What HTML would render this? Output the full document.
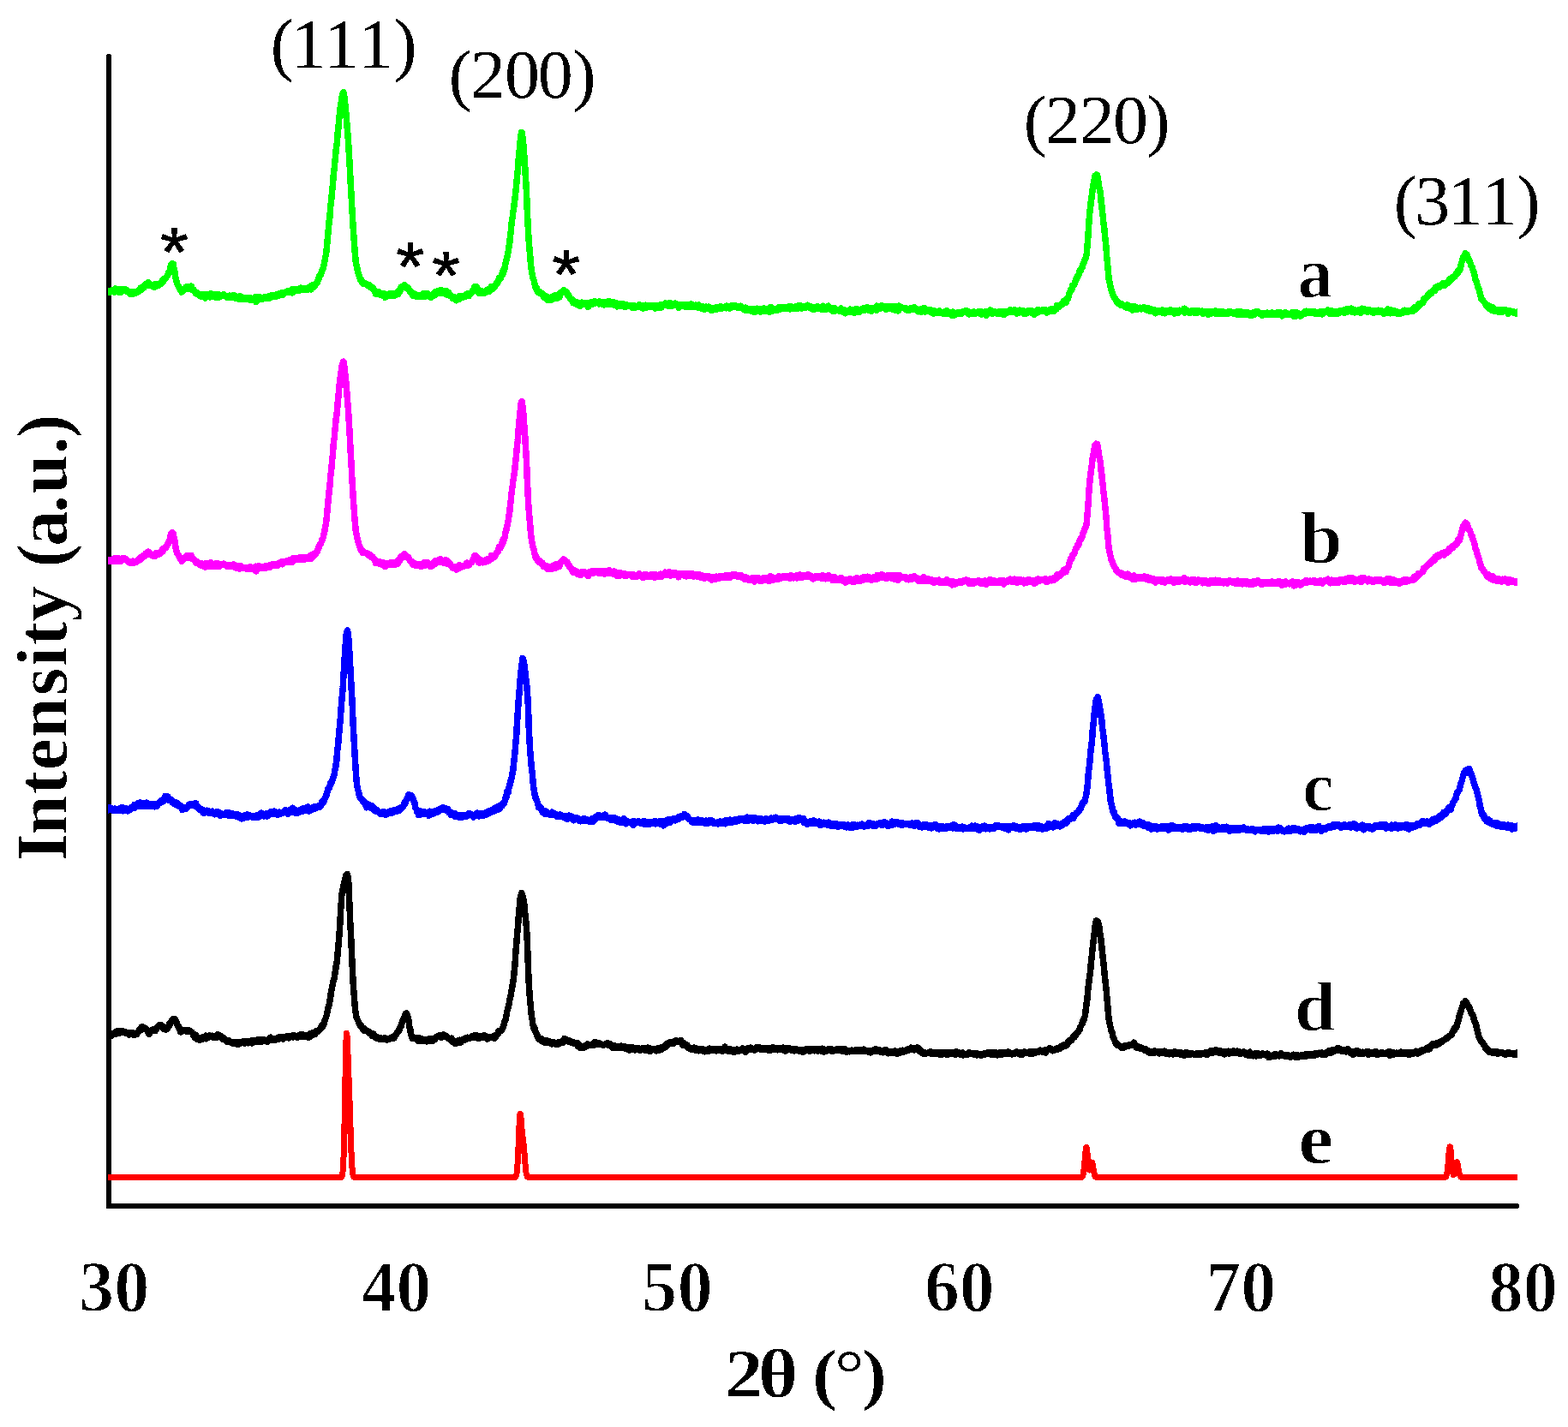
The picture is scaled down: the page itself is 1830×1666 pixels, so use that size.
<!DOCTYPE html>
<html lang="en">
<head>
<meta charset="utf-8">
<title>XRD patterns</title>
<style>
html,body{margin:0;padding:0;background:#fff;}
body{width:1830px;height:1666px;overflow:hidden;}
svg{display:block;}
.curve{fill:none;stroke-linejoin:round;stroke-linecap:butt;}
.axis{fill:none;stroke:#000;stroke-width:6;stroke-linecap:round;stroke-linejoin:miter;shape-rendering:crispEdges;}
text{font-size:100px;fill:#000;}
</style>
</head>
<body>
<svg width="1830" height="1666" viewBox="0 0 1830 1666" role="img" aria-label="XRD patterns">
<defs>
<filter id="hard" filterUnits="userSpaceOnUse" x="0" y="0" width="1830" height="1666" color-interpolation-filters="sRGB">
<feComponentTransfer><feFuncR type="discrete" tableValues="0 1"/><feFuncG type="discrete" tableValues="0 1"/><feFuncB type="discrete" tableValues="0 1"/><feFuncA type="discrete" tableValues="0 1"/></feComponentTransfer>
</filter>
</defs>
<clipPath id="plot"><rect x="126" y="0" width="1645" height="1666"/></clipPath>
<rect width="1830" height="1666" fill="#fff"/>
<path class="axis" d="M127,66 L127,1408 L1770,1408"/>
<g clip-path="url(#plot)"><g class="curve" stroke-width="7.5" filter="url(#hard)">
<path stroke="#f00" stroke-width="7" stroke-linejoin="round" d="M119.0,1374.6 L397.0,1374.6 L397.5,1374.5 L398.0,1374.4 L398.5,1374.1 L399.0,1373.4 L399.5,1371.7 L400.0,1368.3 L400.5,1361.9 L401.0,1351.0 L401.5,1334.6 L402.0,1312.3 L402.5,1285.4 L403.0,1257.1 L403.5,1231.9 L404.0,1214.1 L404.5,1206.3 L405.0,1208.5 L405.5,1218.0 L406.0,1231.1 L406.5,1244.9 L407.0,1258.1 L407.5,1271.1 L408.0,1284.9 L408.5,1300.1 L409.0,1316.1 L409.5,1331.7 L410.0,1345.5 L410.5,1356.3 L411.0,1364.1 L411.5,1369.0 L412.0,1371.9 L412.5,1373.4 L413.0,1374.1 L413.5,1374.4 L414.0,1374.5 L414.5,1374.6 L415.0,1374.6 L600.0,1374.6 L600.5,1374.6 L601.0,1374.5 L601.5,1374.2 L602.0,1373.7 L602.5,1372.5 L603.0,1370.1 L603.5,1366.0 L604.0,1359.5 L604.5,1350.4 L605.0,1338.8 L605.5,1326.0 L606.0,1313.9 L606.5,1304.8 L607.0,1300.3 L607.5,1300.8 L608.0,1305.4 L608.5,1312.0 L609.0,1318.5 L609.5,1323.8 L610.0,1327.6 L610.5,1330.9 L611.0,1334.7 L611.5,1339.7 L612.0,1345.8 L612.5,1352.6 L613.0,1359.0 L613.5,1364.4 L614.0,1368.5 L614.5,1371.3 L615.0,1372.9 L615.5,1373.8 L616.0,1374.3 L616.5,1374.5 L617.0,1374.6 L617.5,1374.6 L1261.0,1374.6 L1261.5,1374.6 L1262.0,1374.5 L1262.5,1374.4 L1263.0,1374.0 L1263.5,1373.4 L1264.0,1372.0 L1264.5,1369.8 L1265.0,1366.3 L1265.5,1361.5 L1266.0,1355.6 L1266.5,1349.3 L1267.0,1343.7 L1267.5,1340.0 L1268.0,1339.1 L1268.5,1341.1 L1269.0,1345.6 L1269.5,1351.4 L1270.0,1357.2 L1270.5,1361.9 L1271.0,1364.8 L1271.5,1365.8 L1272.0,1365.0 L1272.5,1362.9 L1273.0,1360.4 L1273.5,1358.1 L1274.0,1356.9 L1274.5,1357.1 L1275.0,1358.7 L1275.5,1361.3 L1276.0,1364.5 L1276.5,1367.5 L1277.0,1370.0 L1277.5,1371.9 L1278.0,1373.1 L1278.5,1373.9 L1279.0,1374.3 L1279.5,1374.5 L1280.0,1374.5 L1280.5,1374.6 L1685.5,1374.6 L1686.0,1374.6 L1686.5,1374.5 L1687.0,1374.3 L1687.5,1373.8 L1688.0,1372.9 L1688.5,1371.2 L1689.0,1368.5 L1689.5,1364.4 L1690.0,1359.0 L1690.5,1352.7 L1691.0,1346.5 L1691.5,1341.5 L1692.0,1338.8 L1692.5,1339.1 L1693.0,1342.3 L1693.5,1347.7 L1694.0,1354.0 L1694.5,1360.1 L1695.0,1365.2 L1695.5,1368.8 L1696.0,1370.9 L1696.5,1371.6 L1697.0,1371.2 L1697.5,1369.7 L1698.0,1367.3 L1698.5,1364.3 L1699.0,1361.1 L1699.5,1358.5 L1700.0,1356.9 L1700.5,1356.7 L1701.0,1358.0 L1701.5,1360.6 L1702.0,1363.7 L1702.5,1366.8 L1703.0,1369.5 L1703.5,1371.5 L1704.0,1372.9 L1704.5,1373.7 L1705.0,1374.2 L1705.5,1374.4 L1706.0,1374.5 L1706.5,1374.6 L1707.0,1374.6 L1777.5,1374.6"/>
<path stroke="#000" d="M119.0,1207.5 L119.7,1208.1 L120.3,1209.9 L121.0,1209.3 L121.6,1207.5 L122.3,1209.0 L123.0,1208.5 L123.6,1209.1 L124.3,1207.5 L124.9,1209.1 L125.6,1209.0 L126.3,1210.2 L126.9,1209.1 L127.6,1209.1 L128.2,1207.2 L128.9,1210.2 L129.6,1206.6 L130.2,1209.1 L130.9,1207.8 L131.5,1207.1 L132.2,1206.9 L132.9,1206.6 L133.5,1207.2 L134.2,1206.4 L134.8,1207.5 L135.5,1204.4 L136.2,1205.6 L136.8,1204.7 L137.5,1206.1 L138.1,1203.6 L138.8,1205.1 L139.5,1205.5 L140.1,1203.9 L140.8,1205.8 L141.4,1205.0 L142.1,1205.5 L142.8,1205.4 L143.4,1203.8 L144.1,1204.1 L144.7,1204.8 L145.4,1205.8 L146.1,1206.1 L146.7,1204.9 L147.4,1205.2 L148.0,1205.3 L148.7,1205.6 L149.4,1206.0 L150.0,1206.1 L150.7,1207.9 L151.3,1205.8 L152.0,1206.1 L152.7,1206.9 L153.3,1205.9 L154.0,1206.6 L154.6,1207.0 L155.3,1207.8 L156.0,1206.1 L156.6,1208.3 L157.3,1206.7 L157.9,1207.1 L158.6,1207.7 L159.3,1207.3 L159.9,1207.2 L160.6,1205.8 L161.2,1204.9 L161.9,1204.3 L162.6,1202.3 L163.2,1203.3 L163.9,1200.8 L164.5,1199.7 L165.2,1202.1 L165.9,1199.9 L166.5,1198.8 L167.2,1201.4 L167.8,1199.7 L168.5,1201.3 L169.2,1200.2 L169.8,1201.4 L170.5,1200.9 L171.1,1201.6 L171.8,1203.1 L172.5,1204.5 L173.1,1205.7 L173.8,1207.3 L174.4,1204.4 L175.1,1205.8 L175.8,1204.0 L176.4,1203.9 L177.1,1202.3 L177.7,1202.0 L178.4,1202.4 L179.1,1202.1 L179.7,1203.1 L180.4,1202.4 L181.0,1203.7 L181.7,1202.1 L182.4,1201.2 L183.0,1201.0 L183.7,1199.5 L184.3,1198.1 L185.0,1197.4 L185.7,1196.8 L186.3,1197.5 L187.0,1197.2 L187.6,1197.0 L188.3,1197.8 L189.0,1197.4 L189.6,1199.1 L190.3,1198.2 L190.9,1201.3 L191.6,1200.8 L192.3,1201.2 L192.9,1201.8 L193.6,1201.4 L194.2,1201.0 L194.9,1201.8 L195.6,1200.2 L196.2,1198.4 L196.9,1198.4 L197.5,1195.3 L198.2,1196.8 L198.9,1193.8 L199.5,1192.7 L200.2,1193.4 L200.8,1192.4 L201.5,1189.9 L202.2,1189.8 L202.8,1189.9 L203.5,1190.5 L204.1,1189.5 L204.8,1190.6 L205.5,1192.8 L206.1,1193.6 L206.8,1195.8 L207.4,1197.6 L208.1,1198.0 L208.8,1200.1 L209.4,1200.0 L210.1,1203.1 L210.7,1205.0 L211.4,1203.0 L212.1,1204.6 L212.7,1204.1 L213.4,1203.0 L214.0,1203.0 L214.7,1203.2 L215.4,1202.6 L216.0,1203.3 L216.7,1203.6 L217.3,1204.1 L218.0,1204.2 L218.7,1202.8 L219.3,1204.0 L220.0,1202.6 L220.6,1203.1 L221.3,1203.7 L222.0,1203.7 L222.6,1204.1 L223.3,1205.1 L223.9,1205.2 L224.6,1205.9 L225.3,1207.2 L225.9,1209.1 L226.6,1208.9 L227.2,1211.3 L227.9,1210.5 L228.6,1208.4 L229.2,1211.0 L229.9,1213.2 L230.5,1212.1 L231.2,1212.0 L231.9,1211.8 L232.5,1213.8 L233.2,1213.6 L233.8,1213.2 L234.5,1212.8 L235.2,1213.5 L235.8,1212.7 L236.5,1210.8 L237.1,1212.3 L237.8,1211.7 L238.5,1211.5 L239.1,1212.3 L239.8,1211.7 L240.4,1209.1 L241.1,1212.7 L241.8,1212.0 L242.4,1210.6 L243.1,1210.1 L243.7,1210.3 L244.4,1208.9 L245.1,1210.2 L245.7,1209.8 L246.4,1209.7 L247.0,1209.2 L247.7,1209.4 L248.4,1210.9 L249.0,1211.1 L249.7,1210.5 L250.3,1210.0 L251.0,1209.4 L251.7,1210.7 L252.3,1211.5 L253.0,1208.6 L253.6,1210.8 L254.3,1207.9 L255.0,1209.3 L255.6,1210.0 L256.3,1208.7 L256.9,1209.0 L257.6,1210.8 L258.3,1211.8 L258.9,1210.9 L259.6,1212.7 L260.2,1211.1 L260.9,1213.5 L261.6,1212.3 L262.2,1212.8 L262.9,1213.5 L263.5,1213.7 L264.2,1215.4 L264.9,1216.2 L265.5,1215.3 L266.2,1215.1 L266.8,1214.7 L267.5,1215.5 L268.2,1216.5 L268.8,1216.6 L269.5,1216.8 L270.1,1217.1 L270.8,1217.7 L271.5,1216.3 L272.1,1216.7 L272.8,1218.6 L273.4,1218.3 L274.1,1217.1 L274.8,1218.7 L275.4,1217.1 L276.1,1217.6 L276.7,1216.4 L277.4,1218.9 L278.1,1218.3 L278.7,1219.1 L279.4,1218.6 L280.0,1217.7 L280.7,1217.3 L281.4,1217.8 L282.0,1216.3 L282.7,1216.2 L283.3,1216.3 L284.0,1217.0 L284.7,1217.1 L285.3,1217.9 L286.0,1216.2 L286.6,1217.3 L287.3,1215.6 L288.0,1216.7 L288.6,1216.3 L289.3,1217.6 L289.9,1216.6 L290.6,1215.5 L291.3,1216.2 L291.9,1215.9 L292.6,1215.3 L293.2,1215.3 L293.9,1214.8 L294.6,1217.9 L295.2,1215.6 L295.9,1216.3 L296.5,1214.4 L297.2,1214.4 L297.9,1215.2 L298.5,1215.1 L299.2,1215.7 L299.8,1214.0 L300.5,1215.1 L301.2,1215.8 L301.8,1213.8 L302.5,1215.4 L303.1,1214.0 L303.8,1215.2 L304.5,1215.3 L305.1,1216.4 L305.8,1214.2 L306.4,1214.9 L307.1,1215.6 L307.8,1213.7 L308.4,1214.8 L309.1,1214.1 L309.7,1214.2 L310.4,1215.2 L311.1,1215.0 L311.7,1216.3 L312.4,1215.0 L313.0,1214.7 L313.7,1213.3 L314.4,1213.0 L315.0,1213.3 L315.7,1211.1 L316.3,1214.5 L317.0,1212.5 L317.7,1212.3 L318.3,1212.9 L319.0,1214.2 L319.6,1214.6 L320.3,1213.3 L321.0,1214.0 L321.6,1213.4 L322.3,1212.4 L322.9,1213.2 L323.6,1212.9 L324.3,1211.4 L324.9,1213.6 L325.6,1211.2 L326.2,1212.6 L326.9,1211.4 L327.6,1211.4 L328.2,1211.3 L328.9,1212.4 L329.5,1210.6 L330.2,1211.6 L330.9,1213.0 L331.5,1211.0 L332.2,1211.4 L332.8,1211.7 L333.5,1210.4 L334.2,1211.0 L334.8,1209.8 L335.5,1210.9 L336.1,1210.4 L336.8,1209.6 L337.5,1211.8 L338.1,1210.6 L338.8,1210.6 L339.4,1210.0 L340.1,1210.2 L340.8,1210.3 L341.4,1210.3 L342.1,1210.8 L342.7,1208.4 L343.4,1209.1 L344.1,1210.3 L344.7,1209.4 L345.4,1209.7 L346.0,1210.7 L346.7,1209.7 L347.4,1209.8 L348.0,1209.3 L348.7,1210.7 L349.3,1210.0 L350.0,1208.3 L350.7,1209.3 L351.3,1207.9 L352.0,1210.0 L352.6,1209.8 L353.3,1209.3 L354.0,1209.3 L354.6,1208.2 L355.3,1210.4 L355.9,1209.7 L356.6,1209.4 L357.3,1210.3 L357.9,1209.1 L358.6,1209.1 L359.2,1208.9 L359.9,1208.3 L360.6,1211.4 L361.2,1209.1 L361.9,1208.8 L362.5,1209.8 L363.2,1206.2 L363.9,1208.7 L364.5,1208.5 L365.2,1207.3 L365.8,1208.1 L366.5,1205.6 L367.2,1206.9 L367.8,1207.2 L368.5,1204.0 L369.1,1204.2 L369.8,1204.9 L370.5,1204.5 L371.1,1203.5 L371.8,1203.9 L372.4,1203.3 L373.1,1201.4 L373.8,1201.9 L374.4,1200.1 L375.1,1198.5 L375.7,1197.2 L376.4,1198.9 L377.1,1196.5 L377.7,1196.7 L378.4,1192.2 L379.0,1191.4 L379.7,1190.1 L380.4,1187.6 L381.0,1186.0 L381.7,1183.4 L382.3,1180.3 L383.0,1176.0 L383.7,1173.9 L384.3,1172.7 L385.0,1168.0 L385.6,1164.6 L386.3,1159.0 L387.0,1155.6 L387.6,1151.5 L388.3,1149.4 L388.9,1146.2 L389.6,1143.6 L390.3,1141.6 L390.9,1136.1 L391.6,1133.7 L392.2,1127.8 L392.9,1125.2 L393.6,1118.5 L394.2,1112.2 L394.9,1104.7 L395.5,1097.7 L396.2,1087.8 L396.9,1077.5 L397.5,1065.0 L398.2,1054.7 L398.8,1045.5 L399.5,1041.4 L400.2,1037.9 L400.8,1034.9 L401.5,1030.5 L402.1,1028.9 L402.8,1027.4 L403.5,1022.6 L404.1,1023.5 L404.8,1023.1 L405.4,1020.3 L406.1,1023.5 L406.8,1030.4 L407.4,1045.0 L408.1,1059.9 L408.7,1076.1 L409.4,1088.9 L410.1,1102.8 L410.7,1117.8 L411.4,1131.9 L412.0,1144.8 L412.7,1155.3 L413.4,1163.4 L414.0,1172.3 L414.7,1179.8 L415.3,1182.6 L416.0,1187.8 L416.7,1189.2 L417.3,1190.7 L418.0,1192.0 L418.6,1193.7 L419.3,1194.8 L420.0,1196.7 L420.6,1196.2 L421.3,1198.9 L421.9,1198.2 L422.6,1200.3 L423.3,1201.3 L423.9,1199.9 L424.6,1202.2 L425.2,1203.5 L425.9,1201.6 L426.6,1202.9 L427.2,1202.6 L427.9,1203.2 L428.5,1203.4 L429.2,1203.5 L429.9,1204.9 L430.5,1205.4 L431.2,1205.1 L431.8,1206.9 L432.5,1207.2 L433.2,1207.4 L433.8,1206.7 L434.5,1209.4 L435.1,1209.3 L435.8,1206.8 L436.5,1208.2 L437.1,1209.1 L437.8,1210.7 L438.4,1211.4 L439.1,1210.6 L439.8,1211.5 L440.4,1212.3 L441.1,1211.1 L441.7,1213.0 L442.4,1212.6 L443.1,1213.1 L443.7,1212.9 L444.4,1211.9 L445.0,1212.0 L445.7,1212.8 L446.4,1212.8 L447.0,1212.5 L447.7,1213.6 L448.3,1212.4 L449.0,1211.7 L449.7,1212.6 L450.3,1212.8 L451.0,1212.8 L451.6,1213.9 L452.3,1213.2 L453.0,1213.6 L453.6,1213.1 L454.3,1212.3 L454.9,1213.2 L455.6,1212.0 L456.3,1212.4 L456.9,1211.1 L457.6,1211.8 L458.2,1211.1 L458.9,1211.2 L459.6,1211.9 L460.2,1211.7 L460.9,1209.8 L461.5,1208.1 L462.2,1208.1 L462.9,1206.9 L463.5,1205.3 L464.2,1204.9 L464.8,1203.7 L465.5,1202.3 L466.2,1202.8 L466.8,1199.9 L467.5,1198.7 L468.1,1198.3 L468.8,1195.3 L469.5,1193.0 L470.1,1191.2 L470.8,1190.3 L471.4,1188.3 L472.1,1186.6 L472.8,1184.7 L473.4,1183.5 L474.1,1184.7 L474.7,1183.1 L475.4,1185.6 L476.1,1187.1 L476.7,1191.0 L477.4,1194.9 L478.0,1199.9 L478.7,1200.2 L479.4,1207.3 L480.0,1208.1 L480.7,1211.0 L481.3,1212.1 L482.0,1210.7 L482.7,1211.3 L483.3,1212.0 L484.0,1211.7 L484.6,1211.6 L485.3,1212.9 L486.0,1213.3 L486.6,1212.3 L487.3,1214.9 L487.9,1213.9 L488.6,1211.6 L489.3,1212.9 L489.9,1215.0 L490.6,1214.9 L491.2,1214.0 L491.9,1212.5 L492.6,1214.0 L493.2,1215.4 L493.9,1214.9 L494.5,1214.2 L495.2,1213.7 L495.9,1214.9 L496.5,1214.0 L497.2,1214.4 L497.8,1214.6 L498.5,1215.8 L499.2,1214.7 L499.8,1214.8 L500.5,1213.1 L501.1,1215.4 L501.8,1215.1 L502.5,1214.3 L503.1,1212.3 L503.8,1213.7 L504.4,1214.1 L505.1,1215.6 L505.8,1214.0 L506.4,1213.8 L507.1,1213.5 L507.7,1213.5 L508.4,1211.0 L509.1,1210.9 L509.7,1210.3 L510.4,1210.7 L511.0,1210.4 L511.7,1210.5 L512.4,1209.2 L513.0,1209.8 L513.7,1208.6 L514.3,1210.9 L515.0,1208.5 L515.7,1211.0 L516.3,1210.3 L517.0,1208.0 L517.6,1210.0 L518.3,1210.0 L519.0,1208.4 L519.6,1210.5 L520.3,1210.2 L520.9,1210.9 L521.6,1210.2 L522.3,1211.3 L522.9,1212.2 L523.6,1212.2 L524.2,1212.3 L524.9,1213.2 L525.6,1212.9 L526.2,1214.3 L526.9,1212.0 L527.5,1215.8 L528.2,1214.9 L528.9,1215.7 L529.5,1216.4 L530.2,1215.0 L530.8,1218.2 L531.5,1215.5 L532.2,1217.0 L532.8,1216.9 L533.5,1217.7 L534.1,1216.5 L534.8,1215.2 L535.5,1216.6 L536.1,1214.2 L536.8,1216.0 L537.4,1215.6 L538.1,1217.0 L538.8,1215.0 L539.4,1214.4 L540.1,1213.6 L540.7,1213.2 L541.4,1213.1 L542.1,1214.0 L542.7,1212.3 L543.4,1213.3 L544.0,1212.1 L544.7,1212.9 L545.4,1212.8 L546.0,1211.2 L546.7,1211.5 L547.3,1211.8 L548.0,1212.2 L548.7,1212.3 L549.3,1211.3 L550.0,1210.5 L550.6,1209.7 L551.3,1211.4 L552.0,1211.5 L552.6,1210.2 L553.3,1210.8 L553.9,1208.8 L554.6,1208.8 L555.3,1210.6 L555.9,1208.7 L556.6,1210.5 L557.2,1210.8 L557.9,1210.9 L558.6,1212.4 L559.2,1210.3 L559.9,1210.7 L560.5,1209.3 L561.2,1210.2 L561.9,1210.7 L562.5,1210.7 L563.2,1210.7 L563.8,1210.9 L564.5,1209.8 L565.2,1208.5 L565.8,1210.3 L566.5,1210.7 L567.1,1209.7 L567.8,1210.4 L568.5,1213.0 L569.1,1212.6 L569.8,1212.7 L570.4,1212.1 L571.1,1211.4 L571.8,1210.6 L572.4,1211.2 L573.1,1210.5 L573.7,1210.2 L574.4,1210.7 L575.1,1210.6 L575.7,1211.5 L576.4,1209.7 L577.0,1212.4 L577.7,1209.0 L578.4,1209.2 L579.0,1209.9 L579.7,1207.9 L580.3,1207.7 L581.0,1207.4 L581.7,1204.0 L582.3,1205.3 L583.0,1204.0 L583.6,1203.8 L584.3,1203.6 L585.0,1202.8 L585.6,1202.5 L586.3,1201.5 L586.9,1199.9 L587.6,1197.4 L588.3,1196.5 L588.9,1192.7 L589.6,1191.1 L590.2,1189.7 L590.9,1186.3 L591.6,1181.5 L592.2,1179.2 L592.9,1177.5 L593.5,1174.4 L594.2,1171.9 L594.9,1166.6 L595.5,1164.0 L596.2,1161.6 L596.8,1157.5 L597.5,1154.6 L598.2,1150.5 L598.8,1146.4 L599.5,1141.1 L600.1,1135.3 L600.8,1127.8 L601.5,1118.7 L602.1,1108.5 L602.8,1101.8 L603.4,1092.7 L604.1,1085.6 L604.8,1077.5 L605.4,1067.7 L606.1,1061.6 L606.7,1053.4 L607.4,1047.1 L608.1,1045.3 L608.7,1042.5 L609.4,1043.7 L610.0,1046.2 L610.7,1050.1 L611.4,1051.6 L612.0,1058.0 L612.7,1065.5 L613.3,1071.4 L614.0,1076.8 L614.7,1087.6 L615.3,1099.1 L616.0,1116.5 L616.6,1134.1 L617.3,1148.9 L618.0,1159.2 L618.6,1167.3 L619.3,1174.3 L619.9,1181.6 L620.6,1187.4 L621.3,1191.0 L621.9,1196.5 L622.6,1199.1 L623.2,1201.1 L623.9,1200.0 L624.6,1204.2 L625.2,1205.5 L625.9,1206.1 L626.5,1208.8 L627.2,1208.3 L627.9,1211.7 L628.5,1211.9 L629.2,1211.8 L629.8,1213.9 L630.5,1213.3 L631.2,1213.6 L631.8,1212.7 L632.5,1214.8 L633.1,1216.1 L633.8,1216.3 L634.5,1214.7 L635.1,1217.2 L635.8,1217.4 L636.4,1216.8 L637.1,1215.7 L637.8,1214.8 L638.4,1215.5 L639.1,1216.0 L639.7,1217.0 L640.4,1217.5 L641.1,1216.7 L641.7,1216.1 L642.4,1217.3 L643.0,1216.5 L643.7,1218.8 L644.4,1216.6 L645.0,1218.0 L645.7,1218.3 L646.3,1216.9 L647.0,1218.7 L647.7,1218.0 L648.3,1217.6 L649.0,1217.6 L649.6,1218.6 L650.3,1219.5 L651.0,1217.0 L651.6,1219.1 L652.3,1218.3 L652.9,1217.5 L653.6,1217.8 L654.3,1217.4 L654.9,1216.9 L655.6,1217.1 L656.2,1215.1 L656.9,1217.1 L657.6,1215.7 L658.2,1214.0 L658.9,1212.4 L659.5,1213.7 L660.2,1213.1 L660.9,1214.1 L661.5,1214.3 L662.2,1215.6 L662.8,1214.2 L663.5,1215.3 L664.2,1214.5 L664.8,1214.8 L665.5,1216.6 L666.1,1215.5 L666.8,1216.0 L667.5,1216.3 L668.1,1217.4 L668.8,1218.0 L669.4,1217.6 L670.1,1217.0 L670.8,1218.4 L671.4,1217.7 L672.1,1218.3 L672.7,1219.2 L673.4,1219.6 L674.1,1217.8 L674.7,1221.7 L675.4,1221.3 L676.0,1222.5 L676.7,1223.3 L677.4,1220.6 L678.0,1221.1 L678.7,1222.0 L679.3,1222.8 L680.0,1221.7 L680.7,1221.9 L681.3,1223.0 L682.0,1221.2 L682.6,1221.9 L683.3,1222.3 L684.0,1220.9 L684.6,1221.5 L685.3,1220.5 L685.9,1219.0 L686.6,1219.8 L687.3,1220.0 L687.9,1219.9 L688.6,1220.0 L689.2,1220.2 L689.9,1220.0 L690.6,1219.7 L691.2,1219.1 L691.9,1219.1 L692.5,1218.8 L693.2,1218.4 L693.9,1219.9 L694.5,1216.9 L695.2,1218.5 L695.8,1216.7 L696.5,1217.5 L697.2,1218.7 L697.8,1217.9 L698.5,1219.6 L699.1,1217.9 L699.8,1218.7 L700.5,1218.6 L701.1,1219.2 L701.8,1219.0 L702.4,1219.1 L703.1,1219.6 L703.8,1220.5 L704.4,1219.8 L705.1,1219.8 L705.7,1219.5 L706.4,1219.1 L707.1,1218.4 L707.7,1218.7 L708.4,1219.5 L709.0,1217.7 L709.7,1219.8 L710.4,1218.8 L711.0,1218.3 L711.7,1218.8 L712.3,1220.0 L713.0,1220.1 L713.7,1220.4 L714.3,1222.3 L715.0,1223.3 L715.6,1220.7 L716.3,1222.9 L717.0,1221.7 L717.6,1221.1 L718.3,1221.7 L718.9,1222.8 L719.6,1221.5 L720.3,1221.3 L720.9,1223.0 L721.6,1222.3 L722.2,1222.0 L722.9,1223.7 L723.6,1222.6 L724.2,1221.6 L724.9,1221.2 L725.5,1221.8 L726.2,1222.3 L726.9,1223.0 L727.5,1223.0 L728.2,1222.6 L728.8,1221.7 L729.5,1223.8 L730.2,1223.4 L730.8,1222.8 L731.5,1223.1 L732.1,1224.6 L732.8,1224.9 L733.5,1225.4 L734.1,1223.6 L734.8,1226.1 L735.4,1222.6 L736.1,1223.9 L736.8,1225.0 L737.4,1224.7 L738.1,1223.0 L738.7,1224.5 L739.4,1225.1 L740.1,1224.9 L740.7,1223.6 L741.4,1226.0 L742.0,1223.3 L742.7,1224.9 L743.4,1224.0 L744.0,1224.6 L744.7,1224.8 L745.3,1225.6 L746.0,1224.1 L746.7,1225.3 L747.3,1226.1 L748.0,1224.9 L748.6,1225.1 L749.3,1224.8 L750.0,1223.7 L750.6,1224.0 L751.3,1224.3 L751.9,1224.6 L752.6,1225.9 L753.3,1225.6 L753.9,1223.9 L754.6,1224.2 L755.2,1224.0 L755.9,1223.2 L756.6,1226.6 L757.2,1226.0 L757.9,1223.9 L758.5,1225.6 L759.2,1227.6 L759.9,1225.9 L760.5,1225.9 L761.2,1225.6 L761.8,1224.7 L762.5,1224.2 L763.2,1224.5 L763.8,1225.3 L764.5,1225.0 L765.1,1225.8 L765.8,1226.8 L766.5,1225.7 L767.1,1225.8 L767.8,1224.7 L768.4,1223.8 L769.1,1226.6 L769.8,1225.2 L770.4,1225.6 L771.1,1224.2 L771.7,1223.0 L772.4,1225.4 L773.1,1222.2 L773.7,1223.6 L774.4,1222.9 L775.0,1223.2 L775.7,1223.2 L776.4,1222.7 L777.0,1219.6 L777.7,1221.6 L778.3,1218.5 L779.0,1220.1 L779.7,1218.6 L780.3,1217.6 L781.0,1217.8 L781.6,1216.8 L782.3,1217.7 L783.0,1218.3 L783.6,1218.0 L784.3,1217.1 L784.9,1217.7 L785.6,1216.9 L786.3,1218.1 L786.9,1216.3 L787.6,1215.1 L788.2,1215.2 L788.9,1214.7 L789.6,1215.1 L790.2,1215.3 L790.9,1216.1 L791.5,1216.3 L792.2,1215.8 L792.9,1216.3 L793.5,1215.5 L794.2,1216.0 L794.8,1214.6 L795.5,1216.5 L796.2,1217.2 L796.8,1220.3 L797.5,1217.4 L798.1,1219.1 L798.8,1219.2 L799.5,1218.6 L800.1,1220.7 L800.8,1221.0 L801.4,1220.3 L802.1,1220.2 L802.8,1222.8 L803.4,1222.0 L804.1,1224.2 L804.7,1223.5 L805.4,1224.3 L806.1,1223.5 L806.7,1225.1 L807.4,1224.4 L808.0,1225.2 L808.7,1224.1 L809.4,1223.3 L810.0,1223.0 L810.7,1223.9 L811.3,1224.6 L812.0,1223.9 L812.7,1226.7 L813.3,1224.7 L814.0,1225.4 L814.6,1225.4 L815.3,1224.6 L816.0,1226.8 L816.6,1226.4 L817.3,1226.5 L817.9,1224.8 L818.6,1225.6 L819.3,1225.7 L819.9,1226.9 L820.6,1224.8 L821.2,1226.8 L821.9,1227.5 L822.6,1226.1 L823.2,1225.7 L823.9,1227.5 L824.5,1226.6 L825.2,1227.4 L825.9,1227.1 L826.5,1227.3 L827.2,1226.1 L827.8,1224.2 L828.5,1226.4 L829.2,1225.0 L829.8,1226.0 L830.5,1224.8 L831.1,1226.6 L831.8,1224.9 L832.5,1225.9 L833.1,1226.1 L833.8,1225.1 L834.4,1225.5 L835.1,1225.3 L835.8,1224.6 L836.4,1226.9 L837.1,1225.0 L837.7,1224.5 L838.4,1225.5 L839.1,1226.2 L839.7,1226.3 L840.4,1225.9 L841.0,1225.9 L841.7,1224.4 L842.4,1226.7 L843.0,1227.5 L843.7,1225.2 L844.3,1224.1 L845.0,1226.2 L845.7,1225.4 L846.3,1222.1 L847.0,1224.9 L847.6,1224.3 L848.3,1224.4 L849.0,1227.0 L849.6,1225.9 L850.3,1224.9 L850.9,1225.1 L851.6,1226.7 L852.3,1224.8 L852.9,1226.9 L853.6,1226.1 L854.2,1227.7 L854.9,1227.2 L855.6,1226.3 L856.2,1227.7 L856.9,1227.1 L857.5,1228.1 L858.2,1226.0 L858.9,1226.3 L859.5,1225.4 L860.2,1227.0 L860.8,1225.2 L861.5,1225.9 L862.2,1227.2 L862.8,1226.7 L863.5,1226.5 L864.1,1226.5 L864.8,1226.5 L865.5,1226.6 L866.1,1225.6 L866.8,1224.0 L867.4,1226.8 L868.1,1224.7 L868.8,1227.3 L869.4,1225.9 L870.1,1228.3 L870.7,1226.4 L871.4,1225.7 L872.1,1226.0 L872.7,1223.9 L873.4,1225.2 L874.0,1224.7 L874.7,1225.0 L875.4,1223.1 L876.0,1223.0 L876.7,1225.6 L877.3,1225.1 L878.0,1224.8 L878.7,1225.3 L879.3,1224.8 L880.0,1224.9 L880.6,1225.9 L881.3,1225.0 L882.0,1225.6 L882.6,1224.0 L883.3,1222.5 L883.9,1223.1 L884.6,1223.3 L885.3,1222.4 L885.9,1223.2 L886.6,1223.4 L887.2,1225.0 L887.9,1225.2 L888.6,1225.4 L889.2,1223.7 L889.9,1224.5 L890.5,1225.3 L891.2,1224.5 L891.9,1224.4 L892.5,1223.9 L893.2,1225.4 L893.8,1224.7 L894.5,1225.2 L895.2,1224.0 L895.8,1225.9 L896.5,1224.2 L897.1,1223.4 L897.8,1225.0 L898.5,1225.5 L899.1,1226.4 L899.8,1224.9 L900.4,1224.6 L901.1,1224.6 L901.8,1224.3 L902.4,1222.6 L903.1,1225.0 L903.7,1225.5 L904.4,1223.7 L905.1,1223.7 L905.7,1224.6 L906.4,1224.1 L907.0,1225.7 L907.7,1224.5 L908.4,1225.6 L909.0,1224.0 L909.7,1223.9 L910.3,1223.7 L911.0,1223.8 L911.7,1225.3 L912.3,1225.6 L913.0,1225.0 L913.6,1225.0 L914.3,1223.0 L915.0,1225.9 L915.6,1223.9 L916.3,1226.1 L916.9,1227.0 L917.6,1224.9 L918.3,1225.2 L918.9,1225.1 L919.6,1223.3 L920.2,1223.4 L920.9,1223.7 L921.6,1224.4 L922.2,1225.1 L922.9,1224.8 L923.5,1226.0 L924.2,1224.9 L924.9,1224.4 L925.5,1225.9 L926.2,1225.9 L926.8,1224.7 L927.5,1226.8 L928.2,1225.0 L928.8,1225.3 L929.5,1226.3 L930.1,1225.3 L930.8,1226.8 L931.5,1226.7 L932.1,1226.8 L932.8,1226.4 L933.4,1225.9 L934.1,1225.6 L934.8,1226.6 L935.4,1227.7 L936.1,1227.4 L936.7,1227.2 L937.4,1227.7 L938.1,1227.9 L938.7,1225.3 L939.4,1226.1 L940.0,1226.9 L940.7,1225.0 L941.4,1225.0 L942.0,1225.9 L942.7,1225.2 L943.3,1226.3 L944.0,1224.9 L944.7,1225.7 L945.3,1227.4 L946.0,1226.4 L946.6,1224.5 L947.3,1224.9 L948.0,1225.0 L948.6,1225.8 L949.3,1224.5 L949.9,1226.0 L950.6,1226.9 L951.3,1226.8 L951.9,1224.8 L952.6,1225.3 L953.2,1225.3 L953.9,1224.8 L954.6,1227.0 L955.2,1224.8 L955.9,1224.4 L956.5,1225.7 L957.2,1225.7 L957.9,1226.9 L958.5,1227.1 L959.2,1225.8 L959.8,1224.2 L960.5,1226.8 L961.2,1227.0 L961.8,1228.0 L962.5,1225.1 L963.1,1225.3 L963.8,1227.4 L964.5,1227.1 L965.1,1226.6 L965.8,1225.3 L966.4,1226.4 L967.1,1224.8 L967.8,1224.4 L968.4,1225.7 L969.1,1226.0 L969.7,1226.8 L970.4,1227.2 L971.1,1225.0 L971.7,1226.9 L972.4,1227.2 L973.0,1225.7 L973.7,1226.5 L974.4,1226.5 L975.0,1226.6 L975.7,1225.3 L976.3,1225.3 L977.0,1224.7 L977.7,1225.8 L978.3,1225.1 L979.0,1224.8 L979.6,1225.9 L980.3,1225.3 L981.0,1224.6 L981.6,1226.8 L982.3,1226.9 L982.9,1226.5 L983.6,1225.2 L984.3,1227.1 L984.9,1225.6 L985.6,1224.5 L986.2,1226.1 L986.9,1227.8 L987.6,1225.9 L988.2,1226.9 L988.9,1227.8 L989.5,1227.0 L990.2,1226.8 L990.9,1227.2 L991.5,1227.7 L992.2,1226.6 L992.8,1227.0 L993.5,1227.0 L994.2,1226.1 L994.8,1227.1 L995.5,1227.1 L996.1,1226.6 L996.8,1227.0 L997.5,1227.3 L998.1,1226.9 L998.8,1226.7 L999.4,1225.8 L1000.1,1226.6 L1000.8,1227.1 L1001.4,1227.0 L1002.1,1225.8 L1002.7,1227.2 L1003.4,1227.4 L1004.1,1226.2 L1004.7,1227.6 L1005.4,1227.1 L1006.0,1227.0 L1006.7,1227.5 L1007.4,1227.0 L1008.0,1225.1 L1008.7,1227.0 L1009.3,1225.7 L1010.0,1226.5 L1010.7,1227.3 L1011.3,1226.8 L1012.0,1226.9 L1012.6,1227.8 L1013.3,1228.3 L1014.0,1227.2 L1014.6,1227.2 L1015.3,1228.0 L1015.9,1228.8 L1016.6,1227.2 L1017.3,1227.9 L1017.9,1226.5 L1018.6,1227.1 L1019.2,1227.1 L1019.9,1225.8 L1020.6,1226.9 L1021.2,1226.7 L1021.9,1224.6 L1022.5,1226.7 L1023.2,1226.9 L1023.9,1226.7 L1024.5,1226.8 L1025.2,1225.6 L1025.8,1226.0 L1026.5,1226.7 L1027.2,1226.3 L1027.8,1226.9 L1028.5,1228.4 L1029.1,1226.7 L1029.8,1227.0 L1030.5,1228.7 L1031.1,1226.9 L1031.8,1226.1 L1032.4,1227.1 L1033.1,1227.2 L1033.8,1227.3 L1034.4,1225.9 L1035.1,1227.8 L1035.7,1228.1 L1036.4,1229.7 L1037.1,1228.7 L1037.7,1227.9 L1038.4,1228.6 L1039.0,1229.0 L1039.7,1228.2 L1040.4,1228.2 L1041.0,1229.2 L1041.7,1228.4 L1042.3,1228.5 L1043.0,1227.4 L1043.7,1228.7 L1044.3,1226.9 L1045.0,1229.7 L1045.6,1228.4 L1046.3,1229.4 L1047.0,1230.0 L1047.6,1227.9 L1048.3,1229.7 L1048.9,1228.7 L1049.6,1229.2 L1050.3,1227.7 L1050.9,1227.1 L1051.6,1228.6 L1052.2,1227.7 L1052.9,1227.3 L1053.6,1226.3 L1054.2,1228.3 L1054.9,1226.9 L1055.5,1227.0 L1056.2,1226.5 L1056.9,1226.9 L1057.5,1227.1 L1058.2,1226.2 L1058.8,1225.7 L1059.5,1224.9 L1060.2,1226.2 L1060.8,1226.1 L1061.5,1224.4 L1062.1,1223.9 L1062.8,1224.8 L1063.5,1223.2 L1064.1,1224.7 L1064.8,1224.6 L1065.4,1224.4 L1066.1,1225.6 L1066.8,1225.9 L1067.4,1224.7 L1068.1,1224.0 L1068.7,1225.0 L1069.4,1225.0 L1070.1,1223.0 L1070.7,1223.5 L1071.4,1224.2 L1072.0,1223.5 L1072.7,1224.5 L1073.4,1227.5 L1074.0,1225.7 L1074.7,1228.0 L1075.3,1227.2 L1076.0,1229.3 L1076.7,1229.2 L1077.3,1230.0 L1078.0,1228.3 L1078.6,1229.7 L1079.3,1229.0 L1080.0,1230.0 L1080.6,1230.0 L1081.3,1229.5 L1081.9,1229.2 L1082.6,1229.2 L1083.3,1229.2 L1083.9,1228.4 L1084.6,1228.4 L1085.2,1228.2 L1085.9,1227.9 L1086.6,1229.8 L1087.2,1228.1 L1087.9,1230.7 L1088.5,1230.5 L1089.2,1228.7 L1089.9,1228.7 L1090.5,1230.1 L1091.2,1228.9 L1091.8,1229.6 L1092.5,1230.0 L1093.2,1229.2 L1093.8,1228.7 L1094.5,1228.8 L1095.1,1230.4 L1095.8,1229.0 L1096.5,1230.9 L1097.1,1231.2 L1097.8,1229.2 L1098.4,1229.8 L1099.1,1231.0 L1099.8,1229.0 L1100.4,1230.0 L1101.1,1230.5 L1101.7,1228.7 L1102.4,1229.9 L1103.1,1229.6 L1103.7,1229.0 L1104.4,1230.8 L1105.0,1229.5 L1105.7,1231.6 L1106.4,1230.4 L1107.0,1229.1 L1107.7,1229.9 L1108.3,1229.0 L1109.0,1230.3 L1109.7,1230.2 L1110.3,1228.6 L1111.0,1229.4 L1111.6,1230.2 L1112.3,1229.9 L1113.0,1229.0 L1113.6,1230.7 L1114.3,1230.9 L1114.9,1228.4 L1115.6,1230.8 L1116.3,1227.8 L1116.9,1229.5 L1117.6,1229.2 L1118.2,1229.4 L1118.9,1230.0 L1119.6,1229.0 L1120.2,1229.8 L1120.9,1231.3 L1121.5,1230.2 L1122.2,1231.1 L1122.9,1230.6 L1123.5,1228.8 L1124.2,1231.8 L1124.8,1231.3 L1125.5,1231.4 L1126.2,1230.9 L1126.8,1231.0 L1127.5,1230.7 L1128.1,1231.5 L1128.8,1231.5 L1129.5,1231.0 L1130.1,1230.7 L1130.8,1228.9 L1131.4,1229.5 L1132.1,1229.3 L1132.8,1230.1 L1133.4,1229.4 L1134.1,1229.4 L1134.7,1229.9 L1135.4,1229.5 L1136.1,1229.8 L1136.7,1231.1 L1137.4,1230.4 L1138.0,1230.0 L1138.7,1231.4 L1139.4,1231.7 L1140.0,1231.5 L1140.7,1229.9 L1141.3,1231.6 L1142.0,1230.8 L1142.7,1230.8 L1143.3,1230.8 L1144.0,1231.2 L1144.6,1231.3 L1145.3,1232.2 L1146.0,1231.2 L1146.6,1230.8 L1147.3,1231.2 L1147.9,1230.3 L1148.6,1231.1 L1149.3,1230.1 L1149.9,1230.5 L1150.6,1229.4 L1151.2,1230.6 L1151.9,1230.3 L1152.6,1229.1 L1153.2,1229.4 L1153.9,1229.8 L1154.5,1228.7 L1155.2,1229.0 L1155.9,1230.4 L1156.5,1230.6 L1157.2,1231.3 L1157.8,1229.2 L1158.5,1229.8 L1159.2,1228.3 L1159.8,1231.2 L1160.5,1228.5 L1161.1,1229.3 L1161.8,1231.1 L1162.5,1230.9 L1163.1,1229.2 L1163.8,1231.9 L1164.4,1230.6 L1165.1,1229.4 L1165.8,1230.4 L1166.4,1230.7 L1167.1,1230.7 L1167.7,1228.4 L1168.4,1231.5 L1169.1,1228.6 L1169.7,1229.5 L1170.4,1230.6 L1171.0,1229.6 L1171.7,1229.2 L1172.4,1228.7 L1173.0,1229.7 L1173.7,1230.5 L1174.3,1229.0 L1175.0,1229.9 L1175.7,1229.3 L1176.3,1229.4 L1177.0,1228.0 L1177.6,1229.9 L1178.3,1230.4 L1179.0,1229.5 L1179.6,1230.4 L1180.3,1229.8 L1180.9,1230.8 L1181.6,1230.1 L1182.3,1229.7 L1182.9,1229.6 L1183.6,1230.0 L1184.2,1230.0 L1184.9,1228.8 L1185.6,1229.0 L1186.2,1227.8 L1186.9,1227.7 L1187.5,1229.4 L1188.2,1229.4 L1188.9,1230.2 L1189.5,1229.8 L1190.2,1230.1 L1190.8,1231.4 L1191.5,1229.1 L1192.2,1229.9 L1192.8,1230.7 L1193.5,1230.9 L1194.1,1229.5 L1194.8,1228.8 L1195.5,1227.9 L1196.1,1228.5 L1196.8,1228.7 L1197.4,1228.6 L1198.1,1229.1 L1198.8,1229.2 L1199.4,1228.5 L1200.1,1228.2 L1200.7,1228.8 L1201.4,1229.5 L1202.1,1230.4 L1202.7,1227.7 L1203.4,1229.8 L1204.0,1228.5 L1204.7,1229.4 L1205.4,1230.1 L1206.0,1229.0 L1206.7,1227.8 L1207.3,1228.5 L1208.0,1229.2 L1208.7,1228.5 L1209.3,1228.5 L1210.0,1227.7 L1210.6,1227.9 L1211.3,1227.3 L1212.0,1228.4 L1212.6,1227.8 L1213.3,1228.0 L1213.9,1226.0 L1214.6,1227.0 L1215.3,1226.7 L1215.9,1226.9 L1216.6,1226.6 L1217.2,1226.7 L1217.9,1228.6 L1218.6,1227.0 L1219.2,1226.1 L1219.9,1226.8 L1220.5,1228.8 L1221.2,1227.3 L1221.9,1225.7 L1222.5,1225.9 L1223.2,1225.7 L1223.8,1225.6 L1224.5,1224.0 L1225.2,1224.7 L1225.8,1225.5 L1226.5,1224.4 L1227.1,1225.8 L1227.8,1226.1 L1228.5,1226.7 L1229.1,1226.8 L1229.8,1225.6 L1230.4,1225.7 L1231.1,1225.8 L1231.8,1225.8 L1232.4,1224.7 L1233.1,1223.9 L1233.7,1224.8 L1234.4,1224.8 L1235.1,1224.0 L1235.7,1224.1 L1236.4,1224.6 L1237.0,1222.6 L1237.7,1222.1 L1238.4,1221.4 L1239.0,1222.0 L1239.7,1222.0 L1240.3,1220.4 L1241.0,1221.9 L1241.7,1219.8 L1242.3,1220.3 L1243.0,1220.0 L1243.6,1221.0 L1244.3,1219.1 L1245.0,1220.5 L1245.6,1218.3 L1246.3,1216.6 L1246.9,1216.3 L1247.6,1215.8 L1248.3,1216.4 L1248.9,1213.9 L1249.6,1213.6 L1250.2,1214.9 L1250.9,1213.0 L1251.6,1211.9 L1252.2,1211.4 L1252.9,1210.0 L1253.5,1210.8 L1254.2,1210.7 L1254.9,1208.6 L1255.5,1207.2 L1256.2,1207.6 L1256.8,1206.6 L1257.5,1205.7 L1258.2,1205.4 L1258.8,1204.1 L1259.5,1202.6 L1260.1,1202.4 L1260.8,1198.7 L1261.5,1197.8 L1262.1,1196.9 L1262.8,1194.5 L1263.4,1195.2 L1264.1,1190.6 L1264.8,1191.2 L1265.4,1189.1 L1266.1,1186.4 L1266.7,1182.8 L1267.4,1177.3 L1268.1,1171.8 L1268.7,1167.8 L1269.4,1160.5 L1270.0,1153.5 L1270.7,1148.0 L1271.4,1142.4 L1272.0,1138.3 L1272.7,1132.8 L1273.3,1124.9 L1274.0,1118.4 L1274.7,1111.0 L1275.3,1105.5 L1276.0,1099.2 L1276.6,1093.4 L1277.3,1088.9 L1278.0,1081.9 L1278.6,1079.8 L1279.3,1075.1 L1279.9,1075.4 L1280.6,1075.3 L1281.3,1076.3 L1281.9,1078.4 L1282.6,1080.8 L1283.2,1084.3 L1283.9,1090.0 L1284.6,1093.9 L1285.2,1100.5 L1285.9,1105.1 L1286.5,1112.1 L1287.2,1118.4 L1287.9,1123.9 L1288.5,1130.7 L1289.2,1137.9 L1289.8,1143.2 L1290.5,1149.8 L1291.2,1156.0 L1291.8,1164.2 L1292.5,1170.7 L1293.1,1178.7 L1293.8,1187.0 L1294.5,1191.9 L1295.1,1195.3 L1295.8,1198.4 L1296.4,1200.0 L1297.1,1204.0 L1297.8,1205.0 L1298.4,1207.6 L1299.1,1210.7 L1299.7,1211.4 L1300.4,1213.4 L1301.1,1215.3 L1301.7,1216.8 L1302.4,1218.8 L1303.0,1217.2 L1303.7,1218.9 L1304.4,1220.4 L1305.0,1220.0 L1305.7,1220.5 L1306.3,1220.5 L1307.0,1221.3 L1307.7,1222.3 L1308.3,1222.9 L1309.0,1222.4 L1309.6,1223.4 L1310.3,1222.6 L1311.0,1221.3 L1311.6,1223.3 L1312.3,1221.0 L1312.9,1222.4 L1313.6,1222.2 L1314.3,1220.9 L1314.9,1221.3 L1315.6,1220.8 L1316.2,1221.1 L1316.9,1220.5 L1317.6,1221.1 L1318.2,1220.0 L1318.9,1220.5 L1319.5,1219.7 L1320.2,1219.7 L1320.9,1219.4 L1321.5,1218.7 L1322.2,1219.9 L1322.8,1219.4 L1323.5,1217.2 L1324.2,1218.3 L1324.8,1221.1 L1325.5,1220.0 L1326.1,1223.0 L1326.8,1221.6 L1327.5,1222.2 L1328.1,1221.9 L1328.8,1222.5 L1329.4,1223.1 L1330.1,1224.0 L1330.8,1223.5 L1331.4,1223.6 L1332.1,1223.1 L1332.7,1223.8 L1333.4,1224.3 L1334.1,1225.0 L1334.7,1224.9 L1335.4,1225.0 L1336.0,1225.9 L1336.7,1224.5 L1337.4,1225.5 L1338.0,1226.1 L1338.7,1227.2 L1339.3,1226.5 L1340.0,1226.5 L1340.7,1228.3 L1341.3,1228.0 L1342.0,1229.4 L1342.6,1228.2 L1343.3,1227.8 L1344.0,1227.9 L1344.6,1229.5 L1345.3,1229.2 L1345.9,1228.1 L1346.6,1228.8 L1347.3,1226.8 L1347.9,1228.9 L1348.6,1228.2 L1349.2,1228.0 L1349.9,1228.2 L1350.6,1228.5 L1351.2,1228.1 L1351.9,1228.3 L1352.5,1227.8 L1353.2,1230.0 L1353.9,1228.1 L1354.5,1228.7 L1355.2,1229.6 L1355.8,1229.6 L1356.5,1229.7 L1357.2,1227.9 L1357.8,1228.0 L1358.5,1228.4 L1359.1,1227.2 L1359.8,1229.6 L1360.5,1227.9 L1361.1,1229.3 L1361.8,1230.4 L1362.4,1230.4 L1363.1,1229.4 L1363.8,1230.4 L1364.4,1230.6 L1365.1,1228.4 L1365.7,1229.6 L1366.4,1230.4 L1367.1,1230.1 L1367.7,1229.5 L1368.4,1229.3 L1369.0,1231.0 L1369.7,1228.6 L1370.4,1229.5 L1371.0,1227.7 L1371.7,1229.0 L1372.3,1229.5 L1373.0,1228.4 L1373.7,1228.3 L1374.3,1230.4 L1375.0,1229.0 L1375.6,1230.2 L1376.3,1228.4 L1377.0,1231.1 L1377.6,1228.3 L1378.3,1229.2 L1378.9,1229.4 L1379.6,1229.9 L1380.3,1230.2 L1380.9,1231.4 L1381.6,1232.0 L1382.2,1232.0 L1382.9,1231.2 L1383.6,1230.6 L1384.2,1228.6 L1384.9,1230.0 L1385.5,1229.5 L1386.2,1230.5 L1386.9,1229.3 L1387.5,1229.6 L1388.2,1229.9 L1388.8,1231.2 L1389.5,1230.9 L1390.2,1230.0 L1390.8,1229.5 L1391.5,1230.5 L1392.1,1230.5 L1392.8,1230.6 L1393.5,1231.1 L1394.1,1231.6 L1394.8,1231.5 L1395.4,1230.3 L1396.1,1230.0 L1396.8,1231.7 L1397.4,1230.1 L1398.1,1230.7 L1398.7,1230.2 L1399.4,1230.4 L1400.1,1231.4 L1400.7,1230.0 L1401.4,1231.1 L1402.0,1230.7 L1402.7,1230.2 L1403.4,1229.9 L1404.0,1229.7 L1404.7,1230.8 L1405.3,1230.6 L1406.0,1229.1 L1406.7,1230.1 L1407.3,1228.3 L1408.0,1229.9 L1408.6,1231.4 L1409.3,1228.7 L1410.0,1229.6 L1410.6,1228.6 L1411.3,1229.0 L1411.9,1227.9 L1412.6,1228.8 L1413.3,1226.6 L1413.9,1228.1 L1414.6,1227.8 L1415.2,1227.7 L1415.9,1229.2 L1416.6,1226.5 L1417.2,1226.9 L1417.9,1226.3 L1418.5,1227.7 L1419.2,1227.2 L1419.9,1226.2 L1420.5,1228.0 L1421.2,1227.6 L1421.8,1228.9 L1422.5,1228.7 L1423.2,1228.5 L1423.8,1228.0 L1424.5,1227.0 L1425.1,1228.2 L1425.8,1229.6 L1426.5,1228.4 L1427.1,1227.8 L1427.8,1228.7 L1428.4,1229.2 L1429.1,1230.9 L1429.8,1227.8 L1430.4,1228.3 L1431.1,1227.6 L1431.7,1227.9 L1432.4,1229.2 L1433.1,1228.4 L1433.7,1227.3 L1434.4,1229.7 L1435.0,1230.1 L1435.7,1229.3 L1436.4,1227.7 L1437.0,1227.5 L1437.7,1229.3 L1438.3,1227.3 L1439.0,1227.6 L1439.7,1226.9 L1440.3,1229.7 L1441.0,1227.7 L1441.6,1228.1 L1442.3,1227.5 L1443.0,1227.6 L1443.6,1227.2 L1444.3,1229.1 L1444.9,1227.8 L1445.6,1229.7 L1446.3,1227.7 L1446.9,1229.4 L1447.6,1230.0 L1448.2,1228.4 L1448.9,1229.7 L1449.6,1229.1 L1450.2,1228.8 L1450.9,1229.4 L1451.5,1228.1 L1452.2,1229.4 L1452.9,1228.5 L1453.5,1230.4 L1454.2,1231.3 L1454.8,1231.4 L1455.5,1229.9 L1456.2,1230.4 L1456.8,1232.0 L1457.5,1231.2 L1458.1,1230.5 L1458.8,1228.2 L1459.5,1229.8 L1460.1,1232.0 L1460.8,1230.8 L1461.4,1230.3 L1462.1,1230.9 L1462.8,1232.8 L1463.4,1232.0 L1464.1,1230.0 L1464.7,1230.3 L1465.4,1231.5 L1466.1,1232.8 L1466.7,1231.2 L1467.4,1231.4 L1468.0,1229.7 L1468.7,1231.3 L1469.4,1232.3 L1470.0,1232.2 L1470.7,1230.5 L1471.3,1232.4 L1472.0,1230.9 L1472.7,1230.2 L1473.3,1231.6 L1474.0,1229.9 L1474.6,1230.9 L1475.3,1230.7 L1476.0,1231.5 L1476.6,1231.9 L1477.3,1231.5 L1477.9,1231.3 L1478.6,1231.6 L1479.3,1230.2 L1479.9,1232.3 L1480.6,1234.4 L1481.2,1233.2 L1481.9,1234.2 L1482.6,1233.3 L1483.2,1233.3 L1483.9,1233.6 L1484.5,1233.5 L1485.2,1233.2 L1485.9,1231.8 L1486.5,1232.4 L1487.2,1231.2 L1487.8,1233.3 L1488.5,1232.3 L1489.2,1232.0 L1489.8,1231.0 L1490.5,1232.2 L1491.1,1232.5 L1491.8,1232.1 L1492.5,1232.6 L1493.1,1231.0 L1493.8,1232.5 L1494.4,1231.8 L1495.1,1229.6 L1495.8,1232.1 L1496.4,1231.0 L1497.1,1231.8 L1497.7,1231.3 L1498.4,1231.2 L1499.1,1232.8 L1499.7,1231.6 L1500.4,1232.4 L1501.0,1233.0 L1501.7,1232.4 L1502.4,1231.8 L1503.0,1233.1 L1503.7,1233.0 L1504.3,1232.3 L1505.0,1233.1 L1505.7,1234.0 L1506.3,1233.6 L1507.0,1233.9 L1507.6,1233.5 L1508.3,1232.4 L1509.0,1232.2 L1509.6,1231.3 L1510.3,1233.3 L1510.9,1232.1 L1511.6,1233.2 L1512.3,1234.3 L1512.9,1233.0 L1513.6,1231.5 L1514.2,1231.8 L1514.9,1232.4 L1515.6,1233.8 L1516.2,1232.5 L1516.9,1232.8 L1517.5,1232.1 L1518.2,1233.4 L1518.9,1233.1 L1519.5,1233.5 L1520.2,1232.0 L1520.8,1233.2 L1521.5,1231.5 L1522.2,1232.1 L1522.8,1232.2 L1523.5,1232.6 L1524.1,1233.1 L1524.8,1230.7 L1525.5,1232.5 L1526.1,1232.0 L1526.8,1231.0 L1527.4,1231.5 L1528.1,1231.9 L1528.8,1230.9 L1529.4,1230.8 L1530.1,1231.7 L1530.7,1230.5 L1531.4,1232.0 L1532.1,1231.4 L1532.7,1231.4 L1533.4,1231.4 L1534.0,1231.8 L1534.7,1230.0 L1535.4,1231.5 L1536.0,1229.7 L1536.7,1230.7 L1537.3,1230.9 L1538.0,1230.5 L1538.7,1229.4 L1539.3,1229.3 L1540.0,1229.3 L1540.6,1230.2 L1541.3,1230.3 L1542.0,1230.7 L1542.6,1229.0 L1543.3,1230.7 L1543.9,1231.3 L1544.6,1230.5 L1545.3,1230.3 L1545.9,1230.9 L1546.6,1231.4 L1547.2,1231.2 L1547.9,1230.9 L1548.6,1228.2 L1549.2,1230.0 L1549.9,1228.0 L1550.5,1228.5 L1551.2,1226.9 L1551.9,1227.6 L1552.5,1226.7 L1553.2,1226.9 L1553.8,1228.8 L1554.5,1226.1 L1555.2,1227.8 L1555.8,1226.9 L1556.5,1225.7 L1557.1,1227.6 L1557.8,1226.2 L1558.5,1225.4 L1559.1,1225.9 L1559.8,1224.6 L1560.4,1226.5 L1561.1,1223.7 L1561.8,1224.6 L1562.4,1223.5 L1563.1,1225.6 L1563.7,1226.1 L1564.4,1226.2 L1565.1,1226.8 L1565.7,1225.5 L1566.4,1225.3 L1567.0,1226.7 L1567.7,1225.7 L1568.4,1226.9 L1569.0,1226.6 L1569.7,1226.5 L1570.3,1227.1 L1571.0,1227.9 L1571.7,1227.6 L1572.3,1226.8 L1573.0,1224.5 L1573.6,1226.8 L1574.3,1227.4 L1575.0,1228.1 L1575.6,1227.6 L1576.3,1229.6 L1576.9,1229.5 L1577.6,1227.9 L1578.3,1230.3 L1578.9,1231.1 L1579.6,1229.8 L1580.2,1228.6 L1580.9,1230.6 L1581.6,1229.6 L1582.2,1227.1 L1582.9,1229.4 L1583.5,1228.8 L1584.2,1228.6 L1584.9,1227.0 L1585.5,1227.2 L1586.2,1228.9 L1586.8,1230.5 L1587.5,1229.1 L1588.2,1229.1 L1588.8,1228.5 L1589.5,1228.6 L1590.1,1229.7 L1590.8,1228.2 L1591.5,1230.4 L1592.1,1229.3 L1592.8,1229.2 L1593.4,1228.9 L1594.1,1228.4 L1594.8,1228.7 L1595.4,1227.7 L1596.1,1229.1 L1596.7,1227.6 L1597.4,1231.3 L1598.1,1229.6 L1598.7,1228.6 L1599.4,1230.2 L1600.0,1230.1 L1600.7,1229.5 L1601.4,1230.1 L1602.0,1229.1 L1602.7,1229.6 L1603.3,1229.4 L1604.0,1229.8 L1604.7,1229.0 L1605.3,1229.8 L1606.0,1227.4 L1606.6,1230.9 L1607.3,1230.4 L1608.0,1230.8 L1608.6,1230.1 L1609.3,1230.9 L1609.9,1229.8 L1610.6,1229.8 L1611.3,1229.4 L1611.9,1228.8 L1612.6,1228.4 L1613.2,1229.7 L1613.9,1229.9 L1614.6,1229.4 L1615.2,1230.5 L1615.9,1229.5 L1616.5,1229.6 L1617.2,1230.0 L1617.9,1229.6 L1618.5,1228.9 L1619.2,1228.3 L1619.8,1228.8 L1620.5,1228.9 L1621.2,1230.7 L1621.8,1227.3 L1622.5,1232.1 L1623.1,1229.6 L1623.8,1231.1 L1624.5,1230.3 L1625.1,1230.4 L1625.8,1228.8 L1626.4,1230.8 L1627.1,1230.0 L1627.8,1230.7 L1628.4,1229.4 L1629.1,1230.0 L1629.7,1229.3 L1630.4,1230.0 L1631.1,1230.2 L1631.7,1229.4 L1632.4,1230.0 L1633.0,1230.1 L1633.7,1229.7 L1634.4,1229.5 L1635.0,1228.1 L1635.7,1230.6 L1636.3,1229.9 L1637.0,1229.4 L1637.7,1229.8 L1638.3,1229.1 L1639.0,1229.3 L1639.6,1230.0 L1640.3,1228.4 L1641.0,1229.6 L1641.6,1230.1 L1642.3,1228.6 L1642.9,1229.0 L1643.6,1230.9 L1644.3,1231.5 L1644.9,1229.8 L1645.6,1230.0 L1646.2,1228.7 L1646.9,1230.6 L1647.6,1229.5 L1648.2,1229.7 L1648.9,1230.0 L1649.5,1229.2 L1650.2,1229.0 L1650.9,1229.5 L1651.5,1228.5 L1652.2,1228.8 L1652.8,1227.2 L1653.5,1228.5 L1654.2,1229.7 L1654.8,1230.1 L1655.5,1229.4 L1656.1,1227.8 L1656.8,1228.2 L1657.5,1226.9 L1658.1,1226.4 L1658.8,1227.8 L1659.4,1226.3 L1660.1,1226.0 L1660.8,1226.1 L1661.4,1226.5 L1662.1,1225.7 L1662.7,1225.3 L1663.4,1225.8 L1664.1,1225.5 L1664.7,1225.2 L1665.4,1223.3 L1666.0,1224.0 L1666.7,1224.2 L1667.4,1222.9 L1668.0,1224.8 L1668.7,1224.6 L1669.3,1223.6 L1670.0,1220.9 L1670.7,1221.6 L1671.3,1221.0 L1672.0,1220.4 L1672.6,1218.4 L1673.3,1220.1 L1674.0,1220.4 L1674.6,1219.5 L1675.3,1220.4 L1675.9,1218.3 L1676.6,1219.2 L1677.3,1219.7 L1677.9,1217.7 L1678.6,1218.2 L1679.2,1217.4 L1679.9,1218.5 L1680.6,1216.4 L1681.2,1217.2 L1681.9,1216.0 L1682.5,1216.8 L1683.2,1215.3 L1683.9,1215.2 L1684.5,1215.2 L1685.2,1213.9 L1685.8,1213.6 L1686.5,1213.3 L1687.2,1212.6 L1687.8,1212.8 L1688.5,1211.6 L1689.1,1212.2 L1689.8,1211.6 L1690.5,1211.1 L1691.1,1210.2 L1691.8,1208.9 L1692.4,1209.0 L1693.1,1209.1 L1693.8,1207.2 L1694.4,1207.6 L1695.1,1204.6 L1695.7,1204.3 L1696.4,1202.4 L1697.1,1203.6 L1697.7,1200.3 L1698.4,1200.5 L1699.0,1198.9 L1699.7,1199.3 L1700.4,1196.6 L1701.0,1194.2 L1701.7,1191.6 L1702.3,1190.9 L1703.0,1186.8 L1703.7,1183.7 L1704.3,1183.2 L1705.0,1180.2 L1705.6,1177.7 L1706.3,1176.6 L1707.0,1174.9 L1707.6,1171.6 L1708.3,1172.4 L1708.9,1172.3 L1709.6,1169.7 L1710.3,1168.7 L1710.9,1170.5 L1711.6,1170.7 L1712.2,1172.3 L1712.9,1173.5 L1713.6,1173.9 L1714.2,1176.8 L1714.9,1175.5 L1715.5,1178.1 L1716.2,1180.3 L1716.9,1181.9 L1717.5,1182.9 L1718.2,1184.8 L1718.8,1184.8 L1719.5,1185.6 L1720.2,1190.0 L1720.8,1192.3 L1721.5,1193.1 L1722.1,1194.2 L1722.8,1196.9 L1723.5,1200.5 L1724.1,1202.7 L1724.8,1206.1 L1725.4,1208.8 L1726.1,1210.6 L1726.8,1211.3 L1727.4,1213.9 L1728.1,1214.7 L1728.7,1215.7 L1729.4,1216.7 L1730.1,1217.5 L1730.7,1217.6 L1731.4,1219.7 L1732.0,1219.7 L1732.7,1221.4 L1733.4,1223.2 L1734.0,1224.2 L1734.7,1223.0 L1735.3,1224.9 L1736.0,1225.3 L1736.7,1227.0 L1737.3,1226.6 L1738.0,1228.3 L1738.6,1227.4 L1739.3,1228.4 L1740.0,1227.4 L1740.6,1227.8 L1741.3,1228.5 L1741.9,1229.4 L1742.6,1227.4 L1743.3,1229.2 L1743.9,1227.9 L1744.6,1229.1 L1745.2,1227.3 L1745.9,1228.4 L1746.6,1229.8 L1747.2,1230.0 L1747.9,1228.0 L1748.5,1230.3 L1749.2,1228.6 L1749.9,1229.0 L1750.5,1229.4 L1751.2,1228.9 L1751.8,1229.1 L1752.5,1228.9 L1753.2,1229.6 L1753.8,1229.3 L1754.5,1229.2 L1755.1,1229.2 L1755.8,1229.5 L1756.5,1230.5 L1757.1,1231.2 L1757.8,1230.6 L1758.4,1229.8 L1759.1,1230.0 L1759.8,1228.8 L1760.4,1229.3 L1761.1,1229.6 L1761.7,1229.0 L1762.4,1230.6 L1763.1,1230.6 L1763.7,1229.6 L1764.4,1230.4 L1765.0,1230.0 L1765.7,1230.1 L1766.4,1230.1 L1767.0,1231.0 L1767.7,1230.2 L1768.3,1230.1 L1769.0,1230.6 L1769.7,1230.5 L1770.3,1231.1 L1771.0,1228.9 L1771.6,1230.2 L1772.3,1228.3 L1773.0,1230.1 L1773.6,1229.3 L1774.3,1229.5 L1774.9,1230.8 L1775.6,1230.1 L1776.3,1230.8 L1776.9,1228.7 L1777.6,1232.0"/>
<path stroke="#00f" d="M119.0,945.5 L119.7,940.4 L120.3,943.7 L121.0,942.6 L121.6,942.7 L122.3,942.9 L123.0,940.8 L123.6,942.6 L124.3,941.9 L124.9,946.5 L125.6,943.2 L126.3,942.7 L126.9,943.1 L127.6,942.9 L128.2,942.7 L128.9,943.6 L129.6,944.7 L130.2,944.1 L130.9,945.7 L131.5,944.5 L132.2,944.9 L132.9,946.5 L133.5,945.3 L134.2,944.0 L134.8,944.2 L135.5,945.1 L136.2,946.7 L136.8,944.5 L137.5,944.7 L138.1,946.2 L138.8,944.2 L139.5,944.8 L140.1,946.1 L140.8,945.8 L141.4,945.3 L142.1,946.1 L142.8,942.5 L143.4,946.8 L144.1,944.6 L144.7,943.8 L145.4,945.7 L146.1,946.1 L146.7,944.8 L147.4,944.1 L148.0,945.4 L148.7,945.3 L149.4,946.8 L150.0,945.9 L150.7,944.9 L151.3,945.6 L152.0,943.8 L152.7,942.7 L153.3,944.2 L154.0,944.0 L154.6,942.8 L155.3,942.0 L156.0,942.9 L156.6,939.7 L157.3,943.0 L157.9,942.5 L158.6,939.8 L159.3,941.3 L159.9,939.7 L160.6,941.2 L161.2,937.8 L161.9,938.7 L162.6,940.3 L163.2,940.7 L163.9,937.1 L164.5,938.9 L165.2,939.8 L165.9,938.8 L166.5,941.2 L167.2,938.2 L167.8,939.9 L168.5,938.3 L169.2,940.9 L169.8,939.2 L170.5,938.7 L171.1,937.1 L171.8,940.8 L172.5,939.8 L173.1,940.0 L173.8,940.7 L174.4,940.0 L175.1,939.0 L175.8,938.9 L176.4,939.0 L177.1,941.6 L177.7,938.6 L178.4,939.8 L179.1,940.4 L179.7,941.2 L180.4,941.7 L181.0,939.6 L181.7,938.9 L182.4,940.4 L183.0,941.3 L183.7,940.2 L184.3,939.0 L185.0,937.8 L185.7,937.9 L186.3,936.7 L187.0,937.2 L187.6,934.8 L188.3,935.2 L189.0,934.3 L189.6,934.5 L190.3,933.6 L190.9,935.6 L191.6,933.9 L192.3,933.5 L192.9,929.3 L193.6,931.1 L194.2,930.8 L194.9,932.3 L195.6,929.6 L196.2,933.8 L196.9,934.1 L197.5,931.8 L198.2,932.5 L198.9,933.0 L199.5,934.2 L200.2,935.1 L200.8,936.9 L201.5,934.7 L202.2,936.1 L202.8,936.0 L203.5,938.3 L204.1,937.8 L204.8,939.1 L205.5,936.9 L206.1,938.2 L206.8,937.9 L207.4,940.7 L208.1,940.1 L208.8,939.4 L209.4,939.6 L210.1,941.1 L210.7,940.4 L211.4,940.7 L212.1,942.8 L212.7,945.5 L213.4,943.0 L214.0,943.0 L214.7,942.5 L215.4,942.4 L216.0,944.4 L216.7,944.6 L217.3,943.5 L218.0,943.5 L218.7,942.8 L219.3,942.2 L220.0,939.7 L220.6,940.2 L221.3,940.3 L222.0,938.9 L222.6,939.1 L223.3,938.6 L223.9,939.1 L224.6,940.4 L225.3,939.0 L225.9,939.2 L226.6,940.3 L227.2,940.2 L227.9,941.5 L228.6,937.6 L229.2,941.3 L229.9,940.3 L230.5,941.6 L231.2,943.0 L231.9,943.9 L232.5,944.4 L233.2,943.9 L233.8,946.0 L234.5,944.3 L235.2,944.9 L235.8,946.4 L236.5,945.5 L237.1,948.9 L237.8,948.0 L238.5,949.4 L239.1,947.0 L239.8,946.5 L240.4,947.0 L241.1,947.5 L241.8,946.1 L242.4,947.2 L243.1,947.0 L243.7,949.1 L244.4,947.0 L245.1,949.2 L245.7,947.5 L246.4,947.4 L247.0,947.8 L247.7,947.3 L248.4,948.8 L249.0,949.9 L249.7,949.0 L250.3,949.6 L251.0,950.7 L251.7,949.3 L252.3,949.3 L253.0,948.9 L253.6,947.7 L254.3,950.6 L255.0,948.2 L255.6,951.2 L256.3,950.8 L256.9,952.3 L257.6,951.0 L258.3,950.1 L258.9,951.4 L259.6,950.3 L260.2,950.6 L260.9,950.9 L261.6,950.8 L262.2,950.8 L262.9,950.1 L263.5,950.8 L264.2,948.6 L264.9,950.6 L265.5,949.5 L266.2,952.0 L266.8,952.2 L267.5,948.7 L268.2,951.1 L268.8,950.9 L269.5,950.0 L270.1,952.0 L270.8,951.2 L271.5,950.0 L272.1,951.9 L272.8,952.2 L273.4,952.6 L274.1,951.1 L274.8,953.0 L275.4,952.9 L276.1,950.7 L276.7,951.1 L277.4,951.7 L278.1,951.3 L278.7,954.2 L279.4,952.9 L280.0,951.9 L280.7,952.4 L281.4,953.3 L282.0,955.9 L282.7,953.0 L283.3,953.1 L284.0,953.2 L284.7,952.4 L285.3,954.8 L286.0,951.5 L286.6,952.8 L287.3,952.2 L288.0,952.7 L288.6,950.9 L289.3,954.2 L289.9,952.2 L290.6,952.5 L291.3,951.5 L291.9,951.8 L292.6,953.2 L293.2,953.7 L293.9,953.4 L294.6,954.0 L295.2,953.6 L295.9,953.0 L296.5,953.9 L297.2,953.6 L297.9,952.7 L298.5,953.3 L299.2,953.7 L299.8,952.3 L300.5,951.6 L301.2,952.7 L301.8,953.9 L302.5,951.4 L303.1,951.4 L303.8,951.2 L304.5,952.5 L305.1,949.1 L305.8,951.4 L306.4,952.4 L307.1,950.3 L307.8,953.0 L308.4,952.2 L309.1,951.2 L309.7,952.1 L310.4,950.1 L311.1,950.9 L311.7,953.2 L312.4,949.9 L313.0,952.6 L313.7,950.3 L314.4,951.4 L315.0,950.4 L315.7,947.8 L316.3,949.6 L317.0,950.2 L317.7,948.6 L318.3,948.1 L319.0,949.8 L319.6,948.5 L320.3,947.2 L321.0,948.4 L321.6,950.2 L322.3,948.9 L322.9,950.7 L323.6,951.4 L324.3,949.8 L324.9,948.4 L325.6,948.1 L326.2,949.4 L326.9,950.2 L327.6,949.5 L328.2,949.7 L328.9,948.6 L329.5,949.3 L330.2,948.3 L330.9,948.2 L331.5,946.8 L332.2,946.1 L332.8,946.9 L333.5,945.9 L334.2,945.9 L334.8,947.6 L335.5,946.8 L336.1,950.2 L336.8,947.9 L337.5,946.1 L338.1,947.5 L338.8,946.9 L339.4,945.8 L340.1,947.8 L340.8,945.7 L341.4,943.2 L342.1,947.4 L342.7,945.9 L343.4,948.3 L344.1,946.1 L344.7,945.8 L345.4,949.1 L346.0,946.6 L346.7,948.1 L347.4,949.5 L348.0,947.8 L348.7,947.3 L349.3,947.0 L350.0,947.4 L350.7,945.1 L351.3,946.3 L352.0,945.9 L352.6,947.5 L353.3,944.4 L354.0,943.7 L354.6,945.6 L355.3,944.3 L355.9,945.0 L356.6,944.8 L357.3,945.9 L357.9,943.9 L358.6,944.6 L359.2,942.0 L359.9,944.1 L360.6,947.1 L361.2,944.8 L361.9,944.7 L362.5,944.0 L363.2,945.7 L363.9,944.8 L364.5,942.8 L365.2,944.3 L365.8,943.4 L366.5,943.5 L367.2,941.7 L367.8,944.2 L368.5,942.6 L369.1,942.0 L369.8,941.4 L370.5,941.5 L371.1,942.5 L371.8,941.0 L372.4,942.2 L373.1,941.3 L373.8,941.7 L374.4,940.5 L375.1,938.7 L375.7,935.8 L376.4,937.4 L377.1,937.1 L377.7,935.6 L378.4,935.0 L379.0,932.5 L379.7,930.9 L380.4,928.4 L381.0,929.0 L381.7,925.7 L382.3,923.1 L383.0,920.4 L383.7,919.9 L384.3,920.0 L385.0,917.4 L385.6,914.6 L386.3,915.5 L387.0,914.0 L387.6,911.8 L388.3,909.8 L388.9,908.3 L389.6,905.5 L390.3,903.4 L390.9,899.1 L391.6,897.8 L392.2,891.5 L392.9,887.7 L393.6,876.8 L394.2,872.9 L394.9,866.2 L395.5,857.8 L396.2,851.1 L396.9,843.5 L397.5,835.2 L398.2,825.7 L398.8,817.9 L399.5,811.0 L400.2,802.3 L400.8,790.8 L401.5,779.9 L402.1,769.1 L402.8,759.7 L403.5,748.6 L404.1,741.4 L404.8,738.6 L405.4,736.0 L406.1,739.0 L406.8,745.8 L407.4,755.2 L408.1,764.4 L408.7,778.6 L409.4,788.5 L410.1,803.5 L410.7,813.1 L411.4,826.8 L412.0,843.3 L412.7,856.2 L413.4,868.5 L414.0,879.7 L414.7,891.4 L415.3,901.0 L416.0,909.8 L416.7,917.5 L417.3,919.4 L418.0,922.6 L418.6,925.0 L419.3,928.8 L420.0,930.3 L420.6,932.0 L421.3,931.6 L421.9,932.3 L422.6,934.2 L423.3,933.7 L423.9,935.9 L424.6,936.7 L425.2,936.0 L425.9,937.6 L426.6,938.5 L427.2,941.3 L427.9,942.9 L428.5,940.5 L429.2,941.0 L429.9,938.9 L430.5,941.8 L431.2,941.8 L431.8,940.7 L432.5,942.8 L433.2,940.3 L433.8,942.1 L434.5,942.8 L435.1,941.8 L435.8,944.8 L436.5,945.7 L437.1,943.7 L437.8,944.2 L438.4,946.8 L439.1,946.5 L439.8,945.5 L440.4,946.8 L441.1,947.3 L441.7,947.5 L442.4,948.8 L443.1,948.5 L443.7,950.1 L444.4,949.6 L445.0,948.8 L445.7,949.3 L446.4,949.7 L447.0,949.2 L447.7,947.3 L448.3,949.9 L449.0,949.3 L449.7,951.1 L450.3,949.4 L451.0,949.7 L451.6,949.3 L452.3,950.5 L453.0,948.6 L453.6,947.9 L454.3,948.3 L454.9,947.2 L455.6,947.6 L456.3,947.1 L456.9,947.1 L457.6,948.9 L458.2,946.3 L458.9,946.8 L459.6,946.7 L460.2,947.7 L460.9,945.7 L461.5,946.2 L462.2,946.8 L462.9,947.2 L463.5,946.2 L464.2,945.2 L464.8,944.3 L465.5,945.4 L466.2,946.0 L466.8,944.6 L467.5,944.3 L468.1,944.3 L468.8,942.4 L469.5,942.5 L470.1,941.8 L470.8,941.4 L471.4,939.8 L472.1,937.2 L472.8,938.3 L473.4,937.4 L474.1,933.7 L474.7,932.9 L475.4,931.5 L476.1,931.0 L476.7,927.7 L477.4,930.5 L478.0,927.9 L478.7,929.7 L479.4,928.6 L480.0,928.7 L480.7,930.0 L481.3,932.5 L482.0,932.2 L482.7,934.7 L483.3,936.6 L484.0,937.3 L484.6,942.6 L485.3,943.6 L486.0,944.6 L486.6,947.4 L487.3,946.5 L487.9,948.6 L488.6,951.5 L489.3,951.2 L489.9,947.9 L490.6,946.7 L491.2,949.0 L491.9,950.8 L492.6,948.6 L493.2,948.4 L493.9,949.1 L494.5,947.5 L495.2,949.0 L495.9,950.0 L496.5,950.1 L497.2,950.2 L497.8,949.2 L498.5,950.5 L499.2,949.3 L499.8,951.1 L500.5,952.3 L501.1,948.6 L501.8,947.1 L502.5,949.0 L503.1,949.9 L503.8,950.5 L504.4,950.5 L505.1,948.2 L505.8,948.0 L506.4,950.0 L507.1,947.0 L507.7,949.2 L508.4,947.6 L509.1,948.6 L509.7,948.4 L510.4,948.3 L511.0,947.9 L511.7,945.3 L512.4,946.1 L513.0,945.2 L513.7,945.0 L514.3,945.7 L515.0,943.8 L515.7,943.2 L516.3,943.1 L517.0,943.5 L517.6,944.7 L518.3,943.1 L519.0,945.5 L519.6,944.9 L520.3,944.8 L520.9,944.1 L521.6,946.3 L522.3,947.1 L522.9,944.7 L523.6,948.2 L524.2,949.0 L524.9,947.9 L525.6,948.5 L526.2,951.2 L526.9,950.5 L527.5,948.8 L528.2,950.4 L528.9,950.9 L529.5,951.5 L530.2,949.4 L530.8,953.2 L531.5,951.8 L532.2,952.7 L532.8,952.4 L533.5,953.5 L534.1,952.2 L534.8,951.5 L535.5,952.9 L536.1,953.8 L536.8,951.9 L537.4,953.7 L538.1,952.4 L538.8,951.6 L539.4,953.9 L540.1,951.5 L540.7,953.7 L541.4,952.1 L542.1,953.2 L542.7,951.3 L543.4,951.6 L544.0,953.6 L544.7,952.4 L545.4,952.0 L546.0,951.2 L546.7,951.9 L547.3,949.6 L548.0,949.8 L548.7,950.8 L549.3,950.2 L550.0,950.6 L550.6,951.6 L551.3,951.8 L552.0,951.8 L552.6,953.8 L553.3,953.0 L553.9,953.1 L554.6,951.7 L555.3,951.1 L555.9,950.0 L556.6,951.2 L557.2,949.2 L557.9,950.8 L558.6,952.0 L559.2,952.7 L559.9,951.7 L560.5,949.5 L561.2,950.8 L561.9,949.3 L562.5,950.9 L563.2,949.7 L563.8,950.7 L564.5,952.4 L565.2,950.5 L565.8,951.8 L566.5,949.3 L567.1,948.6 L567.8,950.3 L568.5,950.6 L569.1,948.0 L569.8,948.5 L570.4,946.8 L571.1,948.1 L571.8,949.2 L572.4,947.9 L573.1,947.1 L573.7,945.8 L574.4,947.3 L575.1,947.2 L575.7,946.5 L576.4,945.6 L577.0,943.6 L577.7,946.8 L578.4,944.7 L579.0,944.6 L579.7,945.5 L580.3,942.1 L581.0,944.1 L581.7,943.7 L582.3,943.8 L583.0,944.5 L583.6,943.1 L584.3,940.0 L585.0,941.1 L585.6,941.2 L586.3,940.6 L586.9,938.3 L587.6,936.9 L588.3,938.0 L588.9,936.2 L589.6,933.9 L590.2,930.0 L590.9,931.7 L591.6,924.4 L592.2,925.1 L592.9,925.7 L593.5,921.1 L594.2,919.3 L594.9,915.6 L595.5,916.0 L596.2,910.6 L596.8,909.6 L597.5,906.5 L598.2,901.8 L598.8,899.8 L599.5,891.9 L600.1,886.4 L600.8,880.0 L601.5,871.9 L602.1,864.8 L602.8,856.9 L603.4,845.6 L604.1,834.8 L604.8,824.5 L605.4,815.3 L606.1,807.5 L606.7,797.8 L607.4,791.1 L608.1,784.2 L608.7,777.1 L609.4,773.7 L610.0,768.5 L610.7,769.7 L611.4,774.3 L612.0,776.5 L612.7,783.6 L613.3,787.8 L614.0,794.5 L614.7,799.1 L615.3,807.2 L616.0,815.5 L616.6,829.4 L617.3,850.7 L618.0,864.4 L618.6,875.5 L619.3,883.8 L619.9,891.4 L620.6,897.6 L621.3,902.8 L621.9,911.0 L622.6,918.4 L623.2,922.4 L623.9,925.6 L624.6,931.0 L625.2,931.1 L625.9,933.1 L626.5,934.4 L627.2,936.4 L627.9,938.7 L628.5,942.5 L629.2,941.4 L629.8,941.6 L630.5,943.2 L631.2,944.6 L631.8,944.0 L632.5,946.9 L633.1,948.3 L633.8,948.4 L634.5,949.1 L635.1,947.3 L635.8,947.0 L636.4,950.3 L637.1,950.2 L637.8,947.3 L638.4,949.4 L639.1,949.3 L639.7,950.1 L640.4,950.1 L641.1,949.8 L641.7,951.1 L642.4,951.5 L643.0,951.5 L643.7,949.5 L644.4,948.1 L645.0,950.3 L645.7,949.0 L646.3,950.7 L647.0,951.1 L647.7,950.7 L648.3,950.3 L649.0,951.3 L649.6,953.0 L650.3,951.2 L651.0,953.2 L651.6,953.0 L652.3,952.4 L652.9,953.6 L653.6,951.2 L654.3,953.2 L654.9,951.4 L655.6,951.9 L656.2,951.9 L656.9,953.8 L657.6,952.5 L658.2,953.7 L658.9,952.4 L659.5,954.8 L660.2,955.6 L660.9,953.8 L661.5,955.3 L662.2,954.2 L662.8,956.0 L663.5,953.8 L664.2,952.0 L664.8,955.5 L665.5,954.0 L666.1,953.3 L666.8,954.0 L667.5,953.4 L668.1,955.4 L668.8,954.7 L669.4,957.7 L670.1,957.0 L670.8,954.5 L671.4,954.8 L672.1,955.9 L672.7,954.4 L673.4,956.4 L674.1,956.5 L674.7,955.7 L675.4,956.0 L676.0,957.3 L676.7,958.5 L677.4,958.8 L678.0,957.3 L678.7,958.3 L679.3,956.6 L680.0,957.7 L680.7,956.1 L681.3,958.0 L682.0,955.8 L682.6,956.3 L683.3,957.5 L684.0,958.4 L684.6,956.4 L685.3,957.6 L685.9,958.4 L686.6,958.6 L687.3,957.4 L687.9,958.3 L688.6,957.9 L689.2,959.7 L689.9,958.7 L690.6,956.6 L691.2,955.6 L691.9,958.0 L692.5,959.0 L693.2,957.4 L693.9,957.7 L694.5,955.6 L695.2,954.0 L695.8,955.8 L696.5,954.5 L697.2,954.6 L697.8,952.0 L698.5,953.3 L699.1,952.2 L699.8,953.6 L700.5,952.2 L701.1,952.3 L701.8,952.5 L702.4,954.6 L703.1,953.3 L703.8,952.3 L704.4,951.9 L705.1,951.8 L705.7,954.5 L706.4,951.1 L707.1,952.4 L707.7,954.4 L708.4,955.3 L709.0,954.1 L709.7,955.3 L710.4,955.4 L711.0,955.6 L711.7,954.7 L712.3,956.7 L713.0,955.5 L713.7,957.3 L714.3,954.8 L715.0,957.4 L715.6,955.1 L716.3,954.8 L717.0,956.9 L717.6,955.5 L718.3,957.0 L718.9,955.5 L719.6,958.8 L720.3,957.4 L720.9,956.3 L721.6,957.9 L722.2,958.8 L722.9,957.1 L723.6,958.6 L724.2,960.5 L724.9,959.4 L725.5,958.7 L726.2,958.2 L726.9,959.6 L727.5,957.5 L728.2,956.0 L728.8,958.9 L729.5,958.6 L730.2,961.8 L730.8,960.1 L731.5,958.9 L732.1,958.7 L732.8,960.5 L733.5,959.1 L734.1,959.4 L734.8,960.1 L735.4,960.4 L736.1,960.4 L736.8,960.5 L737.4,961.8 L738.1,962.3 L738.7,958.7 L739.4,963.3 L740.1,960.5 L740.7,961.5 L741.4,959.1 L742.0,960.1 L742.7,959.8 L743.4,959.6 L744.0,960.5 L744.7,960.4 L745.3,958.7 L746.0,959.9 L746.7,960.9 L747.3,960.9 L748.0,959.9 L748.6,960.1 L749.3,960.3 L750.0,959.2 L750.6,958.9 L751.3,961.9 L751.9,959.6 L752.6,960.2 L753.3,959.3 L753.9,961.7 L754.6,962.3 L755.2,960.2 L755.9,961.0 L756.6,959.5 L757.2,962.3 L757.9,961.4 L758.5,959.5 L759.2,961.9 L759.9,960.9 L760.5,960.8 L761.2,960.7 L761.8,959.4 L762.5,959.5 L763.2,960.6 L763.8,959.8 L764.5,958.7 L765.1,961.9 L765.8,959.4 L766.5,959.2 L767.1,959.2 L767.8,961.0 L768.4,961.5 L769.1,961.0 L769.8,961.7 L770.4,959.1 L771.1,960.3 L771.7,960.2 L772.4,960.7 L773.1,961.2 L773.7,958.3 L774.4,963.9 L775.0,959.5 L775.7,960.9 L776.4,961.4 L777.0,961.5 L777.7,960.7 L778.3,957.2 L779.0,959.0 L779.7,960.8 L780.3,958.7 L781.0,958.3 L781.6,956.6 L782.3,960.4 L783.0,959.3 L783.6,957.4 L784.3,957.8 L784.9,957.4 L785.6,955.9 L786.3,956.5 L786.9,956.9 L787.6,957.0 L788.2,957.7 L788.9,956.3 L789.6,955.7 L790.2,956.4 L790.9,955.1 L791.5,954.1 L792.2,956.3 L792.9,954.3 L793.5,954.5 L794.2,954.8 L794.8,952.7 L795.5,954.5 L796.2,954.2 L796.8,953.4 L797.5,953.7 L798.1,952.1 L798.8,950.3 L799.5,952.2 L800.1,951.5 L800.8,953.6 L801.4,953.2 L802.1,952.8 L802.8,953.9 L803.4,956.0 L804.1,956.3 L804.7,956.2 L805.4,957.1 L806.1,957.1 L806.7,958.1 L807.4,959.6 L808.0,959.2 L808.7,959.9 L809.4,958.4 L810.0,957.7 L810.7,957.6 L811.3,958.8 L812.0,960.6 L812.7,960.3 L813.3,957.7 L814.0,956.9 L814.6,959.4 L815.3,959.0 L816.0,957.2 L816.6,960.0 L817.3,959.2 L817.9,960.5 L818.6,959.4 L819.3,960.1 L819.9,959.5 L820.6,958.3 L821.2,959.3 L821.9,959.1 L822.6,960.9 L823.2,958.9 L823.9,958.3 L824.5,960.6 L825.2,961.1 L825.9,961.4 L826.5,961.0 L827.2,958.1 L827.8,959.0 L828.5,959.1 L829.2,959.7 L829.8,957.3 L830.5,959.6 L831.1,960.0 L831.8,958.8 L832.5,960.1 L833.1,961.4 L833.8,960.2 L834.4,961.4 L835.1,961.5 L835.8,960.9 L836.4,961.0 L837.1,960.2 L837.7,962.0 L838.4,960.0 L839.1,959.5 L839.7,960.8 L840.4,958.9 L841.0,960.0 L841.7,960.7 L842.4,959.8 L843.0,960.1 L843.7,961.3 L844.3,961.3 L845.0,958.8 L845.7,959.0 L846.3,961.8 L847.0,960.6 L847.6,957.6 L848.3,958.2 L849.0,959.5 L849.6,958.2 L850.3,959.5 L850.9,958.8 L851.6,959.1 L852.3,957.2 L852.9,959.2 L853.6,960.7 L854.2,957.7 L854.9,960.0 L855.6,959.5 L856.2,959.1 L856.9,958.2 L857.5,956.9 L858.2,957.1 L858.9,958.8 L859.5,958.8 L860.2,958.8 L860.8,958.3 L861.5,958.0 L862.2,956.4 L862.8,955.5 L863.5,957.2 L864.1,957.6 L864.8,957.3 L865.5,955.7 L866.1,956.9 L866.8,955.8 L867.4,957.6 L868.1,956.2 L868.8,957.2 L869.4,957.7 L870.1,957.3 L870.7,958.6 L871.4,955.7 L872.1,954.2 L872.7,957.5 L873.4,957.9 L874.0,957.9 L874.7,956.7 L875.4,957.1 L876.0,956.7 L876.7,955.1 L877.3,955.9 L878.0,957.0 L878.7,955.7 L879.3,958.3 L880.0,954.3 L880.6,955.5 L881.3,957.3 L882.0,955.5 L882.6,955.2 L883.3,955.2 L883.9,956.1 L884.6,958.8 L885.3,957.8 L885.9,957.9 L886.6,956.6 L887.2,958.0 L887.9,957.0 L888.6,955.7 L889.2,956.1 L889.9,956.8 L890.5,957.9 L891.2,956.6 L891.9,957.4 L892.5,959.1 L893.2,956.1 L893.8,955.6 L894.5,958.2 L895.2,957.6 L895.8,957.1 L896.5,957.5 L897.1,956.8 L897.8,957.6 L898.5,956.5 L899.1,957.5 L899.8,955.2 L900.4,955.5 L901.1,956.4 L901.8,955.6 L902.4,956.7 L903.1,955.7 L903.7,955.1 L904.4,955.9 L905.1,955.1 L905.7,954.1 L906.4,954.7 L907.0,955.3 L907.7,955.8 L908.4,956.5 L909.0,957.4 L909.7,956.9 L910.3,958.3 L911.0,957.7 L911.7,956.2 L912.3,958.3 L913.0,957.7 L913.6,955.8 L914.3,956.5 L915.0,957.1 L915.6,956.0 L916.3,956.8 L916.9,956.3 L917.6,957.0 L918.3,956.2 L918.9,957.3 L919.6,956.8 L920.2,958.2 L920.9,955.8 L921.6,958.2 L922.2,959.3 L922.9,958.6 L923.5,957.9 L924.2,958.4 L924.9,956.8 L925.5,956.7 L926.2,957.2 L926.8,957.6 L927.5,958.9 L928.2,956.9 L928.8,958.9 L929.5,955.8 L930.1,956.4 L930.8,957.0 L931.5,958.2 L932.1,956.2 L932.8,954.5 L933.4,957.4 L934.1,956.9 L934.8,955.8 L935.4,955.8 L936.1,956.2 L936.7,957.2 L937.4,958.0 L938.1,955.9 L938.7,960.4 L939.4,958.3 L940.0,958.3 L940.7,959.9 L941.4,959.6 L942.0,962.2 L942.7,961.0 L943.3,959.4 L944.0,959.4 L944.7,959.2 L945.3,959.3 L946.0,960.4 L946.6,958.9 L947.3,961.4 L948.0,959.6 L948.6,959.6 L949.3,961.0 L949.9,957.9 L950.6,959.1 L951.3,960.8 L951.9,960.1 L952.6,960.0 L953.2,960.5 L953.9,959.6 L954.6,960.4 L955.2,959.4 L955.9,959.2 L956.5,962.9 L957.2,960.7 L957.9,960.9 L958.5,963.2 L959.2,962.8 L959.8,960.9 L960.5,960.8 L961.2,961.2 L961.8,960.2 L962.5,961.7 L963.1,961.2 L963.8,961.2 L964.5,961.9 L965.1,961.9 L965.8,963.4 L966.4,963.3 L967.1,960.1 L967.8,963.3 L968.4,961.5 L969.1,961.5 L969.7,964.0 L970.4,962.5 L971.1,962.9 L971.7,964.5 L972.4,962.5 L973.0,962.2 L973.7,963.5 L974.4,964.6 L975.0,963.8 L975.7,961.5 L976.3,962.4 L977.0,962.9 L977.7,965.1 L978.3,964.0 L979.0,964.0 L979.6,964.5 L980.3,962.9 L981.0,963.9 L981.6,964.0 L982.3,962.4 L982.9,963.4 L983.6,964.1 L984.3,962.3 L984.9,964.6 L985.6,964.8 L986.2,965.3 L986.9,963.5 L987.6,964.5 L988.2,965.9 L988.9,964.9 L989.5,962.9 L990.2,963.9 L990.9,965.1 L991.5,963.5 L992.2,964.1 L992.8,966.6 L993.5,963.8 L994.2,963.8 L994.8,962.9 L995.5,963.4 L996.1,965.9 L996.8,964.2 L997.5,963.0 L998.1,963.3 L998.8,964.3 L999.4,965.1 L1000.1,963.3 L1000.8,964.8 L1001.4,963.4 L1002.1,964.2 L1002.7,964.3 L1003.4,964.3 L1004.1,963.0 L1004.7,963.3 L1005.4,964.0 L1006.0,962.0 L1006.7,963.7 L1007.4,964.1 L1008.0,964.8 L1008.7,963.9 L1009.3,964.0 L1010.0,964.5 L1010.7,963.5 L1011.3,963.9 L1012.0,964.2 L1012.6,963.7 L1013.3,961.9 L1014.0,962.4 L1014.6,960.4 L1015.3,963.6 L1015.9,962.3 L1016.6,963.3 L1017.3,961.9 L1017.9,963.0 L1018.6,963.6 L1019.2,964.3 L1019.9,961.9 L1020.6,964.5 L1021.2,963.6 L1021.9,963.0 L1022.5,964.2 L1023.2,963.1 L1023.9,962.6 L1024.5,961.7 L1025.2,962.3 L1025.8,961.8 L1026.5,961.4 L1027.2,960.5 L1027.8,961.1 L1028.5,962.2 L1029.1,963.2 L1029.8,961.6 L1030.5,963.1 L1031.1,961.3 L1031.8,960.0 L1032.4,961.9 L1033.1,960.2 L1033.8,961.9 L1034.4,962.8 L1035.1,961.5 L1035.7,961.8 L1036.4,964.6 L1037.1,962.2 L1037.7,962.2 L1038.4,962.6 L1039.0,961.6 L1039.7,961.5 L1040.4,962.0 L1041.0,959.0 L1041.7,963.2 L1042.3,960.5 L1043.0,960.5 L1043.7,962.2 L1044.3,961.5 L1045.0,959.9 L1045.6,961.4 L1046.3,960.0 L1047.0,960.7 L1047.6,960.0 L1048.3,960.9 L1048.9,962.4 L1049.6,962.1 L1050.3,962.2 L1050.9,962.7 L1051.6,961.4 L1052.2,960.5 L1052.9,960.8 L1053.6,962.9 L1054.2,961.2 L1054.9,961.6 L1055.5,961.4 L1056.2,962.1 L1056.9,962.5 L1057.5,962.2 L1058.2,962.2 L1058.8,961.4 L1059.5,961.2 L1060.2,962.4 L1060.8,962.7 L1061.5,963.0 L1062.1,962.2 L1062.8,961.4 L1063.5,963.1 L1064.1,963.2 L1064.8,960.9 L1065.4,963.4 L1066.1,963.2 L1066.8,964.4 L1067.4,961.5 L1068.1,961.4 L1068.7,963.6 L1069.4,960.8 L1070.1,961.9 L1070.7,961.6 L1071.4,962.0 L1072.0,961.3 L1072.7,963.6 L1073.4,965.3 L1074.0,964.9 L1074.7,965.0 L1075.3,964.1 L1076.0,966.0 L1076.7,964.9 L1077.3,965.5 L1078.0,962.7 L1078.6,964.8 L1079.3,963.2 L1080.0,964.7 L1080.6,964.5 L1081.3,963.0 L1081.9,964.5 L1082.6,965.7 L1083.3,965.1 L1083.9,965.5 L1084.6,964.1 L1085.2,964.4 L1085.9,964.1 L1086.6,965.6 L1087.2,966.7 L1087.9,965.8 L1088.5,965.1 L1089.2,963.6 L1089.9,965.1 L1090.5,964.3 L1091.2,962.4 L1091.8,962.7 L1092.5,964.3 L1093.2,964.0 L1093.8,967.1 L1094.5,965.6 L1095.1,964.7 L1095.8,965.5 L1096.5,967.9 L1097.1,965.0 L1097.8,966.7 L1098.4,966.1 L1099.1,967.0 L1099.8,965.9 L1100.4,964.9 L1101.1,966.0 L1101.7,965.6 L1102.4,966.7 L1103.1,965.5 L1103.7,967.6 L1104.4,965.2 L1105.0,965.7 L1105.7,964.5 L1106.4,965.3 L1107.0,965.2 L1107.7,965.3 L1108.3,966.0 L1109.0,964.4 L1109.7,964.1 L1110.3,966.3 L1111.0,964.9 L1111.6,964.6 L1112.3,966.8 L1113.0,966.5 L1113.6,962.8 L1114.3,965.3 L1114.9,966.7 L1115.6,966.7 L1116.3,965.3 L1116.9,967.7 L1117.6,965.2 L1118.2,965.9 L1118.9,966.3 L1119.6,966.1 L1120.2,967.0 L1120.9,967.2 L1121.5,966.0 L1122.2,967.4 L1122.9,965.1 L1123.5,965.6 L1124.2,967.8 L1124.8,966.2 L1125.5,967.5 L1126.2,966.1 L1126.8,966.4 L1127.5,966.7 L1128.1,966.9 L1128.8,966.2 L1129.5,966.5 L1130.1,967.1 L1130.8,967.5 L1131.4,966.2 L1132.1,966.7 L1132.8,967.0 L1133.4,964.9 L1134.1,964.3 L1134.7,967.7 L1135.4,967.3 L1136.1,965.9 L1136.7,966.2 L1137.4,964.7 L1138.0,964.3 L1138.7,966.3 L1139.4,964.5 L1140.0,967.5 L1140.7,966.0 L1141.3,967.3 L1142.0,969.2 L1142.7,969.2 L1143.3,966.8 L1144.0,968.1 L1144.6,965.6 L1145.3,965.8 L1146.0,966.6 L1146.6,967.3 L1147.3,964.9 L1147.9,966.0 L1148.6,965.5 L1149.3,964.1 L1149.9,965.7 L1150.6,967.8 L1151.2,966.3 L1151.9,967.1 L1152.6,967.4 L1153.2,965.6 L1153.9,967.6 L1154.5,967.8 L1155.2,967.9 L1155.9,967.6 L1156.5,965.8 L1157.2,965.8 L1157.8,965.6 L1158.5,965.5 L1159.2,965.4 L1159.8,967.0 L1160.5,967.2 L1161.1,964.6 L1161.8,965.9 L1162.5,963.6 L1163.1,964.6 L1163.8,964.0 L1164.4,963.4 L1165.1,965.4 L1165.8,965.4 L1166.4,965.0 L1167.1,964.9 L1167.7,964.6 L1168.4,965.6 L1169.1,965.2 L1169.7,966.1 L1170.4,964.5 L1171.0,966.0 L1171.7,966.2 L1172.4,967.1 L1173.0,967.1 L1173.7,966.4 L1174.3,965.8 L1175.0,964.8 L1175.7,967.0 L1176.3,968.7 L1177.0,968.9 L1177.6,964.3 L1178.3,966.1 L1179.0,966.4 L1179.6,965.5 L1180.3,966.5 L1180.9,966.0 L1181.6,965.1 L1182.3,965.4 L1182.9,963.7 L1183.6,964.5 L1184.2,964.7 L1184.9,966.9 L1185.6,964.2 L1186.2,965.9 L1186.9,967.1 L1187.5,966.4 L1188.2,967.5 L1188.9,966.0 L1189.5,967.1 L1190.2,967.3 L1190.8,968.4 L1191.5,966.3 L1192.2,966.7 L1192.8,964.9 L1193.5,965.0 L1194.1,966.7 L1194.8,965.8 L1195.5,966.8 L1196.1,966.2 L1196.8,967.8 L1197.4,968.2 L1198.1,964.6 L1198.8,967.6 L1199.4,966.0 L1200.1,966.1 L1200.7,965.4 L1201.4,966.3 L1202.1,964.3 L1202.7,964.6 L1203.4,964.5 L1204.0,965.6 L1204.7,966.3 L1205.4,966.0 L1206.0,965.7 L1206.7,964.7 L1207.3,963.4 L1208.0,965.8 L1208.7,965.5 L1209.3,965.7 L1210.0,966.9 L1210.6,965.3 L1211.3,965.5 L1212.0,963.4 L1212.6,966.8 L1213.3,966.4 L1213.9,965.6 L1214.6,966.8 L1215.3,965.0 L1215.9,965.4 L1216.6,968.0 L1217.2,966.5 L1217.9,966.7 L1218.6,966.4 L1219.2,966.2 L1219.9,965.6 L1220.5,967.7 L1221.2,964.8 L1221.9,965.5 L1222.5,964.2 L1223.2,963.9 L1223.8,961.5 L1224.5,961.9 L1225.2,965.7 L1225.8,965.6 L1226.5,963.5 L1227.1,964.0 L1227.8,964.7 L1228.5,963.0 L1229.1,965.9 L1229.8,962.7 L1230.4,962.8 L1231.1,960.3 L1231.8,964.7 L1232.4,962.9 L1233.1,964.4 L1233.7,961.4 L1234.4,962.8 L1235.1,962.5 L1235.7,962.6 L1236.4,964.6 L1237.0,964.9 L1237.7,963.9 L1238.4,961.9 L1239.0,963.2 L1239.7,963.4 L1240.3,962.1 L1241.0,961.8 L1241.7,961.3 L1242.3,959.4 L1243.0,960.4 L1243.6,961.5 L1244.3,958.3 L1245.0,959.1 L1245.6,959.5 L1246.3,956.7 L1246.9,957.7 L1247.6,955.7 L1248.3,956.7 L1248.9,955.7 L1249.6,956.0 L1250.2,956.0 L1250.9,955.6 L1251.6,954.9 L1252.2,951.7 L1252.9,955.4 L1253.5,952.6 L1254.2,950.9 L1254.9,950.8 L1255.5,951.1 L1256.2,949.0 L1256.8,948.9 L1257.5,948.1 L1258.2,948.5 L1258.8,946.2 L1259.5,946.5 L1260.1,945.2 L1260.8,943.4 L1261.5,943.6 L1262.1,940.9 L1262.8,938.3 L1263.4,938.8 L1264.1,937.5 L1264.8,936.1 L1265.4,935.1 L1266.1,935.9 L1266.7,931.8 L1267.4,930.0 L1268.1,925.5 L1268.7,922.0 L1269.4,914.2 L1270.0,906.4 L1270.7,898.8 L1271.4,893.9 L1272.0,888.0 L1272.7,879.4 L1273.3,873.8 L1274.0,868.4 L1274.7,861.6 L1275.3,851.7 L1276.0,845.5 L1276.6,839.9 L1277.3,831.8 L1278.0,826.1 L1278.6,821.2 L1279.3,816.7 L1279.9,815.8 L1280.6,815.2 L1281.3,813.9 L1281.9,817.1 L1282.6,820.7 L1283.2,823.0 L1283.9,827.8 L1284.6,830.8 L1285.2,838.0 L1285.9,841.1 L1286.5,849.8 L1287.2,853.2 L1287.9,858.9 L1288.5,864.9 L1289.2,871.5 L1289.8,877.4 L1290.5,882.8 L1291.2,888.5 L1291.8,895.2 L1292.5,901.6 L1293.1,906.7 L1293.8,915.0 L1294.5,919.1 L1295.1,925.2 L1295.8,930.6 L1296.4,937.2 L1297.1,938.5 L1297.8,941.1 L1298.4,945.9 L1299.1,948.1 L1299.7,949.5 L1300.4,948.2 L1301.1,951.5 L1301.7,953.9 L1302.4,954.4 L1303.0,953.6 L1303.7,956.1 L1304.4,955.5 L1305.0,956.8 L1305.7,961.1 L1306.3,960.0 L1307.0,958.0 L1307.7,958.2 L1308.3,960.6 L1309.0,959.6 L1309.6,961.1 L1310.3,959.9 L1311.0,960.5 L1311.6,961.0 L1312.3,959.8 L1312.9,959.0 L1313.6,960.2 L1314.3,961.0 L1314.9,961.7 L1315.6,961.9 L1316.2,961.7 L1316.9,962.2 L1317.6,960.5 L1318.2,963.0 L1318.9,963.7 L1319.5,961.9 L1320.2,961.7 L1320.9,962.9 L1321.5,962.2 L1322.2,961.6 L1322.8,961.2 L1323.5,960.6 L1324.2,960.2 L1324.8,962.4 L1325.5,963.0 L1326.1,960.7 L1326.8,961.9 L1327.5,962.2 L1328.1,961.5 L1328.8,960.9 L1329.4,961.0 L1330.1,959.0 L1330.8,960.7 L1331.4,960.3 L1332.1,962.8 L1332.7,961.6 L1333.4,960.5 L1334.1,961.4 L1334.7,963.9 L1335.4,964.4 L1336.0,963.4 L1336.7,963.5 L1337.4,962.4 L1338.0,963.8 L1338.7,964.1 L1339.3,963.5 L1340.0,966.4 L1340.7,962.7 L1341.3,965.1 L1342.0,966.1 L1342.6,966.5 L1343.3,968.0 L1344.0,964.6 L1344.6,965.2 L1345.3,966.0 L1345.9,965.9 L1346.6,965.3 L1347.3,964.9 L1347.9,967.0 L1348.6,964.7 L1349.2,965.3 L1349.9,967.7 L1350.6,968.2 L1351.2,967.6 L1351.9,965.9 L1352.5,966.0 L1353.2,965.8 L1353.9,965.3 L1354.5,965.7 L1355.2,967.1 L1355.8,965.7 L1356.5,964.6 L1357.2,964.7 L1357.8,964.6 L1358.5,967.6 L1359.1,964.3 L1359.8,967.0 L1360.5,965.2 L1361.1,965.6 L1361.8,964.9 L1362.4,967.5 L1363.1,966.2 L1363.8,969.1 L1364.4,964.7 L1365.1,964.4 L1365.7,966.2 L1366.4,966.2 L1367.1,965.3 L1367.7,963.4 L1368.4,967.3 L1369.0,966.5 L1369.7,966.3 L1370.4,965.2 L1371.0,966.6 L1371.7,965.3 L1372.3,966.1 L1373.0,966.0 L1373.7,967.7 L1374.3,965.8 L1375.0,965.9 L1375.6,967.5 L1376.3,966.5 L1377.0,966.1 L1377.6,965.9 L1378.3,967.2 L1378.9,965.4 L1379.6,966.6 L1380.3,968.1 L1380.9,966.2 L1381.6,964.8 L1382.2,964.4 L1382.9,966.1 L1383.6,964.9 L1384.2,964.8 L1384.9,966.0 L1385.5,965.8 L1386.2,968.0 L1386.9,965.3 L1387.5,968.6 L1388.2,965.9 L1388.8,966.8 L1389.5,967.4 L1390.2,967.0 L1390.8,967.5 L1391.5,965.7 L1392.1,964.3 L1392.8,966.6 L1393.5,964.9 L1394.1,966.0 L1394.8,967.6 L1395.4,966.2 L1396.1,965.6 L1396.8,964.8 L1397.4,965.7 L1398.1,965.9 L1398.7,964.5 L1399.4,966.7 L1400.1,965.4 L1400.7,966.9 L1401.4,966.1 L1402.0,967.6 L1402.7,967.3 L1403.4,966.2 L1404.0,966.0 L1404.7,966.5 L1405.3,967.6 L1406.0,967.4 L1406.7,966.6 L1407.3,967.0 L1408.0,968.7 L1408.6,965.5 L1409.3,968.1 L1410.0,966.6 L1410.6,969.1 L1411.3,966.9 L1411.9,967.2 L1412.6,965.9 L1413.3,966.8 L1413.9,967.4 L1414.6,968.1 L1415.2,964.7 L1415.9,965.5 L1416.6,970.3 L1417.2,967.2 L1417.9,966.3 L1418.5,967.0 L1419.2,963.6 L1419.9,968.4 L1420.5,966.8 L1421.2,965.0 L1421.8,967.9 L1422.5,966.1 L1423.2,966.0 L1423.8,967.9 L1424.5,967.9 L1425.1,967.1 L1425.8,967.5 L1426.5,966.0 L1427.1,965.7 L1427.8,968.1 L1428.4,968.4 L1429.1,967.2 L1429.8,967.0 L1430.4,966.0 L1431.1,966.2 L1431.7,965.3 L1432.4,968.6 L1433.1,966.4 L1433.7,967.9 L1434.4,967.8 L1435.0,966.5 L1435.7,970.3 L1436.4,967.7 L1437.0,967.1 L1437.7,968.0 L1438.3,966.9 L1439.0,968.0 L1439.7,967.0 L1440.3,968.9 L1441.0,968.3 L1441.6,966.8 L1442.3,969.3 L1443.0,968.3 L1443.6,966.7 L1444.3,968.2 L1444.9,968.1 L1445.6,969.6 L1446.3,966.6 L1446.9,968.4 L1447.6,967.3 L1448.2,968.0 L1448.9,967.1 L1449.6,967.4 L1450.2,968.1 L1450.9,966.5 L1451.5,965.8 L1452.2,968.3 L1452.9,968.0 L1453.5,968.5 L1454.2,969.0 L1454.8,967.8 L1455.5,969.2 L1456.2,967.8 L1456.8,968.1 L1457.5,969.2 L1458.1,969.1 L1458.8,968.6 L1459.5,968.9 L1460.1,968.0 L1460.8,968.0 L1461.4,968.7 L1462.1,969.3 L1462.8,967.8 L1463.4,969.1 L1464.1,970.4 L1464.7,970.8 L1465.4,968.6 L1466.1,969.9 L1466.7,969.4 L1467.4,969.6 L1468.0,969.6 L1468.7,969.1 L1469.4,969.5 L1470.0,968.9 L1470.7,968.7 L1471.3,969.5 L1472.0,969.9 L1472.7,970.6 L1473.3,969.5 L1474.0,969.6 L1474.6,970.1 L1475.3,967.4 L1476.0,968.1 L1476.6,969.1 L1477.3,968.8 L1477.9,967.9 L1478.6,970.2 L1479.3,969.0 L1479.9,967.9 L1480.6,971.0 L1481.2,967.4 L1481.9,968.9 L1482.6,968.2 L1483.2,969.1 L1483.9,969.7 L1484.5,968.2 L1485.2,969.0 L1485.9,968.8 L1486.5,967.6 L1487.2,969.8 L1487.8,968.4 L1488.5,967.8 L1489.2,967.4 L1489.8,967.8 L1490.5,968.5 L1491.1,968.1 L1491.8,970.2 L1492.5,966.1 L1493.1,966.5 L1493.8,968.6 L1494.4,966.8 L1495.1,968.8 L1495.8,968.2 L1496.4,969.6 L1497.1,969.5 L1497.7,970.6 L1498.4,970.2 L1499.1,970.6 L1499.7,969.8 L1500.4,970.5 L1501.0,970.0 L1501.7,969.0 L1502.4,968.4 L1503.0,968.5 L1503.7,970.4 L1504.3,967.1 L1505.0,969.8 L1505.7,968.8 L1506.3,970.4 L1507.0,969.8 L1507.6,968.6 L1508.3,969.4 L1509.0,966.7 L1509.6,969.3 L1510.3,969.4 L1510.9,966.7 L1511.6,969.6 L1512.3,968.6 L1512.9,969.0 L1513.6,967.3 L1514.2,969.5 L1514.9,969.6 L1515.6,969.0 L1516.2,968.1 L1516.9,970.2 L1517.5,970.7 L1518.2,969.8 L1518.9,970.3 L1519.5,968.4 L1520.2,969.0 L1520.8,969.0 L1521.5,968.6 L1522.2,971.4 L1522.8,968.7 L1523.5,967.5 L1524.1,968.9 L1524.8,966.6 L1525.5,968.1 L1526.1,968.4 L1526.8,966.9 L1527.4,966.9 L1528.1,966.1 L1528.8,967.2 L1529.4,966.3 L1530.1,969.1 L1530.7,968.0 L1531.4,967.2 L1532.1,965.9 L1532.7,969.8 L1533.4,968.9 L1534.0,967.9 L1534.7,967.4 L1535.4,967.3 L1536.0,966.5 L1536.7,969.1 L1537.3,967.2 L1538.0,965.5 L1538.7,966.5 L1539.3,964.4 L1540.0,968.1 L1540.6,968.3 L1541.3,969.6 L1542.0,970.2 L1542.6,967.1 L1543.3,968.4 L1543.9,968.9 L1544.6,968.5 L1545.3,966.9 L1545.9,968.2 L1546.6,967.7 L1547.2,968.4 L1547.9,966.6 L1548.6,966.2 L1549.2,965.6 L1549.9,965.5 L1550.5,964.9 L1551.2,965.2 L1551.9,965.9 L1552.5,965.5 L1553.2,966.2 L1553.8,965.8 L1554.5,965.1 L1555.2,963.1 L1555.8,964.9 L1556.5,965.5 L1557.1,962.8 L1557.8,962.9 L1558.5,963.0 L1559.1,962.8 L1559.8,963.6 L1560.4,962.9 L1561.1,964.4 L1561.8,962.7 L1562.4,964.1 L1563.1,963.9 L1563.7,963.6 L1564.4,966.0 L1565.1,965.1 L1565.7,965.7 L1566.4,964.6 L1567.0,965.6 L1567.7,965.2 L1568.4,964.2 L1569.0,962.3 L1569.7,965.3 L1570.3,965.3 L1571.0,964.9 L1571.7,965.1 L1572.3,965.0 L1573.0,964.9 L1573.6,963.2 L1574.3,963.9 L1575.0,964.0 L1575.6,963.0 L1576.3,962.7 L1576.9,966.1 L1577.6,965.0 L1578.3,964.2 L1578.9,964.1 L1579.6,961.8 L1580.2,963.1 L1580.9,964.4 L1581.6,966.2 L1582.2,962.6 L1582.9,964.1 L1583.5,967.0 L1584.2,965.6 L1584.9,965.3 L1585.5,966.2 L1586.2,964.8 L1586.8,964.8 L1587.5,965.8 L1588.2,965.9 L1588.8,963.8 L1589.5,966.6 L1590.1,963.1 L1590.8,964.4 L1591.5,968.7 L1592.1,964.9 L1592.8,966.3 L1593.4,964.4 L1594.1,965.0 L1594.8,964.3 L1595.4,964.4 L1596.1,965.4 L1596.7,966.6 L1597.4,965.8 L1598.1,966.7 L1598.7,964.8 L1599.4,967.3 L1600.0,966.7 L1600.7,967.8 L1601.4,965.9 L1602.0,966.0 L1602.7,967.5 L1603.3,966.3 L1604.0,965.3 L1604.7,964.0 L1605.3,964.4 L1606.0,964.9 L1606.6,965.1 L1607.3,963.7 L1608.0,964.0 L1608.6,964.9 L1609.3,963.3 L1609.9,965.7 L1610.6,964.8 L1611.3,964.9 L1611.9,962.5 L1612.6,963.5 L1613.2,964.0 L1613.9,964.4 L1614.6,963.6 L1615.2,965.2 L1615.9,964.9 L1616.5,964.6 L1617.2,962.9 L1617.9,966.9 L1618.5,965.2 L1619.2,966.1 L1619.8,964.7 L1620.5,965.2 L1621.2,965.9 L1621.8,965.2 L1622.5,966.0 L1623.1,964.8 L1623.8,967.3 L1624.5,963.1 L1625.1,964.6 L1625.8,966.2 L1626.4,964.8 L1627.1,964.5 L1627.8,963.1 L1628.4,966.4 L1629.1,963.1 L1629.7,965.8 L1630.4,965.5 L1631.1,966.3 L1631.7,966.9 L1632.4,964.5 L1633.0,964.4 L1633.7,964.9 L1634.4,963.4 L1635.0,966.3 L1635.7,965.0 L1636.3,965.6 L1637.0,964.2 L1637.7,965.4 L1638.3,964.7 L1639.0,965.2 L1639.6,964.1 L1640.3,966.4 L1641.0,964.7 L1641.6,962.7 L1642.3,966.2 L1642.9,965.2 L1643.6,964.5 L1644.3,968.0 L1644.9,965.0 L1645.6,963.4 L1646.2,964.1 L1646.9,965.1 L1647.6,964.5 L1648.2,966.1 L1648.9,966.0 L1649.5,964.0 L1650.2,964.8 L1650.9,965.3 L1651.5,963.8 L1652.2,963.4 L1652.8,964.6 L1653.5,963.9 L1654.2,961.6 L1654.8,962.3 L1655.5,962.1 L1656.1,962.1 L1656.8,961.1 L1657.5,963.0 L1658.1,960.3 L1658.8,960.0 L1659.4,961.3 L1660.1,958.5 L1660.8,959.7 L1661.4,961.3 L1662.1,959.0 L1662.7,959.3 L1663.4,961.2 L1664.1,960.3 L1664.7,959.9 L1665.4,960.1 L1666.0,959.0 L1666.7,960.1 L1667.4,959.6 L1668.0,962.5 L1668.7,960.2 L1669.3,959.1 L1670.0,959.1 L1670.7,959.0 L1671.3,957.1 L1672.0,957.5 L1672.6,959.8 L1673.3,956.3 L1674.0,956.9 L1674.6,958.3 L1675.3,958.5 L1675.9,955.4 L1676.6,957.8 L1677.3,955.4 L1677.9,957.2 L1678.6,955.4 L1679.2,954.0 L1679.9,954.6 L1680.6,953.9 L1681.2,952.0 L1681.9,954.8 L1682.5,951.7 L1683.2,952.9 L1683.9,950.6 L1684.5,948.6 L1685.2,948.8 L1685.8,949.3 L1686.5,949.5 L1687.2,950.1 L1687.8,947.7 L1688.5,946.8 L1689.1,945.3 L1689.8,946.1 L1690.5,945.9 L1691.1,942.5 L1691.8,945.8 L1692.4,944.8 L1693.1,945.3 L1693.8,940.9 L1694.4,941.0 L1695.1,940.0 L1695.7,937.3 L1696.4,936.4 L1697.1,934.7 L1697.7,934.7 L1698.4,932.9 L1699.0,932.2 L1699.7,928.5 L1700.4,925.6 L1701.0,926.0 L1701.7,924.5 L1702.3,923.4 L1703.0,922.4 L1703.7,918.6 L1704.3,918.1 L1705.0,913.9 L1705.6,912.9 L1706.3,911.1 L1707.0,908.0 L1707.6,906.3 L1708.3,902.8 L1708.9,902.1 L1709.6,901.8 L1710.3,899.4 L1710.9,899.1 L1711.6,902.2 L1712.2,899.5 L1712.9,898.2 L1713.6,898.2 L1714.2,901.3 L1714.9,897.3 L1715.5,900.8 L1716.2,902.9 L1716.9,903.1 L1717.5,905.9 L1718.2,906.2 L1718.8,909.4 L1719.5,911.7 L1720.2,913.8 L1720.8,915.9 L1721.5,917.6 L1722.1,920.6 L1722.8,921.0 L1723.5,922.8 L1724.1,925.9 L1724.8,929.0 L1725.4,931.1 L1726.1,934.0 L1726.8,937.8 L1727.4,942.5 L1728.1,943.7 L1728.7,945.8 L1729.4,950.8 L1730.1,950.2 L1730.7,950.0 L1731.4,950.9 L1732.0,954.5 L1732.7,953.3 L1733.4,956.7 L1734.0,957.0 L1734.7,958.6 L1735.3,956.9 L1736.0,959.2 L1736.7,956.6 L1737.3,958.9 L1738.0,960.8 L1738.6,960.8 L1739.3,958.4 L1740.0,961.6 L1740.6,961.8 L1741.3,961.5 L1741.9,961.0 L1742.6,961.5 L1743.3,961.2 L1743.9,962.8 L1744.6,962.2 L1745.2,962.8 L1745.9,962.4 L1746.6,960.3 L1747.2,962.1 L1747.9,964.6 L1748.5,961.4 L1749.2,963.5 L1749.9,962.8 L1750.5,963.0 L1751.2,964.5 L1751.8,965.4 L1752.5,965.3 L1753.2,964.9 L1753.8,965.3 L1754.5,962.4 L1755.1,965.0 L1755.8,964.5 L1756.5,964.0 L1757.1,964.3 L1757.8,963.6 L1758.4,965.9 L1759.1,963.9 L1759.8,963.1 L1760.4,964.7 L1761.1,964.1 L1761.7,964.8 L1762.4,966.7 L1763.1,965.1 L1763.7,965.6 L1764.4,968.1 L1765.0,964.1 L1765.7,965.9 L1766.4,966.6 L1767.0,966.8 L1767.7,967.5 L1768.3,964.4 L1769.0,965.9 L1769.7,965.3 L1770.3,965.1 L1771.0,964.9 L1771.6,964.1 L1772.3,966.0 L1773.0,966.4 L1773.6,964.3 L1774.3,966.2 L1774.9,964.6 L1775.6,963.9 L1776.3,962.0 L1776.9,966.0 L1777.6,965.5"/>
<path stroke="#f0f" d="M119.0,655.3 L119.7,656.0 L120.3,655.6 L121.0,654.0 L121.6,656.4 L122.3,656.0 L123.0,654.9 L123.6,656.0 L124.3,655.7 L124.9,655.4 L125.6,655.0 L126.3,655.5 L126.9,654.0 L127.6,654.5 L128.2,654.1 L128.9,655.1 L129.6,654.3 L130.2,653.8 L130.9,653.1 L131.5,653.5 L132.2,653.8 L132.9,653.6 L133.5,655.4 L134.2,655.2 L134.8,651.2 L135.5,651.9 L136.2,653.4 L136.8,652.9 L137.5,653.4 L138.1,653.4 L138.8,655.4 L139.5,652.1 L140.1,653.0 L140.8,655.6 L141.4,654.2 L142.1,654.3 L142.8,653.0 L143.4,651.7 L144.1,653.5 L144.7,653.3 L145.4,651.8 L146.1,652.5 L146.7,653.3 L147.4,652.8 L148.0,654.1 L148.7,654.8 L149.4,655.3 L150.0,655.2 L150.7,656.7 L151.3,657.2 L152.0,656.7 L152.7,655.4 L153.3,657.0 L154.0,655.7 L154.6,657.2 L155.3,655.2 L156.0,657.4 L156.6,656.6 L157.3,655.3 L157.9,656.3 L158.6,656.4 L159.3,656.3 L159.9,654.6 L160.6,654.0 L161.2,654.9 L161.9,653.7 L162.6,653.9 L163.2,653.8 L163.9,650.7 L164.5,652.1 L165.2,652.5 L165.9,650.4 L166.5,649.3 L167.2,650.5 L167.8,649.5 L168.5,649.7 L169.2,647.9 L169.8,646.2 L170.5,647.2 L171.1,646.3 L171.8,647.1 L172.5,646.2 L173.1,644.1 L173.8,644.7 L174.4,647.2 L175.1,647.5 L175.8,646.6 L176.4,647.6 L177.1,648.3 L177.7,648.4 L178.4,648.9 L179.1,648.2 L179.7,647.9 L180.4,647.8 L181.0,649.3 L181.7,645.9 L182.4,648.1 L183.0,648.0 L183.7,646.1 L184.3,647.5 L185.0,646.0 L185.7,647.2 L186.3,645.6 L187.0,646.0 L187.6,646.0 L188.3,644.6 L189.0,642.6 L189.6,641.2 L190.3,643.8 L190.9,641.1 L191.6,639.8 L192.3,640.1 L192.9,639.0 L193.6,639.4 L194.2,637.7 L194.9,636.8 L195.6,634.9 L196.2,635.0 L196.9,632.1 L197.5,632.5 L198.2,631.6 L198.9,626.5 L199.5,623.6 L200.2,625.3 L200.8,626.1 L201.5,621.9 L202.2,622.5 L202.8,626.8 L203.5,628.8 L204.1,633.3 L204.8,637.6 L205.5,642.0 L206.1,643.4 L206.8,645.9 L207.4,647.1 L208.1,647.9 L208.8,649.8 L209.4,650.2 L210.1,652.2 L210.7,651.8 L211.4,652.4 L212.1,655.3 L212.7,653.7 L213.4,653.5 L214.0,653.7 L214.7,652.2 L215.4,651.7 L216.0,651.8 L216.7,651.1 L217.3,649.1 L218.0,651.0 L218.7,649.3 L219.3,648.8 L220.0,648.9 L220.6,649.4 L221.3,651.5 L222.0,648.7 L222.6,650.3 L223.3,648.3 L223.9,651.1 L224.6,652.7 L225.3,652.2 L225.9,652.3 L226.6,653.7 L227.2,654.7 L227.9,655.2 L228.6,657.1 L229.2,655.9 L229.9,655.8 L230.5,657.0 L231.2,657.8 L231.9,658.6 L232.5,658.9 L233.2,659.4 L233.8,657.6 L234.5,660.3 L235.2,658.8 L235.8,658.1 L236.5,659.9 L237.1,660.5 L237.8,659.6 L238.5,659.3 L239.1,658.2 L239.8,662.3 L240.4,660.2 L241.1,658.2 L241.8,658.7 L242.4,659.7 L243.1,658.1 L243.7,660.0 L244.4,659.4 L245.1,661.1 L245.7,660.8 L246.4,656.9 L247.0,659.7 L247.7,657.9 L248.4,660.7 L249.0,659.7 L249.7,660.0 L250.3,658.3 L251.0,661.2 L251.7,661.3 L252.3,657.9 L253.0,659.4 L253.6,658.3 L254.3,659.1 L255.0,658.0 L255.6,661.5 L256.3,658.7 L256.9,659.5 L257.6,660.2 L258.3,658.9 L258.9,659.1 L259.6,658.7 L260.2,659.1 L260.9,658.1 L261.6,659.2 L262.2,659.7 L262.9,659.8 L263.5,660.4 L264.2,660.2 L264.9,661.3 L265.5,660.3 L266.2,660.6 L266.8,660.1 L267.5,660.3 L268.2,659.6 L268.8,661.4 L269.5,659.6 L270.1,659.9 L270.8,661.1 L271.5,661.1 L272.1,660.4 L272.8,658.9 L273.4,661.7 L274.1,661.8 L274.8,660.3 L275.4,662.8 L276.1,661.5 L276.7,661.1 L277.4,662.5 L278.1,662.2 L278.7,662.6 L279.4,660.5 L280.0,664.0 L280.7,661.5 L281.4,660.6 L282.0,662.9 L282.7,662.0 L283.3,663.0 L284.0,662.5 L284.7,663.0 L285.3,663.4 L286.0,662.4 L286.6,663.9 L287.3,662.8 L288.0,662.4 L288.6,663.4 L289.3,663.8 L289.9,663.1 L290.6,662.5 L291.3,664.1 L291.9,661.7 L292.6,662.6 L293.2,663.9 L293.9,662.5 L294.6,663.9 L295.2,663.7 L295.9,664.6 L296.5,662.6 L297.2,662.9 L297.9,664.0 L298.5,661.2 L299.2,667.0 L299.8,662.9 L300.5,662.7 L301.2,664.0 L301.8,662.8 L302.5,660.7 L303.1,663.0 L303.8,663.2 L304.5,661.9 L305.1,662.2 L305.8,663.1 L306.4,661.7 L307.1,663.1 L307.8,662.8 L308.4,661.8 L309.1,660.9 L309.7,661.9 L310.4,661.0 L311.1,662.8 L311.7,661.7 L312.4,662.2 L313.0,661.3 L313.7,661.3 L314.4,659.9 L315.0,661.2 L315.7,662.0 L316.3,659.6 L317.0,659.1 L317.7,659.4 L318.3,659.0 L319.0,658.6 L319.6,659.4 L320.3,658.9 L321.0,660.6 L321.6,659.0 L322.3,659.3 L322.9,659.8 L323.6,658.3 L324.3,660.0 L324.9,657.6 L325.6,657.3 L326.2,657.7 L326.9,658.0 L327.6,656.6 L328.2,657.8 L328.9,655.9 L329.5,658.8 L330.2,657.1 L330.9,656.3 L331.5,655.9 L332.2,656.2 L332.8,656.2 L333.5,655.0 L334.2,654.8 L334.8,655.1 L335.5,654.5 L336.1,655.9 L336.8,656.0 L337.5,654.9 L338.1,655.4 L338.8,653.6 L339.4,655.6 L340.1,654.9 L340.8,655.2 L341.4,656.0 L342.1,651.6 L342.7,654.0 L343.4,652.3 L344.1,653.9 L344.7,651.8 L345.4,652.6 L346.0,653.2 L346.7,653.5 L347.4,652.8 L348.0,651.8 L348.7,652.0 L349.3,653.3 L350.0,652.2 L350.7,650.3 L351.3,652.8 L352.0,652.2 L352.6,652.7 L353.3,651.5 L354.0,652.8 L354.6,651.0 L355.3,652.7 L355.9,651.6 L356.6,652.6 L357.3,652.7 L357.9,650.7 L358.6,651.2 L359.2,651.0 L359.9,652.0 L360.6,651.4 L361.2,649.3 L361.9,650.9 L362.5,651.0 L363.2,652.1 L363.9,647.7 L364.5,648.5 L365.2,650.1 L365.8,646.9 L366.5,646.7 L367.2,648.1 L367.8,648.0 L368.5,645.4 L369.1,645.6 L369.8,643.8 L370.5,643.9 L371.1,640.9 L371.8,640.5 L372.4,637.0 L373.1,636.3 L373.8,635.0 L374.4,634.8 L375.1,632.7 L375.7,629.8 L376.4,629.6 L377.1,627.7 L377.7,624.6 L378.4,621.9 L379.0,619.1 L379.7,614.3 L380.4,612.2 L381.0,606.9 L381.7,599.3 L382.3,594.0 L383.0,584.5 L383.7,578.1 L384.3,571.2 L385.0,567.1 L385.6,556.4 L386.3,551.7 L387.0,545.1 L387.6,537.6 L388.3,531.6 L388.9,522.5 L389.6,514.4 L390.3,510.8 L390.9,502.0 L391.6,496.3 L392.2,488.8 L392.9,484.5 L393.6,477.7 L394.2,469.3 L394.9,463.9 L395.5,455.8 L396.2,448.7 L396.9,442.9 L397.5,437.9 L398.2,434.0 L398.8,429.2 L399.5,424.7 L400.2,423.9 L400.8,422.0 L401.5,425.1 L402.1,429.4 L402.8,436.2 L403.5,441.1 L404.1,451.2 L404.8,457.7 L405.4,465.7 L406.1,473.3 L406.8,484.0 L407.4,494.6 L408.1,505.6 L408.7,518.3 L409.4,531.4 L410.1,543.0 L410.7,555.6 L411.4,566.9 L412.0,577.7 L412.7,588.1 L413.4,597.3 L414.0,606.5 L414.7,614.1 L415.3,620.4 L416.0,623.7 L416.7,626.5 L417.3,630.4 L418.0,632.8 L418.6,634.7 L419.3,636.7 L420.0,638.3 L420.6,641.2 L421.3,640.5 L421.9,642.9 L422.6,644.3 L423.3,643.3 L423.9,645.7 L424.6,645.3 L425.2,644.5 L425.9,645.4 L426.6,645.4 L427.2,645.4 L427.9,645.9 L428.5,646.8 L429.2,647.6 L429.9,646.8 L430.5,648.3 L431.2,647.1 L431.8,649.3 L432.5,650.0 L433.2,649.7 L433.8,650.2 L434.5,650.9 L435.1,650.2 L435.8,651.3 L436.5,652.8 L437.1,654.1 L437.8,654.2 L438.4,657.2 L439.1,654.9 L439.8,656.5 L440.4,657.1 L441.1,655.9 L441.7,655.5 L442.4,655.4 L443.1,657.2 L443.7,658.6 L444.4,658.1 L445.0,658.4 L445.7,658.2 L446.4,659.4 L447.0,656.7 L447.7,659.4 L448.3,659.3 L449.0,657.9 L449.7,661.6 L450.3,657.7 L451.0,657.9 L451.6,657.6 L452.3,660.0 L453.0,657.8 L453.6,659.4 L454.3,659.2 L454.9,658.7 L455.6,657.0 L456.3,657.5 L456.9,659.8 L457.6,656.7 L458.2,657.2 L458.9,657.9 L459.6,659.0 L460.2,658.5 L460.9,659.0 L461.5,657.0 L462.2,658.9 L462.9,658.1 L463.5,655.3 L464.2,657.9 L464.8,657.9 L465.5,653.8 L466.2,653.8 L466.8,654.4 L467.5,650.5 L468.1,649.2 L468.8,649.1 L469.5,649.1 L470.1,648.5 L470.8,649.2 L471.4,648.4 L472.1,646.7 L472.8,648.6 L473.4,650.3 L474.1,650.0 L474.7,650.3 L475.4,649.9 L476.1,651.6 L476.7,650.4 L477.4,653.1 L478.0,653.2 L478.7,655.5 L479.4,655.8 L480.0,655.2 L480.7,657.3 L481.3,659.1 L482.0,657.2 L482.7,658.2 L483.3,658.2 L484.0,657.5 L484.6,660.0 L485.3,660.3 L486.0,659.8 L486.6,659.3 L487.3,659.1 L487.9,659.5 L488.6,658.7 L489.3,660.7 L489.9,661.0 L490.6,661.0 L491.2,659.3 L491.9,659.7 L492.6,659.2 L493.2,661.0 L493.9,659.1 L494.5,656.8 L495.2,659.0 L495.9,660.4 L496.5,659.1 L497.2,659.3 L497.8,658.5 L498.5,656.6 L499.2,657.2 L499.8,658.2 L500.5,659.9 L501.1,660.7 L501.8,661.3 L502.5,660.2 L503.1,661.4 L503.8,659.9 L504.4,659.2 L505.1,660.4 L505.8,658.3 L506.4,656.2 L507.1,657.7 L507.7,658.6 L508.4,654.8 L509.1,657.1 L509.7,656.5 L510.4,654.8 L511.0,654.2 L511.7,654.8 L512.4,654.4 L513.0,656.0 L513.7,654.9 L514.3,652.7 L515.0,653.4 L515.7,655.1 L516.3,656.5 L517.0,655.0 L517.6,655.0 L518.3,656.8 L519.0,654.9 L519.6,654.7 L520.3,653.8 L520.9,655.1 L521.6,658.3 L522.3,655.0 L522.9,656.9 L523.6,655.8 L524.2,657.9 L524.9,659.3 L525.6,658.7 L526.2,660.3 L526.9,660.8 L527.5,661.0 L528.2,662.8 L528.9,662.3 L529.5,661.5 L530.2,661.4 L530.8,661.4 L531.5,662.8 L532.2,661.9 L532.8,665.0 L533.5,664.0 L534.1,661.8 L534.8,661.6 L535.5,663.7 L536.1,659.8 L536.8,661.1 L537.4,662.4 L538.1,660.2 L538.8,660.6 L539.4,660.6 L540.1,661.5 L540.7,660.8 L541.4,660.8 L542.1,660.6 L542.7,659.6 L543.4,660.5 L544.0,658.3 L544.7,657.5 L545.4,657.1 L546.0,657.3 L546.7,658.3 L547.3,659.8 L548.0,658.7 L548.7,657.7 L549.3,656.9 L550.0,656.9 L550.6,656.3 L551.3,655.1 L552.0,653.0 L552.6,652.8 L553.3,653.3 L553.9,649.1 L554.6,650.6 L555.3,648.6 L555.9,651.2 L556.6,651.0 L557.2,650.6 L557.9,654.0 L558.6,656.7 L559.2,655.7 L559.9,657.0 L560.5,655.7 L561.2,653.5 L561.9,656.3 L562.5,655.5 L563.2,654.4 L563.8,656.8 L564.5,656.2 L565.2,655.2 L565.8,656.4 L566.5,654.2 L567.1,655.3 L567.8,653.2 L568.5,654.3 L569.1,652.3 L569.8,654.8 L570.4,653.3 L571.1,654.5 L571.8,651.9 L572.4,651.9 L573.1,652.8 L573.7,648.6 L574.4,649.9 L575.1,651.6 L575.7,650.5 L576.4,650.6 L577.0,648.8 L577.7,649.2 L578.4,647.2 L579.0,645.9 L579.7,644.7 L580.3,645.0 L581.0,644.0 L581.7,642.9 L582.3,638.8 L583.0,639.5 L583.6,639.9 L584.3,639.6 L585.0,637.3 L585.6,635.4 L586.3,632.1 L586.9,634.7 L587.6,629.4 L588.3,630.2 L588.9,627.9 L589.6,624.1 L590.2,620.7 L590.9,618.8 L591.6,614.7 L592.2,613.2 L592.9,609.4 L593.5,605.6 L594.2,601.2 L594.9,596.8 L595.5,589.1 L596.2,585.0 L596.8,577.4 L597.5,571.9 L598.2,567.0 L598.8,561.5 L599.5,558.4 L600.1,553.1 L600.8,548.1 L601.5,541.2 L602.1,535.7 L602.8,528.6 L603.4,521.2 L604.1,515.1 L604.8,506.8 L605.4,497.3 L606.1,491.5 L606.7,482.6 L607.4,477.8 L608.1,471.3 L608.7,468.7 L609.4,469.5 L610.0,475.7 L610.7,481.8 L611.4,490.9 L612.0,499.4 L612.7,508.3 L613.3,519.8 L614.0,529.4 L614.7,544.2 L615.3,560.2 L616.0,574.4 L616.6,586.5 L617.3,596.2 L618.0,605.2 L618.6,611.5 L619.3,620.4 L619.9,626.9 L620.6,631.4 L621.3,635.3 L621.9,638.6 L622.6,639.9 L623.2,642.1 L623.9,646.0 L624.6,647.5 L625.2,651.0 L625.9,650.0 L626.5,650.6 L627.2,654.6 L627.9,655.6 L628.5,654.6 L629.2,654.4 L629.8,656.5 L630.5,655.2 L631.2,657.3 L631.8,656.1 L632.5,658.6 L633.1,657.0 L633.8,659.3 L634.5,661.5 L635.1,659.9 L635.8,661.4 L636.4,660.3 L637.1,660.5 L637.8,660.3 L638.4,663.4 L639.1,662.6 L639.7,664.6 L640.4,661.8 L641.1,662.8 L641.7,663.1 L642.4,664.4 L643.0,664.7 L643.7,661.9 L644.4,661.2 L645.0,660.4 L645.7,663.5 L646.3,661.8 L647.0,661.1 L647.7,661.7 L648.3,659.0 L649.0,660.0 L649.6,662.8 L650.3,662.3 L651.0,661.9 L651.6,660.3 L652.3,661.2 L652.9,661.4 L653.6,657.1 L654.3,657.2 L654.9,655.6 L655.6,655.5 L656.2,654.5 L656.9,654.0 L657.6,653.0 L658.2,654.0 L658.9,653.5 L659.5,654.4 L660.2,654.9 L660.9,656.3 L661.5,655.6 L662.2,656.7 L662.8,659.1 L663.5,658.7 L664.2,659.8 L664.8,662.0 L665.5,662.5 L666.1,663.3 L666.8,664.4 L667.5,663.8 L668.1,666.4 L668.8,668.0 L669.4,667.7 L670.1,665.8 L670.8,667.9 L671.4,666.8 L672.1,667.7 L672.7,668.3 L673.4,667.3 L674.1,670.3 L674.7,669.2 L675.4,670.4 L676.0,670.5 L676.7,671.4 L677.4,671.4 L678.0,668.6 L678.7,670.0 L679.3,667.4 L680.0,668.8 L680.7,669.5 L681.3,669.4 L682.0,669.6 L682.6,667.8 L683.3,668.6 L684.0,668.5 L684.6,669.9 L685.3,670.4 L685.9,668.4 L686.6,672.6 L687.3,668.5 L687.9,667.9 L688.6,668.6 L689.2,668.6 L689.9,668.2 L690.6,666.8 L691.2,669.0 L691.9,667.5 L692.5,669.1 L693.2,669.0 L693.9,666.2 L694.5,666.5 L695.2,666.4 L695.8,667.7 L696.5,667.5 L697.2,667.8 L697.8,666.7 L698.5,668.0 L699.1,669.1 L699.8,666.3 L700.5,667.6 L701.1,668.0 L701.8,667.6 L702.4,667.4 L703.1,669.4 L703.8,668.9 L704.4,668.5 L705.1,666.9 L705.7,670.0 L706.4,668.0 L707.1,666.9 L707.7,667.0 L708.4,666.7 L709.0,669.4 L709.7,667.6 L710.4,667.7 L711.0,665.7 L711.7,669.0 L712.3,667.3 L713.0,667.3 L713.7,669.2 L714.3,667.7 L715.0,669.6 L715.6,670.1 L716.3,667.1 L717.0,669.0 L717.6,667.5 L718.3,669.2 L718.9,670.4 L719.6,668.4 L720.3,672.0 L720.9,670.1 L721.6,669.4 L722.2,670.6 L722.9,671.5 L723.6,669.1 L724.2,670.4 L724.9,669.0 L725.5,671.7 L726.2,670.6 L726.9,670.1 L727.5,671.6 L728.2,669.3 L728.8,670.3 L729.5,672.7 L730.2,670.7 L730.8,672.3 L731.5,671.2 L732.1,670.4 L732.8,671.0 L733.5,671.5 L734.1,671.2 L734.8,671.0 L735.4,671.3 L736.1,670.7 L736.8,672.5 L737.4,672.9 L738.1,673.4 L738.7,670.8 L739.4,673.6 L740.1,672.7 L740.7,671.2 L741.4,672.7 L742.0,673.3 L742.7,672.8 L743.4,672.8 L744.0,672.8 L744.7,672.7 L745.3,671.8 L746.0,669.7 L746.7,671.3 L747.3,672.7 L748.0,672.0 L748.6,673.4 L749.3,673.5 L750.0,672.7 L750.6,674.4 L751.3,671.1 L751.9,672.7 L752.6,671.0 L753.3,670.6 L753.9,672.2 L754.6,671.3 L755.2,673.2 L755.9,671.4 L756.6,672.8 L757.2,671.9 L757.9,672.4 L758.5,672.0 L759.2,671.0 L759.9,672.8 L760.5,670.7 L761.2,670.9 L761.8,672.8 L762.5,672.8 L763.2,672.5 L763.8,672.2 L764.5,674.4 L765.1,670.9 L765.8,671.5 L766.5,671.4 L767.1,673.4 L767.8,672.6 L768.4,673.3 L769.1,672.9 L769.8,671.4 L770.4,670.5 L771.1,670.1 L771.7,673.4 L772.4,672.1 L773.1,671.6 L773.7,670.6 L774.4,670.7 L775.0,670.5 L775.7,670.5 L776.4,668.2 L777.0,670.6 L777.7,670.1 L778.3,670.7 L779.0,670.5 L779.7,671.2 L780.3,670.2 L781.0,671.1 L781.6,667.6 L782.3,669.1 L783.0,672.0 L783.6,668.9 L784.3,669.8 L784.9,670.7 L785.6,669.1 L786.3,670.9 L786.9,668.8 L787.6,668.4 L788.2,669.2 L788.9,669.0 L789.6,670.8 L790.2,670.5 L790.9,671.2 L791.5,669.9 L792.2,673.7 L792.9,671.1 L793.5,671.1 L794.2,671.5 L794.8,670.5 L795.5,669.8 L796.2,670.4 L796.8,671.2 L797.5,670.9 L798.1,671.3 L798.8,669.9 L799.5,669.8 L800.1,672.8 L800.8,670.5 L801.4,671.3 L802.1,671.7 L802.8,672.6 L803.4,669.9 L804.1,671.0 L804.7,671.3 L805.4,671.7 L806.1,669.7 L806.7,672.3 L807.4,669.4 L808.0,672.7 L808.7,672.8 L809.4,672.7 L810.0,670.6 L810.7,672.7 L811.3,670.7 L812.0,670.4 L812.7,670.8 L813.3,671.1 L814.0,672.4 L814.6,673.3 L815.3,670.3 L816.0,672.1 L816.6,673.7 L817.3,673.0 L817.9,673.5 L818.6,671.6 L819.3,674.4 L819.9,671.9 L820.6,673.8 L821.2,675.1 L821.9,675.5 L822.6,673.9 L823.2,674.1 L823.9,672.3 L824.5,672.4 L825.2,674.2 L825.9,673.1 L826.5,673.3 L827.2,672.4 L827.8,674.5 L828.5,675.4 L829.2,674.2 L829.8,674.6 L830.5,676.9 L831.1,675.3 L831.8,674.7 L832.5,673.6 L833.1,673.9 L833.8,674.1 L834.4,675.7 L835.1,673.6 L835.8,676.0 L836.4,673.2 L837.1,673.8 L837.7,675.2 L838.4,674.1 L839.1,673.5 L839.7,674.2 L840.4,674.7 L841.0,672.2 L841.7,673.6 L842.4,673.5 L843.0,673.0 L843.7,674.1 L844.3,672.5 L845.0,672.5 L845.7,672.8 L846.3,673.3 L847.0,672.2 L847.6,673.9 L848.3,671.4 L849.0,673.8 L849.6,671.6 L850.3,672.3 L850.9,672.8 L851.6,674.5 L852.3,673.1 L852.9,671.6 L853.6,673.2 L854.2,671.5 L854.9,670.7 L855.6,671.9 L856.2,671.3 L856.9,672.1 L857.5,670.6 L858.2,671.7 L858.9,672.1 L859.5,672.1 L860.2,672.1 L860.8,671.7 L861.5,673.6 L862.2,672.9 L862.8,673.2 L863.5,672.3 L864.1,672.7 L864.8,671.6 L865.5,673.1 L866.1,674.1 L866.8,673.9 L867.4,675.1 L868.1,674.9 L868.8,676.2 L869.4,674.8 L870.1,673.4 L870.7,675.8 L871.4,675.4 L872.1,674.8 L872.7,676.8 L873.4,676.4 L874.0,676.6 L874.7,675.6 L875.4,676.0 L876.0,676.0 L876.7,677.6 L877.3,675.1 L878.0,676.0 L878.7,676.6 L879.3,674.7 L880.0,675.0 L880.6,679.0 L881.3,674.8 L882.0,677.2 L882.6,675.7 L883.3,675.8 L883.9,674.5 L884.6,675.6 L885.3,677.4 L885.9,675.0 L886.6,677.0 L887.2,676.6 L887.9,678.4 L888.6,675.7 L889.2,677.6 L889.9,677.3 L890.5,676.0 L891.2,674.4 L891.9,677.7 L892.5,674.5 L893.2,675.4 L893.8,676.8 L894.5,677.0 L895.2,675.0 L895.8,675.9 L896.5,675.7 L897.1,677.2 L897.8,678.6 L898.5,673.9 L899.1,676.7 L899.8,672.6 L900.4,675.5 L901.1,674.2 L901.8,677.4 L902.4,675.5 L903.1,674.6 L903.7,675.0 L904.4,675.0 L905.1,675.7 L905.7,675.2 L906.4,675.8 L907.0,676.5 L907.7,675.5 L908.4,673.3 L909.0,672.9 L909.7,673.7 L910.3,675.6 L911.0,674.2 L911.7,673.8 L912.3,674.6 L913.0,672.9 L913.6,673.0 L914.3,674.5 L915.0,673.4 L915.6,673.0 L916.3,673.7 L916.9,672.7 L917.6,672.7 L918.3,673.1 L918.9,674.3 L919.6,673.8 L920.2,672.5 L920.9,673.3 L921.6,674.0 L922.2,675.0 L922.9,671.7 L923.5,673.1 L924.2,672.5 L924.9,673.8 L925.5,673.6 L926.2,674.8 L926.8,673.8 L927.5,672.6 L928.2,672.4 L928.8,673.1 L929.5,673.0 L930.1,675.0 L930.8,674.2 L931.5,671.3 L932.1,673.0 L932.8,671.3 L933.4,671.0 L934.1,673.6 L934.8,673.4 L935.4,671.7 L936.1,674.5 L936.7,671.7 L937.4,671.5 L938.1,673.5 L938.7,673.1 L939.4,672.8 L940.0,672.9 L940.7,673.2 L941.4,672.7 L942.0,672.5 L942.7,670.5 L943.3,671.0 L944.0,673.0 L944.7,671.6 L945.3,673.1 L946.0,673.9 L946.6,672.4 L947.3,673.3 L948.0,675.4 L948.6,674.3 L949.3,675.8 L949.9,675.6 L950.6,674.8 L951.3,673.9 L951.9,672.9 L952.6,672.5 L953.2,674.0 L953.9,673.8 L954.6,673.0 L955.2,674.0 L955.9,672.5 L956.5,674.3 L957.2,673.1 L957.9,672.9 L958.5,672.9 L959.2,672.8 L959.8,675.7 L960.5,671.6 L961.2,673.8 L961.8,675.2 L962.5,674.8 L963.1,673.8 L963.8,675.8 L964.5,672.8 L965.1,672.5 L965.8,674.5 L966.4,672.4 L967.1,671.6 L967.8,675.2 L968.4,675.3 L969.1,675.5 L969.7,674.5 L970.4,675.5 L971.1,674.5 L971.7,677.5 L972.4,676.5 L973.0,676.4 L973.7,673.5 L974.4,676.4 L975.0,677.1 L975.7,677.0 L976.3,676.8 L977.0,676.2 L977.7,675.9 L978.3,676.9 L979.0,676.5 L979.6,676.1 L980.3,675.3 L981.0,677.2 L981.6,674.3 L982.3,675.7 L982.9,675.5 L983.6,677.7 L984.3,678.7 L984.9,678.9 L985.6,678.6 L986.2,676.4 L986.9,680.0 L987.6,678.3 L988.2,677.6 L988.9,677.8 L989.5,677.5 L990.2,678.3 L990.9,678.3 L991.5,677.7 L992.2,675.5 L992.8,678.2 L993.5,678.8 L994.2,678.9 L994.8,678.2 L995.5,678.7 L996.1,679.1 L996.8,677.4 L997.5,679.3 L998.1,675.6 L998.8,676.2 L999.4,676.5 L1000.1,674.8 L1000.8,676.2 L1001.4,678.4 L1002.1,678.3 L1002.7,676.9 L1003.4,678.5 L1004.1,676.8 L1004.7,675.8 L1005.4,676.3 L1006.0,675.7 L1006.7,676.5 L1007.4,674.1 L1008.0,676.6 L1008.7,675.2 L1009.3,676.6 L1010.0,674.0 L1010.7,675.0 L1011.3,675.2 L1012.0,675.8 L1012.6,673.2 L1013.3,676.0 L1014.0,674.7 L1014.6,673.8 L1015.3,675.9 L1015.9,674.9 L1016.6,676.2 L1017.3,677.5 L1017.9,675.8 L1018.6,674.3 L1019.2,674.2 L1019.9,675.1 L1020.6,674.6 L1021.2,673.4 L1021.9,673.5 L1022.5,674.9 L1023.2,676.6 L1023.9,671.4 L1024.5,675.0 L1025.2,674.1 L1025.8,675.0 L1026.5,674.9 L1027.2,673.7 L1027.8,672.2 L1028.5,671.4 L1029.1,670.7 L1029.8,673.9 L1030.5,672.6 L1031.1,672.6 L1031.8,673.3 L1032.4,672.5 L1033.1,674.3 L1033.8,675.4 L1034.4,675.1 L1035.1,672.1 L1035.7,675.2 L1036.4,672.9 L1037.1,671.7 L1037.7,672.5 L1038.4,672.8 L1039.0,673.7 L1039.7,672.5 L1040.4,671.9 L1041.0,673.1 L1041.7,675.4 L1042.3,672.6 L1043.0,673.8 L1043.7,673.4 L1044.3,676.2 L1045.0,671.5 L1045.6,674.8 L1046.3,672.5 L1047.0,673.3 L1047.6,673.9 L1048.3,677.2 L1048.9,672.9 L1049.6,671.5 L1050.3,674.8 L1050.9,672.6 L1051.6,673.3 L1052.2,673.7 L1052.9,673.8 L1053.6,673.5 L1054.2,673.9 L1054.9,674.1 L1055.5,674.7 L1056.2,673.8 L1056.9,673.9 L1057.5,674.1 L1058.2,676.2 L1058.8,675.6 L1059.5,676.1 L1060.2,675.8 L1060.8,676.8 L1061.5,675.2 L1062.1,675.8 L1062.8,673.8 L1063.5,674.0 L1064.1,674.9 L1064.8,673.9 L1065.4,675.9 L1066.1,673.8 L1066.8,675.3 L1067.4,672.9 L1068.1,674.6 L1068.7,675.8 L1069.4,676.2 L1070.1,674.8 L1070.7,677.0 L1071.4,678.0 L1072.0,677.6 L1072.7,676.2 L1073.4,676.2 L1074.0,675.6 L1074.7,677.6 L1075.3,678.5 L1076.0,676.6 L1076.7,675.4 L1077.3,677.4 L1078.0,677.7 L1078.6,673.8 L1079.3,676.5 L1080.0,678.3 L1080.6,676.8 L1081.3,676.6 L1081.9,676.6 L1082.6,677.7 L1083.3,676.0 L1083.9,676.5 L1084.6,678.2 L1085.2,677.3 L1085.9,678.5 L1086.6,676.3 L1087.2,679.2 L1087.9,679.4 L1088.5,678.7 L1089.2,678.8 L1089.9,680.3 L1090.5,677.4 L1091.2,677.6 L1091.8,677.5 L1092.5,678.4 L1093.2,677.9 L1093.8,679.2 L1094.5,678.5 L1095.1,677.6 L1095.8,677.2 L1096.5,679.9 L1097.1,678.4 L1097.8,678.3 L1098.4,678.8 L1099.1,679.0 L1099.8,680.3 L1100.4,680.4 L1101.1,679.3 L1101.7,679.1 L1102.4,678.6 L1103.1,678.1 L1103.7,680.6 L1104.4,678.0 L1105.0,676.9 L1105.7,678.4 L1106.4,678.6 L1107.0,680.0 L1107.7,678.7 L1108.3,680.3 L1109.0,680.1 L1109.7,681.0 L1110.3,682.0 L1111.0,682.7 L1111.6,681.1 L1112.3,678.5 L1113.0,679.3 L1113.6,680.1 L1114.3,682.2 L1114.9,680.8 L1115.6,681.4 L1116.3,680.0 L1116.9,680.8 L1117.6,680.8 L1118.2,679.3 L1118.9,680.4 L1119.6,680.5 L1120.2,679.0 L1120.9,680.1 L1121.5,680.6 L1122.2,678.8 L1122.9,678.7 L1123.5,678.3 L1124.2,677.9 L1124.8,678.7 L1125.5,678.1 L1126.2,678.1 L1126.8,677.6 L1127.5,676.8 L1128.1,677.5 L1128.8,679.1 L1129.5,677.7 L1130.1,678.6 L1130.8,681.3 L1131.4,680.9 L1132.1,679.0 L1132.8,680.2 L1133.4,678.7 L1134.1,680.9 L1134.7,678.5 L1135.4,679.3 L1136.1,680.7 L1136.7,678.5 L1137.4,680.8 L1138.0,678.6 L1138.7,679.8 L1139.4,679.2 L1140.0,679.4 L1140.7,679.5 L1141.3,679.1 L1142.0,678.0 L1142.7,680.0 L1143.3,679.9 L1144.0,680.7 L1144.6,681.0 L1145.3,678.3 L1146.0,681.1 L1146.6,681.0 L1147.3,679.0 L1147.9,680.6 L1148.6,680.9 L1149.3,678.8 L1149.9,678.0 L1150.6,679.1 L1151.2,682.5 L1151.9,679.8 L1152.6,678.3 L1153.2,679.3 L1153.9,678.4 L1154.5,678.9 L1155.2,679.3 L1155.9,676.3 L1156.5,679.3 L1157.2,680.3 L1157.8,678.6 L1158.5,678.4 L1159.2,680.1 L1159.8,677.8 L1160.5,678.1 L1161.1,678.1 L1161.8,679.4 L1162.5,680.0 L1163.1,679.4 L1163.8,679.9 L1164.4,680.1 L1165.1,679.7 L1165.8,678.2 L1166.4,678.7 L1167.1,680.1 L1167.7,677.7 L1168.4,678.5 L1169.1,678.5 L1169.7,678.9 L1170.4,678.1 L1171.0,677.9 L1171.7,682.0 L1172.4,680.2 L1173.0,678.3 L1173.7,678.8 L1174.3,679.4 L1175.0,678.3 L1175.7,679.2 L1176.3,677.9 L1177.0,678.1 L1177.6,678.5 L1178.3,678.2 L1179.0,676.1 L1179.6,678.7 L1180.3,678.9 L1180.9,679.0 L1181.6,677.5 L1182.3,678.8 L1182.9,678.7 L1183.6,676.6 L1184.2,676.1 L1184.9,678.8 L1185.6,677.2 L1186.2,679.1 L1186.9,680.3 L1187.5,677.4 L1188.2,677.2 L1188.9,677.9 L1189.5,678.4 L1190.2,676.4 L1190.8,678.9 L1191.5,678.6 L1192.2,678.4 L1192.8,677.4 L1193.5,679.1 L1194.1,679.3 L1194.8,677.2 L1195.5,680.8 L1196.1,678.3 L1196.8,679.1 L1197.4,678.2 L1198.1,679.2 L1198.8,680.0 L1199.4,677.8 L1200.1,676.8 L1200.7,678.0 L1201.4,677.0 L1202.1,677.5 L1202.7,678.2 L1203.4,678.2 L1204.0,679.7 L1204.7,677.3 L1205.4,678.9 L1206.0,678.0 L1206.7,680.1 L1207.3,681.4 L1208.0,679.1 L1208.7,680.4 L1209.3,677.9 L1210.0,676.5 L1210.6,676.5 L1211.3,675.8 L1212.0,676.1 L1212.6,676.7 L1213.3,678.1 L1213.9,677.6 L1214.6,677.5 L1215.3,676.7 L1215.9,676.4 L1216.6,677.2 L1217.2,677.2 L1217.9,677.4 L1218.6,677.7 L1219.2,677.5 L1219.9,675.8 L1220.5,676.8 L1221.2,677.1 L1221.9,679.4 L1222.5,676.8 L1223.2,677.6 L1223.8,678.1 L1224.5,676.8 L1225.2,676.0 L1225.8,676.2 L1226.5,675.5 L1227.1,677.0 L1227.8,677.8 L1228.5,677.1 L1229.1,677.0 L1229.8,676.6 L1230.4,677.5 L1231.1,674.3 L1231.8,674.8 L1232.4,675.0 L1233.1,675.2 L1233.7,670.9 L1234.4,672.5 L1235.1,672.4 L1235.7,671.2 L1236.4,672.8 L1237.0,671.9 L1237.7,670.9 L1238.4,669.2 L1239.0,669.0 L1239.7,668.7 L1240.3,669.5 L1241.0,666.9 L1241.7,665.3 L1242.3,665.3 L1243.0,665.6 L1243.6,667.4 L1244.3,667.6 L1245.0,663.6 L1245.6,664.1 L1246.3,663.3 L1246.9,661.8 L1247.6,658.8 L1248.3,656.0 L1248.9,655.4 L1249.6,652.5 L1250.2,653.3 L1250.9,652.5 L1251.6,648.2 L1252.2,648.6 L1252.9,647.5 L1253.5,646.9 L1254.2,645.5 L1254.9,643.4 L1255.5,640.4 L1256.2,639.3 L1256.8,639.6 L1257.5,636.4 L1258.2,635.7 L1258.8,636.1 L1259.5,633.3 L1260.1,630.4 L1260.8,630.2 L1261.5,629.7 L1262.1,627.3 L1262.8,627.2 L1263.4,625.8 L1264.1,622.4 L1264.8,621.1 L1265.4,620.1 L1266.1,617.3 L1266.7,616.9 L1267.4,613.9 L1268.1,611.9 L1268.7,605.0 L1269.4,596.4 L1270.0,589.4 L1270.7,576.4 L1271.4,567.6 L1272.0,560.6 L1272.7,555.6 L1273.3,549.5 L1274.0,545.0 L1274.7,539.0 L1275.3,534.3 L1276.0,530.5 L1276.6,526.8 L1277.3,523.2 L1278.0,519.5 L1278.6,519.2 L1279.3,518.2 L1279.9,518.8 L1280.6,518.6 L1281.3,523.5 L1281.9,525.7 L1282.6,531.4 L1283.2,534.6 L1283.9,537.6 L1284.6,542.5 L1285.2,550.6 L1285.9,554.3 L1286.5,561.8 L1287.2,566.6 L1287.9,574.9 L1288.5,578.2 L1289.2,585.6 L1289.8,592.3 L1290.5,597.8 L1291.2,605.8 L1291.8,615.6 L1292.5,621.7 L1293.1,628.0 L1293.8,636.5 L1294.5,643.1 L1295.1,644.1 L1295.8,648.6 L1296.4,649.7 L1297.1,653.8 L1297.8,654.3 L1298.4,658.0 L1299.1,658.9 L1299.7,659.8 L1300.4,661.7 L1301.1,662.4 L1301.7,663.1 L1302.4,664.4 L1303.0,666.4 L1303.7,666.0 L1304.4,668.1 L1305.0,668.6 L1305.7,668.8 L1306.3,668.1 L1307.0,668.9 L1307.7,669.1 L1308.3,670.9 L1309.0,669.0 L1309.6,669.9 L1310.3,670.5 L1311.0,671.0 L1311.6,670.7 L1312.3,670.9 L1312.9,672.7 L1313.6,670.8 L1314.3,672.4 L1314.9,673.6 L1315.6,673.0 L1316.2,670.1 L1316.9,673.3 L1317.6,673.4 L1318.2,674.0 L1318.9,672.0 L1319.5,674.7 L1320.2,672.9 L1320.9,675.3 L1321.5,674.9 L1322.2,676.3 L1322.8,673.1 L1323.5,671.9 L1324.2,674.7 L1324.8,674.8 L1325.5,673.7 L1326.1,675.9 L1326.8,675.4 L1327.5,673.5 L1328.1,674.5 L1328.8,674.3 L1329.4,674.5 L1330.1,674.7 L1330.8,673.6 L1331.4,674.2 L1332.1,675.1 L1332.7,674.5 L1333.4,674.4 L1334.1,674.4 L1334.7,674.6 L1335.4,672.8 L1336.0,675.1 L1336.7,674.1 L1337.4,675.5 L1338.0,674.0 L1338.7,676.7 L1339.3,675.9 L1340.0,674.1 L1340.7,675.6 L1341.3,674.5 L1342.0,677.3 L1342.6,676.2 L1343.3,675.2 L1344.0,676.6 L1344.6,676.5 L1345.3,678.0 L1345.9,677.3 L1346.6,677.6 L1347.3,676.1 L1347.9,678.4 L1348.6,680.0 L1349.2,678.8 L1349.9,678.2 L1350.6,678.4 L1351.2,677.2 L1351.9,678.4 L1352.5,677.1 L1353.2,678.3 L1353.9,677.9 L1354.5,677.5 L1355.2,678.9 L1355.8,676.6 L1356.5,678.0 L1357.2,676.5 L1357.8,679.8 L1358.5,679.9 L1359.1,678.8 L1359.8,680.0 L1360.5,678.7 L1361.1,678.7 L1361.8,677.7 L1362.4,677.1 L1363.1,678.0 L1363.8,677.1 L1364.4,677.1 L1365.1,678.3 L1365.7,677.4 L1366.4,676.0 L1367.1,677.6 L1367.7,677.2 L1368.4,677.9 L1369.0,677.2 L1369.7,679.7 L1370.4,680.4 L1371.0,677.2 L1371.7,678.9 L1372.3,678.7 L1373.0,676.8 L1373.7,677.9 L1374.3,679.2 L1375.0,678.5 L1375.6,679.4 L1376.3,676.5 L1377.0,676.9 L1377.6,678.0 L1378.3,677.9 L1378.9,677.4 L1379.6,676.9 L1380.3,676.9 L1380.9,676.7 L1381.6,677.9 L1382.2,674.6 L1382.9,679.3 L1383.6,677.1 L1384.2,676.2 L1384.9,678.3 L1385.5,676.3 L1386.2,678.3 L1386.9,677.7 L1387.5,679.0 L1388.2,679.3 L1388.8,679.9 L1389.5,678.0 L1390.2,678.1 L1390.8,678.3 L1391.5,676.7 L1392.1,678.7 L1392.8,678.3 L1393.5,676.8 L1394.1,679.7 L1394.8,680.0 L1395.4,677.2 L1396.1,679.2 L1396.8,679.8 L1397.4,679.3 L1398.1,677.3 L1398.7,676.8 L1399.4,678.2 L1400.1,677.8 L1400.7,678.4 L1401.4,678.2 L1402.0,678.7 L1402.7,677.4 L1403.4,677.6 L1404.0,680.8 L1404.7,677.7 L1405.3,678.7 L1406.0,678.5 L1406.7,678.8 L1407.3,677.9 L1408.0,679.6 L1408.6,679.2 L1409.3,680.2 L1410.0,681.5 L1410.6,679.5 L1411.3,680.0 L1411.9,678.0 L1412.6,679.1 L1413.3,680.6 L1413.9,678.8 L1414.6,678.2 L1415.2,678.9 L1415.9,678.3 L1416.6,678.1 L1417.2,677.8 L1417.9,680.3 L1418.5,677.3 L1419.2,677.8 L1419.9,677.8 L1420.5,680.0 L1421.2,678.7 L1421.8,680.6 L1422.5,679.6 L1423.2,679.5 L1423.8,678.0 L1424.5,680.7 L1425.1,679.9 L1425.8,679.8 L1426.5,679.3 L1427.1,679.1 L1427.8,678.4 L1428.4,680.8 L1429.1,680.1 L1429.8,679.2 L1430.4,678.7 L1431.1,679.4 L1431.7,679.1 L1432.4,680.9 L1433.1,680.0 L1433.7,678.5 L1434.4,677.9 L1435.0,678.7 L1435.7,678.0 L1436.4,679.0 L1437.0,679.4 L1437.7,679.8 L1438.3,679.8 L1439.0,679.4 L1439.7,680.5 L1440.3,679.1 L1441.0,680.0 L1441.6,680.9 L1442.3,680.2 L1443.0,678.4 L1443.6,678.5 L1444.3,677.9 L1444.9,681.6 L1445.6,678.1 L1446.3,679.6 L1446.9,681.5 L1447.6,680.5 L1448.2,680.4 L1448.9,678.3 L1449.6,679.5 L1450.2,681.9 L1450.9,678.8 L1451.5,679.5 L1452.2,679.0 L1452.9,679.6 L1453.5,680.3 L1454.2,681.6 L1454.8,679.3 L1455.5,678.8 L1456.2,680.4 L1456.8,680.6 L1457.5,681.9 L1458.1,681.2 L1458.8,679.8 L1459.5,681.3 L1460.1,682.1 L1460.8,681.5 L1461.4,680.9 L1462.1,681.9 L1462.8,680.6 L1463.4,678.7 L1464.1,681.7 L1464.7,678.6 L1465.4,679.4 L1466.1,679.2 L1466.7,679.1 L1467.4,679.1 L1468.0,677.9 L1468.7,679.9 L1469.4,679.4 L1470.0,679.5 L1470.7,680.7 L1471.3,681.0 L1472.0,681.7 L1472.7,682.6 L1473.3,681.5 L1474.0,679.7 L1474.6,681.6 L1475.3,681.4 L1476.0,681.4 L1476.6,680.5 L1477.3,680.1 L1477.9,681.7 L1478.6,681.7 L1479.3,679.3 L1479.9,681.0 L1480.6,680.2 L1481.2,680.1 L1481.9,681.4 L1482.6,680.8 L1483.2,680.4 L1483.9,681.2 L1484.5,679.1 L1485.2,680.6 L1485.9,680.8 L1486.5,679.8 L1487.2,681.3 L1487.8,681.3 L1488.5,680.1 L1489.2,680.3 L1489.8,680.9 L1490.5,681.0 L1491.1,679.0 L1491.8,680.0 L1492.5,680.8 L1493.1,679.8 L1493.8,679.2 L1494.4,679.6 L1495.1,680.3 L1495.8,679.8 L1496.4,683.0 L1497.1,680.3 L1497.7,681.2 L1498.4,680.9 L1499.1,681.2 L1499.7,680.0 L1500.4,679.0 L1501.0,682.0 L1501.7,680.1 L1502.4,680.2 L1503.0,680.3 L1503.7,681.5 L1504.3,681.3 L1505.0,681.9 L1505.7,681.7 L1506.3,681.0 L1507.0,681.2 L1507.6,680.1 L1508.3,678.9 L1509.0,680.6 L1509.6,679.8 L1510.3,683.8 L1510.9,682.8 L1511.6,682.3 L1512.3,680.5 L1512.9,683.2 L1513.6,679.2 L1514.2,679.8 L1514.9,680.3 L1515.6,680.1 L1516.2,681.2 L1516.9,681.3 L1517.5,683.2 L1518.2,682.4 L1518.9,682.7 L1519.5,682.0 L1520.2,681.3 L1520.8,680.6 L1521.5,679.3 L1522.2,679.5 L1522.8,679.5 L1523.5,680.3 L1524.1,677.5 L1524.8,677.7 L1525.5,679.4 L1526.1,678.1 L1526.8,679.7 L1527.4,679.0 L1528.1,678.7 L1528.8,678.1 L1529.4,679.4 L1530.1,678.6 L1530.7,678.6 L1531.4,678.5 L1532.1,679.4 L1532.7,679.5 L1533.4,677.6 L1534.0,679.3 L1534.7,680.0 L1535.4,680.8 L1536.0,680.6 L1536.7,680.0 L1537.3,678.6 L1538.0,679.0 L1538.7,680.6 L1539.3,678.6 L1540.0,680.2 L1540.6,680.2 L1541.3,677.7 L1542.0,679.3 L1542.6,678.8 L1543.3,681.1 L1543.9,680.0 L1544.6,678.5 L1545.3,679.4 L1545.9,677.8 L1546.6,678.4 L1547.2,678.6 L1547.9,678.4 L1548.6,678.5 L1549.2,677.2 L1549.9,676.2 L1550.5,677.9 L1551.2,677.4 L1551.9,677.7 L1552.5,680.7 L1553.2,679.7 L1553.8,678.4 L1554.5,677.1 L1555.2,677.3 L1555.8,679.2 L1556.5,680.0 L1557.1,678.8 L1557.8,679.3 L1558.5,679.6 L1559.1,680.6 L1559.8,677.5 L1560.4,679.6 L1561.1,679.9 L1561.8,680.4 L1562.4,679.6 L1563.1,677.8 L1563.7,678.0 L1564.4,676.6 L1565.1,678.1 L1565.7,677.9 L1566.4,678.1 L1567.0,676.5 L1567.7,676.4 L1568.4,679.2 L1569.0,677.8 L1569.7,679.3 L1570.3,677.7 L1571.0,675.5 L1571.7,677.8 L1572.3,678.2 L1573.0,676.5 L1573.6,675.1 L1574.3,677.9 L1575.0,677.1 L1575.6,677.5 L1576.3,674.5 L1576.9,677.8 L1577.6,674.6 L1578.3,676.6 L1578.9,678.6 L1579.6,675.8 L1580.2,675.8 L1580.9,677.2 L1581.6,679.2 L1582.2,679.1 L1582.9,676.7 L1583.5,678.3 L1584.2,677.8 L1584.9,677.4 L1585.5,677.4 L1586.2,676.2 L1586.8,677.7 L1587.5,677.9 L1588.2,679.7 L1588.8,677.9 L1589.5,674.5 L1590.1,675.9 L1590.8,677.5 L1591.5,677.1 L1592.1,674.8 L1592.8,676.4 L1593.4,676.1 L1594.1,676.5 L1594.8,676.6 L1595.4,677.9 L1596.1,678.7 L1596.7,677.9 L1597.4,675.9 L1598.1,676.1 L1598.7,676.3 L1599.4,677.0 L1600.0,676.9 L1600.7,677.3 L1601.4,677.1 L1602.0,679.3 L1602.7,679.3 L1603.3,679.4 L1604.0,678.2 L1604.7,678.5 L1605.3,676.8 L1606.0,676.5 L1606.6,676.9 L1607.3,678.0 L1608.0,677.4 L1608.6,676.6 L1609.3,678.0 L1609.9,678.5 L1610.6,678.2 L1611.3,677.2 L1611.9,677.8 L1612.6,677.3 L1613.2,677.4 L1613.9,677.9 L1614.6,679.1 L1615.2,680.4 L1615.9,680.2 L1616.5,679.2 L1617.2,678.1 L1617.9,678.0 L1618.5,677.9 L1619.2,679.4 L1619.8,675.3 L1620.5,678.6 L1621.2,676.4 L1621.8,678.6 L1622.5,680.0 L1623.1,677.6 L1623.8,676.2 L1624.5,679.9 L1625.1,680.1 L1625.8,678.8 L1626.4,679.5 L1627.1,677.2 L1627.8,679.3 L1628.4,679.9 L1629.1,678.9 L1629.7,678.7 L1630.4,680.1 L1631.1,680.2 L1631.7,678.5 L1632.4,680.8 L1633.0,680.2 L1633.7,679.6 L1634.4,680.7 L1635.0,680.2 L1635.7,679.8 L1636.3,678.4 L1637.0,679.7 L1637.7,677.5 L1638.3,678.4 L1639.0,676.6 L1639.6,676.5 L1640.3,678.7 L1641.0,678.1 L1641.6,678.2 L1642.3,678.8 L1642.9,678.5 L1643.6,677.2 L1644.3,678.2 L1644.9,678.0 L1645.6,677.5 L1646.2,677.7 L1646.9,677.1 L1647.6,676.3 L1648.2,676.0 L1648.9,676.0 L1649.5,677.4 L1650.2,674.0 L1650.9,675.1 L1651.5,672.8 L1652.2,675.6 L1652.8,673.1 L1653.5,672.9 L1654.2,673.4 L1654.8,672.5 L1655.5,669.3 L1656.1,671.0 L1656.8,669.6 L1657.5,670.0 L1658.1,669.0 L1658.8,669.0 L1659.4,668.0 L1660.1,666.9 L1660.8,667.5 L1661.4,663.8 L1662.1,664.1 L1662.7,662.8 L1663.4,662.9 L1664.1,662.0 L1664.7,661.8 L1665.4,660.9 L1666.0,660.4 L1666.7,658.5 L1667.4,659.4 L1668.0,658.8 L1668.7,656.9 L1669.3,656.0 L1670.0,655.2 L1670.7,657.0 L1671.3,654.8 L1672.0,654.4 L1672.6,653.2 L1673.3,652.5 L1674.0,651.7 L1674.6,653.8 L1675.3,650.0 L1675.9,651.7 L1676.6,650.9 L1677.3,650.2 L1677.9,648.3 L1678.6,648.2 L1679.2,650.0 L1679.9,647.7 L1680.6,648.8 L1681.2,648.1 L1681.9,647.7 L1682.5,647.6 L1683.2,645.4 L1683.9,646.0 L1684.5,647.2 L1685.2,645.1 L1685.8,648.1 L1686.5,645.6 L1687.2,645.9 L1687.8,644.6 L1688.5,645.6 L1689.1,643.9 L1689.8,643.8 L1690.5,642.2 L1691.1,643.9 L1691.8,640.2 L1692.4,641.7 L1693.1,640.8 L1693.8,640.3 L1694.4,638.2 L1695.1,639.8 L1695.7,639.3 L1696.4,638.0 L1697.1,637.6 L1697.7,636.5 L1698.4,636.7 L1699.0,634.5 L1699.7,635.3 L1700.4,634.5 L1701.0,632.0 L1701.7,630.1 L1702.3,631.9 L1703.0,630.7 L1703.7,630.4 L1704.3,627.2 L1705.0,624.3 L1705.6,621.0 L1706.3,619.9 L1707.0,617.0 L1707.6,614.3 L1708.3,613.4 L1708.9,613.2 L1709.6,611.4 L1710.3,610.1 L1710.9,611.9 L1711.6,611.2 L1712.2,611.7 L1712.9,615.1 L1713.6,615.3 L1714.2,618.4 L1714.9,619.0 L1715.5,619.3 L1716.2,621.9 L1716.9,624.8 L1717.5,625.2 L1718.2,626.2 L1718.8,628.7 L1719.5,630.6 L1720.2,632.4 L1720.8,634.5 L1721.5,638.4 L1722.1,641.1 L1722.8,641.4 L1723.5,644.4 L1724.1,646.7 L1724.8,649.7 L1725.4,650.1 L1726.1,652.3 L1726.8,655.5 L1727.4,657.6 L1728.1,660.0 L1728.7,663.0 L1729.4,662.9 L1730.1,664.8 L1730.7,664.5 L1731.4,666.3 L1732.0,666.7 L1732.7,667.5 L1733.4,668.9 L1734.0,669.4 L1734.7,671.0 L1735.3,672.2 L1736.0,670.4 L1736.7,673.6 L1737.3,670.7 L1738.0,673.8 L1738.6,674.8 L1739.3,673.8 L1740.0,674.8 L1740.6,674.6 L1741.3,676.7 L1741.9,672.6 L1742.6,675.1 L1743.3,674.2 L1743.9,676.5 L1744.6,677.7 L1745.2,677.7 L1745.9,677.3 L1746.6,676.9 L1747.2,675.9 L1747.9,678.1 L1748.5,677.7 L1749.2,676.4 L1749.9,676.1 L1750.5,676.9 L1751.2,678.7 L1751.8,678.8 L1752.5,678.9 L1753.2,676.2 L1753.8,676.4 L1754.5,678.1 L1755.1,677.0 L1755.8,677.7 L1756.5,675.8 L1757.1,677.2 L1757.8,677.9 L1758.4,677.9 L1759.1,678.0 L1759.8,676.9 L1760.4,680.3 L1761.1,678.7 L1761.7,676.7 L1762.4,679.2 L1763.1,678.1 L1763.7,678.8 L1764.4,678.0 L1765.0,677.6 L1765.7,677.8 L1766.4,679.1 L1767.0,679.7 L1767.7,679.3 L1768.3,679.4 L1769.0,680.0 L1769.7,679.0 L1770.3,679.9 L1771.0,680.0 L1771.6,679.0 L1772.3,678.5 L1773.0,677.9 L1773.6,676.9 L1774.3,676.5 L1774.9,679.5 L1775.6,678.2 L1776.3,677.9 L1776.9,680.3 L1777.6,679.8"/>
<path stroke="#0f0" d="M119.0,341.0 L119.7,341.7 L120.3,341.3 L121.0,339.7 L121.6,342.1 L122.3,341.7 L123.0,340.6 L123.6,341.7 L124.3,341.4 L124.9,341.1 L125.6,340.7 L126.3,341.2 L126.9,339.7 L127.6,340.2 L128.2,339.8 L128.9,340.8 L129.6,340.0 L130.2,339.5 L130.9,338.8 L131.5,339.2 L132.2,339.5 L132.9,339.3 L133.5,341.1 L134.2,340.9 L134.8,336.9 L135.5,337.6 L136.2,339.1 L136.8,338.6 L137.5,339.1 L138.1,339.1 L138.8,341.1 L139.5,337.8 L140.1,338.7 L140.8,341.3 L141.4,339.9 L142.1,340.0 L142.8,338.7 L143.4,337.4 L144.1,339.2 L144.7,339.0 L145.4,337.5 L146.1,338.2 L146.7,339.0 L147.4,338.5 L148.0,339.8 L148.7,340.5 L149.4,341.0 L150.0,340.9 L150.7,342.4 L151.3,342.9 L152.0,342.4 L152.7,341.1 L153.3,342.7 L154.0,341.4 L154.6,342.9 L155.3,340.9 L156.0,343.1 L156.6,342.3 L157.3,341.0 L157.9,342.0 L158.6,342.1 L159.3,342.0 L159.9,340.3 L160.6,339.7 L161.2,340.6 L161.9,339.4 L162.6,339.6 L163.2,339.5 L163.9,336.4 L164.5,337.8 L165.2,338.2 L165.9,336.1 L166.5,335.0 L167.2,336.2 L167.8,335.2 L168.5,335.4 L169.2,333.6 L169.8,331.9 L170.5,332.9 L171.1,332.0 L171.8,332.8 L172.5,331.9 L173.1,329.8 L173.8,330.4 L174.4,332.9 L175.1,333.2 L175.8,332.3 L176.4,333.3 L177.1,334.0 L177.7,334.1 L178.4,334.6 L179.1,333.9 L179.7,333.6 L180.4,333.5 L181.0,335.0 L181.7,331.6 L182.4,333.8 L183.0,333.7 L183.7,331.8 L184.3,333.2 L185.0,331.7 L185.7,332.9 L186.3,331.3 L187.0,331.7 L187.6,331.7 L188.3,330.3 L189.0,328.3 L189.6,326.9 L190.3,329.5 L190.9,326.8 L191.6,325.5 L192.3,325.8 L192.9,324.7 L193.6,325.1 L194.2,323.4 L194.9,322.5 L195.6,320.6 L196.2,320.7 L196.9,317.8 L197.5,318.2 L198.2,317.3 L198.9,312.2 L199.5,309.3 L200.2,311.0 L200.8,311.8 L201.5,307.6 L202.2,308.2 L202.8,312.5 L203.5,314.5 L204.1,319.0 L204.8,323.3 L205.5,327.7 L206.1,329.1 L206.8,331.6 L207.4,332.8 L208.1,333.6 L208.8,335.5 L209.4,335.9 L210.1,337.9 L210.7,337.5 L211.4,338.1 L212.1,341.0 L212.7,339.4 L213.4,339.2 L214.0,339.4 L214.7,337.9 L215.4,337.4 L216.0,337.5 L216.7,336.8 L217.3,334.8 L218.0,336.7 L218.7,335.0 L219.3,334.5 L220.0,334.6 L220.6,335.1 L221.3,337.2 L222.0,334.4 L222.6,336.0 L223.3,334.0 L223.9,336.8 L224.6,338.4 L225.3,337.9 L225.9,338.0 L226.6,339.4 L227.2,340.4 L227.9,340.9 L228.6,342.8 L229.2,341.6 L229.9,341.5 L230.5,342.7 L231.2,343.5 L231.9,344.3 L232.5,344.6 L233.2,345.1 L233.8,343.3 L234.5,346.0 L235.2,344.5 L235.8,343.8 L236.5,345.6 L237.1,346.2 L237.8,345.3 L238.5,345.0 L239.1,343.9 L239.8,348.0 L240.4,345.9 L241.1,343.9 L241.8,344.4 L242.4,345.4 L243.1,343.8 L243.7,345.7 L244.4,345.1 L245.1,346.8 L245.7,346.5 L246.4,342.6 L247.0,345.4 L247.7,343.6 L248.4,346.4 L249.0,345.4 L249.7,345.7 L250.3,344.0 L251.0,346.9 L251.7,347.0 L252.3,343.6 L253.0,345.1 L253.6,344.0 L254.3,344.8 L255.0,343.7 L255.6,347.2 L256.3,344.4 L256.9,345.2 L257.6,345.9 L258.3,344.6 L258.9,344.8 L259.6,344.4 L260.2,344.8 L260.9,343.8 L261.6,344.9 L262.2,345.4 L262.9,345.5 L263.5,346.1 L264.2,345.9 L264.9,347.0 L265.5,346.0 L266.2,346.3 L266.8,345.8 L267.5,346.0 L268.2,345.3 L268.8,347.1 L269.5,345.3 L270.1,345.6 L270.8,346.8 L271.5,346.8 L272.1,346.1 L272.8,344.6 L273.4,347.4 L274.1,347.5 L274.8,346.0 L275.4,348.5 L276.1,347.2 L276.7,346.8 L277.4,348.2 L278.1,347.9 L278.7,348.3 L279.4,346.2 L280.0,349.7 L280.7,347.2 L281.4,346.3 L282.0,348.6 L282.7,347.7 L283.3,348.7 L284.0,348.2 L284.7,348.7 L285.3,349.1 L286.0,348.1 L286.6,349.6 L287.3,348.5 L288.0,348.1 L288.6,349.1 L289.3,349.5 L289.9,348.8 L290.6,348.2 L291.3,349.8 L291.9,347.4 L292.6,348.3 L293.2,349.6 L293.9,348.2 L294.6,349.6 L295.2,349.4 L295.9,350.3 L296.5,348.3 L297.2,348.6 L297.9,349.7 L298.5,346.9 L299.2,352.7 L299.8,348.6 L300.5,348.4 L301.2,349.7 L301.8,348.5 L302.5,346.4 L303.1,348.7 L303.8,348.9 L304.5,347.6 L305.1,347.9 L305.8,348.8 L306.4,347.4 L307.1,348.8 L307.8,348.5 L308.4,347.5 L309.1,346.6 L309.7,347.6 L310.4,346.7 L311.1,348.5 L311.7,347.4 L312.4,347.9 L313.0,347.0 L313.7,347.0 L314.4,345.6 L315.0,346.9 L315.7,347.7 L316.3,345.3 L317.0,344.8 L317.7,345.1 L318.3,344.7 L319.0,344.3 L319.6,345.1 L320.3,344.6 L321.0,346.3 L321.6,344.7 L322.3,345.0 L322.9,345.5 L323.6,344.0 L324.3,345.7 L324.9,343.3 L325.6,343.0 L326.2,343.4 L326.9,343.7 L327.6,342.3 L328.2,343.5 L328.9,341.6 L329.5,344.5 L330.2,342.8 L330.9,342.0 L331.5,341.6 L332.2,341.9 L332.8,341.9 L333.5,340.7 L334.2,340.5 L334.8,340.8 L335.5,340.2 L336.1,341.6 L336.8,341.7 L337.5,340.6 L338.1,341.1 L338.8,339.3 L339.4,341.3 L340.1,340.6 L340.8,340.9 L341.4,341.7 L342.1,337.3 L342.7,339.7 L343.4,338.0 L344.1,339.6 L344.7,337.5 L345.4,338.3 L346.0,338.9 L346.7,339.2 L347.4,338.5 L348.0,337.5 L348.7,337.7 L349.3,339.0 L350.0,337.9 L350.7,336.0 L351.3,338.5 L352.0,337.9 L352.6,338.4 L353.3,337.2 L354.0,338.5 L354.6,336.7 L355.3,338.4 L355.9,337.3 L356.6,338.3 L357.3,338.4 L357.9,336.4 L358.6,336.9 L359.2,336.7 L359.9,337.7 L360.6,337.1 L361.2,335.0 L361.9,336.6 L362.5,336.7 L363.2,337.8 L363.9,333.4 L364.5,334.2 L365.2,335.8 L365.8,332.6 L366.5,332.4 L367.2,333.8 L367.8,333.7 L368.5,331.1 L369.1,331.3 L369.8,329.5 L370.5,329.6 L371.1,326.6 L371.8,326.2 L372.4,322.7 L373.1,322.0 L373.8,320.7 L374.4,320.5 L375.1,318.4 L375.7,315.5 L376.4,315.3 L377.1,313.4 L377.7,310.3 L378.4,307.6 L379.0,304.8 L379.7,300.0 L380.4,297.9 L381.0,292.6 L381.7,285.0 L382.3,279.7 L383.0,270.2 L383.7,263.8 L384.3,256.9 L385.0,252.8 L385.6,242.1 L386.3,237.4 L387.0,230.8 L387.6,223.3 L388.3,217.3 L388.9,208.2 L389.6,200.1 L390.3,196.5 L390.9,187.7 L391.6,182.0 L392.2,174.5 L392.9,170.2 L393.6,163.4 L394.2,155.0 L394.9,149.6 L395.5,141.5 L396.2,134.4 L396.9,128.6 L397.5,123.6 L398.2,119.7 L398.8,114.9 L399.5,110.4 L400.2,109.6 L400.8,107.7 L401.5,110.8 L402.1,115.1 L402.8,121.9 L403.5,126.8 L404.1,136.9 L404.8,143.4 L405.4,151.4 L406.1,159.0 L406.8,169.7 L407.4,180.3 L408.1,191.3 L408.7,204.0 L409.4,217.1 L410.1,228.7 L410.7,241.3 L411.4,252.6 L412.0,263.4 L412.7,273.8 L413.4,283.0 L414.0,292.2 L414.7,299.8 L415.3,306.1 L416.0,309.4 L416.7,312.2 L417.3,316.1 L418.0,318.5 L418.6,320.4 L419.3,322.4 L420.0,324.0 L420.6,326.9 L421.3,326.2 L421.9,328.6 L422.6,330.0 L423.3,329.0 L423.9,331.4 L424.6,331.0 L425.2,330.2 L425.9,331.1 L426.6,331.1 L427.2,331.1 L427.9,331.6 L428.5,332.5 L429.2,333.3 L429.9,332.5 L430.5,334.0 L431.2,332.8 L431.8,335.0 L432.5,335.7 L433.2,335.4 L433.8,335.9 L434.5,336.6 L435.1,335.9 L435.8,337.0 L436.5,338.5 L437.1,339.8 L437.8,339.9 L438.4,342.9 L439.1,340.6 L439.8,342.2 L440.4,342.8 L441.1,341.6 L441.7,341.2 L442.4,341.1 L443.1,342.9 L443.7,344.3 L444.4,343.8 L445.0,344.1 L445.7,343.9 L446.4,345.1 L447.0,342.4 L447.7,345.1 L448.3,345.0 L449.0,343.6 L449.7,347.3 L450.3,343.4 L451.0,343.6 L451.6,343.3 L452.3,345.7 L453.0,343.5 L453.6,345.1 L454.3,344.9 L454.9,344.4 L455.6,342.7 L456.3,343.2 L456.9,345.5 L457.6,342.4 L458.2,342.9 L458.9,343.6 L459.6,344.7 L460.2,344.2 L460.9,344.7 L461.5,342.7 L462.2,344.6 L462.9,343.8 L463.5,341.0 L464.2,343.6 L464.8,343.6 L465.5,339.5 L466.2,339.5 L466.8,340.1 L467.5,336.2 L468.1,334.9 L468.8,334.8 L469.5,334.8 L470.1,334.2 L470.8,334.9 L471.4,334.1 L472.1,332.4 L472.8,334.3 L473.4,336.0 L474.1,335.7 L474.7,336.0 L475.4,335.6 L476.1,337.3 L476.7,336.1 L477.4,338.8 L478.0,338.9 L478.7,341.2 L479.4,341.5 L480.0,340.9 L480.7,343.0 L481.3,344.8 L482.0,342.9 L482.7,343.9 L483.3,343.9 L484.0,343.2 L484.6,345.7 L485.3,346.0 L486.0,345.5 L486.6,345.0 L487.3,344.8 L487.9,345.2 L488.6,344.4 L489.3,346.4 L489.9,346.7 L490.6,346.7 L491.2,345.0 L491.9,345.4 L492.6,344.9 L493.2,346.7 L493.9,344.8 L494.5,342.5 L495.2,344.7 L495.9,346.1 L496.5,344.8 L497.2,345.0 L497.8,344.2 L498.5,342.3 L499.2,342.9 L499.8,343.9 L500.5,345.6 L501.1,346.4 L501.8,347.0 L502.5,345.9 L503.1,347.1 L503.8,345.6 L504.4,344.9 L505.1,346.1 L505.8,344.0 L506.4,341.9 L507.1,343.4 L507.7,344.3 L508.4,340.5 L509.1,342.8 L509.7,342.2 L510.4,340.5 L511.0,339.9 L511.7,340.5 L512.4,340.1 L513.0,341.7 L513.7,340.6 L514.3,338.4 L515.0,339.1 L515.7,340.8 L516.3,342.2 L517.0,340.7 L517.6,340.7 L518.3,342.5 L519.0,340.6 L519.6,340.4 L520.3,339.5 L520.9,340.8 L521.6,344.0 L522.3,340.7 L522.9,342.6 L523.6,341.5 L524.2,343.6 L524.9,345.0 L525.6,344.4 L526.2,346.0 L526.9,346.5 L527.5,346.7 L528.2,348.5 L528.9,348.0 L529.5,347.2 L530.2,347.1 L530.8,347.1 L531.5,348.5 L532.2,347.6 L532.8,350.7 L533.5,349.7 L534.1,347.5 L534.8,347.3 L535.5,349.4 L536.1,345.5 L536.8,346.8 L537.4,348.1 L538.1,345.9 L538.8,346.3 L539.4,346.3 L540.1,347.2 L540.7,346.5 L541.4,346.5 L542.1,346.3 L542.7,345.3 L543.4,346.2 L544.0,344.0 L544.7,343.2 L545.4,342.8 L546.0,343.0 L546.7,344.0 L547.3,345.5 L548.0,344.4 L548.7,343.4 L549.3,342.6 L550.0,342.6 L550.6,342.0 L551.3,340.8 L552.0,338.7 L552.6,338.5 L553.3,339.0 L553.9,334.8 L554.6,336.3 L555.3,334.3 L555.9,336.9 L556.6,336.7 L557.2,336.3 L557.9,339.7 L558.6,342.4 L559.2,341.4 L559.9,342.7 L560.5,341.4 L561.2,339.2 L561.9,342.0 L562.5,341.2 L563.2,340.1 L563.8,342.5 L564.5,341.9 L565.2,340.9 L565.8,342.1 L566.5,339.9 L567.1,341.0 L567.8,338.9 L568.5,340.0 L569.1,338.0 L569.8,340.5 L570.4,339.0 L571.1,340.2 L571.8,337.6 L572.4,337.6 L573.1,338.5 L573.7,334.3 L574.4,335.6 L575.1,337.3 L575.7,336.2 L576.4,336.3 L577.0,334.5 L577.7,334.9 L578.4,332.9 L579.0,331.6 L579.7,330.4 L580.3,330.7 L581.0,329.7 L581.7,328.6 L582.3,324.5 L583.0,325.2 L583.6,325.6 L584.3,325.3 L585.0,323.0 L585.6,321.1 L586.3,317.8 L586.9,320.4 L587.6,315.1 L588.3,315.9 L588.9,313.6 L589.6,309.8 L590.2,306.4 L590.9,304.5 L591.6,300.4 L592.2,298.9 L592.9,295.1 L593.5,291.3 L594.2,286.9 L594.9,282.5 L595.5,274.8 L596.2,270.7 L596.8,263.1 L597.5,257.6 L598.2,252.7 L598.8,247.2 L599.5,244.1 L600.1,238.8 L600.8,233.8 L601.5,226.9 L602.1,221.4 L602.8,214.3 L603.4,206.9 L604.1,200.8 L604.8,192.5 L605.4,183.0 L606.1,177.2 L606.7,168.3 L607.4,163.5 L608.1,157.0 L608.7,154.4 L609.4,155.2 L610.0,161.4 L610.7,167.5 L611.4,176.6 L612.0,185.1 L612.7,194.0 L613.3,205.5 L614.0,215.1 L614.7,229.9 L615.3,245.9 L616.0,260.1 L616.6,272.2 L617.3,281.9 L618.0,290.9 L618.6,297.2 L619.3,306.1 L619.9,312.6 L620.6,317.1 L621.3,321.0 L621.9,324.3 L622.6,325.6 L623.2,327.8 L623.9,331.7 L624.6,333.2 L625.2,336.7 L625.9,335.7 L626.5,336.3 L627.2,340.3 L627.9,341.3 L628.5,340.3 L629.2,340.1 L629.8,342.2 L630.5,340.9 L631.2,343.0 L631.8,341.8 L632.5,344.3 L633.1,342.7 L633.8,345.0 L634.5,347.2 L635.1,345.6 L635.8,347.1 L636.4,346.0 L637.1,346.2 L637.8,346.0 L638.4,349.1 L639.1,348.3 L639.7,350.3 L640.4,347.5 L641.1,348.5 L641.7,348.8 L642.4,350.1 L643.0,350.4 L643.7,347.6 L644.4,346.9 L645.0,346.1 L645.7,349.2 L646.3,347.5 L647.0,346.8 L647.7,347.4 L648.3,344.7 L649.0,345.7 L649.6,348.5 L650.3,348.0 L651.0,347.6 L651.6,346.0 L652.3,346.9 L652.9,347.1 L653.6,342.8 L654.3,342.9 L654.9,341.3 L655.6,341.2 L656.2,340.2 L656.9,339.7 L657.6,338.7 L658.2,339.7 L658.9,339.2 L659.5,340.1 L660.2,340.6 L660.9,342.0 L661.5,341.3 L662.2,342.4 L662.8,344.8 L663.5,344.4 L664.2,345.5 L664.8,347.7 L665.5,348.2 L666.1,349.0 L666.8,350.1 L667.5,349.5 L668.1,352.1 L668.8,353.7 L669.4,353.4 L670.1,351.5 L670.8,353.6 L671.4,352.5 L672.1,353.4 L672.7,354.0 L673.4,353.0 L674.1,356.0 L674.7,354.9 L675.4,356.1 L676.0,356.2 L676.7,357.1 L677.4,357.1 L678.0,354.3 L678.7,355.7 L679.3,353.1 L680.0,354.5 L680.7,355.2 L681.3,355.1 L682.0,355.3 L682.6,353.5 L683.3,354.3 L684.0,354.2 L684.6,355.6 L685.3,356.1 L685.9,354.1 L686.6,358.3 L687.3,354.2 L687.9,353.6 L688.6,354.3 L689.2,354.3 L689.9,353.9 L690.6,352.5 L691.2,354.7 L691.9,353.2 L692.5,354.8 L693.2,354.7 L693.9,351.9 L694.5,352.2 L695.2,352.1 L695.8,353.4 L696.5,353.2 L697.2,353.5 L697.8,352.4 L698.5,353.7 L699.1,354.8 L699.8,352.0 L700.5,353.3 L701.1,353.7 L701.8,353.3 L702.4,353.1 L703.1,355.1 L703.8,354.6 L704.4,354.2 L705.1,352.6 L705.7,355.7 L706.4,353.7 L707.1,352.6 L707.7,352.7 L708.4,352.4 L709.0,355.1 L709.7,353.3 L710.4,353.4 L711.0,351.4 L711.7,354.7 L712.3,353.0 L713.0,353.0 L713.7,354.9 L714.3,353.4 L715.0,355.3 L715.6,355.8 L716.3,352.8 L717.0,354.7 L717.6,353.2 L718.3,354.9 L718.9,356.1 L719.6,354.1 L720.3,357.7 L720.9,355.8 L721.6,355.1 L722.2,356.3 L722.9,357.2 L723.6,354.8 L724.2,356.1 L724.9,354.7 L725.5,357.4 L726.2,356.3 L726.9,355.8 L727.5,357.3 L728.2,355.0 L728.8,356.0 L729.5,358.4 L730.2,356.4 L730.8,358.0 L731.5,356.9 L732.1,356.1 L732.8,356.7 L733.5,357.2 L734.1,356.9 L734.8,356.7 L735.4,357.0 L736.1,356.4 L736.8,358.2 L737.4,358.6 L738.1,359.1 L738.7,356.5 L739.4,359.3 L740.1,358.4 L740.7,356.9 L741.4,358.4 L742.0,359.0 L742.7,358.5 L743.4,358.5 L744.0,358.5 L744.7,358.4 L745.3,357.5 L746.0,355.4 L746.7,357.0 L747.3,358.4 L748.0,357.7 L748.6,359.1 L749.3,359.2 L750.0,358.4 L750.6,360.1 L751.3,356.8 L751.9,358.4 L752.6,356.7 L753.3,356.3 L753.9,357.9 L754.6,357.0 L755.2,358.9 L755.9,357.1 L756.6,358.5 L757.2,357.6 L757.9,358.1 L758.5,357.7 L759.2,356.7 L759.9,358.5 L760.5,356.4 L761.2,356.6 L761.8,358.5 L762.5,358.5 L763.2,358.2 L763.8,357.9 L764.5,360.1 L765.1,356.6 L765.8,357.2 L766.5,357.1 L767.1,359.1 L767.8,358.3 L768.4,359.0 L769.1,358.6 L769.8,357.1 L770.4,356.2 L771.1,355.8 L771.7,359.1 L772.4,357.8 L773.1,357.3 L773.7,356.3 L774.4,356.4 L775.0,356.2 L775.7,356.2 L776.4,353.9 L777.0,356.3 L777.7,355.8 L778.3,356.4 L779.0,356.2 L779.7,356.9 L780.3,355.9 L781.0,356.8 L781.6,353.3 L782.3,354.8 L783.0,357.7 L783.6,354.6 L784.3,355.5 L784.9,356.4 L785.6,354.8 L786.3,356.6 L786.9,354.5 L787.6,354.1 L788.2,354.9 L788.9,354.7 L789.6,356.5 L790.2,356.2 L790.9,356.9 L791.5,355.6 L792.2,359.4 L792.9,356.8 L793.5,356.8 L794.2,357.2 L794.8,356.2 L795.5,355.5 L796.2,356.1 L796.8,356.9 L797.5,356.6 L798.1,357.0 L798.8,355.6 L799.5,355.5 L800.1,358.5 L800.8,356.2 L801.4,357.0 L802.1,357.4 L802.8,358.3 L803.4,355.6 L804.1,356.7 L804.7,357.0 L805.4,357.4 L806.1,355.4 L806.7,358.0 L807.4,355.1 L808.0,358.4 L808.7,358.5 L809.4,358.4 L810.0,356.3 L810.7,358.4 L811.3,356.4 L812.0,356.1 L812.7,356.5 L813.3,356.8 L814.0,358.1 L814.6,359.0 L815.3,356.0 L816.0,357.8 L816.6,359.4 L817.3,358.7 L817.9,359.2 L818.6,357.3 L819.3,360.1 L819.9,357.6 L820.6,359.5 L821.2,360.8 L821.9,361.2 L822.6,359.6 L823.2,359.8 L823.9,358.0 L824.5,358.1 L825.2,359.9 L825.9,358.8 L826.5,359.0 L827.2,358.1 L827.8,360.2 L828.5,361.1 L829.2,359.9 L829.8,360.3 L830.5,362.6 L831.1,361.0 L831.8,360.4 L832.5,359.3 L833.1,359.6 L833.8,359.8 L834.4,361.4 L835.1,359.3 L835.8,361.7 L836.4,358.9 L837.1,359.5 L837.7,360.9 L838.4,359.8 L839.1,359.2 L839.7,359.9 L840.4,360.4 L841.0,357.9 L841.7,359.3 L842.4,359.2 L843.0,358.7 L843.7,359.8 L844.3,358.2 L845.0,358.2 L845.7,358.5 L846.3,359.0 L847.0,357.9 L847.6,359.6 L848.3,357.1 L849.0,359.5 L849.6,357.3 L850.3,358.0 L850.9,358.5 L851.6,360.2 L852.3,358.8 L852.9,357.3 L853.6,358.9 L854.2,357.2 L854.9,356.4 L855.6,357.6 L856.2,357.0 L856.9,357.8 L857.5,356.3 L858.2,357.4 L858.9,357.8 L859.5,357.8 L860.2,357.8 L860.8,357.4 L861.5,359.3 L862.2,358.6 L862.8,358.9 L863.5,358.0 L864.1,358.4 L864.8,357.3 L865.5,358.8 L866.1,359.8 L866.8,359.6 L867.4,360.8 L868.1,360.6 L868.8,361.9 L869.4,360.5 L870.1,359.1 L870.7,361.5 L871.4,361.1 L872.1,360.5 L872.7,362.5 L873.4,362.1 L874.0,362.3 L874.7,361.3 L875.4,361.7 L876.0,361.7 L876.7,363.3 L877.3,360.8 L878.0,361.7 L878.7,362.3 L879.3,360.4 L880.0,360.7 L880.6,364.7 L881.3,360.5 L882.0,362.9 L882.6,361.4 L883.3,361.5 L883.9,360.2 L884.6,361.3 L885.3,363.1 L885.9,360.7 L886.6,362.7 L887.2,362.3 L887.9,364.1 L888.6,361.4 L889.2,363.3 L889.9,363.0 L890.5,361.7 L891.2,360.1 L891.9,363.4 L892.5,360.2 L893.2,361.1 L893.8,362.5 L894.5,362.7 L895.2,360.7 L895.8,361.6 L896.5,361.4 L897.1,362.9 L897.8,364.3 L898.5,359.6 L899.1,362.4 L899.8,358.3 L900.4,361.2 L901.1,359.9 L901.8,363.1 L902.4,361.2 L903.1,360.3 L903.7,360.7 L904.4,360.7 L905.1,361.4 L905.7,360.9 L906.4,361.5 L907.0,362.2 L907.7,361.2 L908.4,359.0 L909.0,358.6 L909.7,359.4 L910.3,361.3 L911.0,359.9 L911.7,359.5 L912.3,360.3 L913.0,358.6 L913.6,358.7 L914.3,360.2 L915.0,359.1 L915.6,358.7 L916.3,359.4 L916.9,358.4 L917.6,358.4 L918.3,358.8 L918.9,360.0 L919.6,359.5 L920.2,358.2 L920.9,359.0 L921.6,359.7 L922.2,360.7 L922.9,357.4 L923.5,358.8 L924.2,358.2 L924.9,359.5 L925.5,359.3 L926.2,360.5 L926.8,359.5 L927.5,358.3 L928.2,358.1 L928.8,358.8 L929.5,358.7 L930.1,360.7 L930.8,359.9 L931.5,357.0 L932.1,358.7 L932.8,357.0 L933.4,356.7 L934.1,359.3 L934.8,359.1 L935.4,357.4 L936.1,360.2 L936.7,357.4 L937.4,357.2 L938.1,359.2 L938.7,358.8 L939.4,358.5 L940.0,358.6 L940.7,358.9 L941.4,358.4 L942.0,358.2 L942.7,356.2 L943.3,356.7 L944.0,358.7 L944.7,357.3 L945.3,358.8 L946.0,359.6 L946.6,358.1 L947.3,359.0 L948.0,361.1 L948.6,360.0 L949.3,361.5 L949.9,361.3 L950.6,360.5 L951.3,359.6 L951.9,358.6 L952.6,358.2 L953.2,359.7 L953.9,359.5 L954.6,358.7 L955.2,359.7 L955.9,358.2 L956.5,360.0 L957.2,358.8 L957.9,358.6 L958.5,358.6 L959.2,358.5 L959.8,361.4 L960.5,357.3 L961.2,359.5 L961.8,360.9 L962.5,360.5 L963.1,359.5 L963.8,361.5 L964.5,358.5 L965.1,358.2 L965.8,360.2 L966.4,358.1 L967.1,357.3 L967.8,360.9 L968.4,361.0 L969.1,361.2 L969.7,360.2 L970.4,361.2 L971.1,360.2 L971.7,363.2 L972.4,362.2 L973.0,362.1 L973.7,359.2 L974.4,362.1 L975.0,362.8 L975.7,362.7 L976.3,362.5 L977.0,361.9 L977.7,361.6 L978.3,362.6 L979.0,362.2 L979.6,361.8 L980.3,361.0 L981.0,362.9 L981.6,360.0 L982.3,361.4 L982.9,361.2 L983.6,363.4 L984.3,364.4 L984.9,364.6 L985.6,364.3 L986.2,362.1 L986.9,365.7 L987.6,364.0 L988.2,363.3 L988.9,363.5 L989.5,363.2 L990.2,364.0 L990.9,364.0 L991.5,363.4 L992.2,361.2 L992.8,363.9 L993.5,364.5 L994.2,364.6 L994.8,363.9 L995.5,364.4 L996.1,364.8 L996.8,363.1 L997.5,365.0 L998.1,361.3 L998.8,361.9 L999.4,362.2 L1000.1,360.5 L1000.8,361.9 L1001.4,364.1 L1002.1,364.0 L1002.7,362.6 L1003.4,364.2 L1004.1,362.5 L1004.7,361.5 L1005.4,362.0 L1006.0,361.4 L1006.7,362.2 L1007.4,359.8 L1008.0,362.3 L1008.7,360.9 L1009.3,362.3 L1010.0,359.7 L1010.7,360.7 L1011.3,360.9 L1012.0,361.5 L1012.6,358.9 L1013.3,361.7 L1014.0,360.4 L1014.6,359.5 L1015.3,361.6 L1015.9,360.6 L1016.6,361.9 L1017.3,363.2 L1017.9,361.5 L1018.6,360.0 L1019.2,359.9 L1019.9,360.8 L1020.6,360.3 L1021.2,359.1 L1021.9,359.2 L1022.5,360.6 L1023.2,362.3 L1023.9,357.1 L1024.5,360.7 L1025.2,359.8 L1025.8,360.7 L1026.5,360.6 L1027.2,359.4 L1027.8,357.9 L1028.5,357.1 L1029.1,356.4 L1029.8,359.6 L1030.5,358.3 L1031.1,358.3 L1031.8,359.0 L1032.4,358.2 L1033.1,360.0 L1033.8,361.1 L1034.4,360.8 L1035.1,357.8 L1035.7,360.9 L1036.4,358.6 L1037.1,357.4 L1037.7,358.2 L1038.4,358.5 L1039.0,359.4 L1039.7,358.2 L1040.4,357.6 L1041.0,358.8 L1041.7,361.1 L1042.3,358.3 L1043.0,359.5 L1043.7,359.1 L1044.3,361.9 L1045.0,357.2 L1045.6,360.5 L1046.3,358.2 L1047.0,359.0 L1047.6,359.6 L1048.3,362.9 L1048.9,358.6 L1049.6,357.2 L1050.3,360.5 L1050.9,358.3 L1051.6,359.0 L1052.2,359.4 L1052.9,359.5 L1053.6,359.2 L1054.2,359.6 L1054.9,359.8 L1055.5,360.4 L1056.2,359.5 L1056.9,359.6 L1057.5,359.8 L1058.2,361.9 L1058.8,361.3 L1059.5,361.8 L1060.2,361.5 L1060.8,362.5 L1061.5,360.9 L1062.1,361.5 L1062.8,359.5 L1063.5,359.7 L1064.1,360.6 L1064.8,359.6 L1065.4,361.6 L1066.1,359.5 L1066.8,361.0 L1067.4,358.6 L1068.1,360.3 L1068.7,361.5 L1069.4,361.9 L1070.1,360.5 L1070.7,362.7 L1071.4,363.7 L1072.0,363.3 L1072.7,361.9 L1073.4,361.9 L1074.0,361.3 L1074.7,363.3 L1075.3,364.2 L1076.0,362.3 L1076.7,361.1 L1077.3,363.1 L1078.0,363.4 L1078.6,359.5 L1079.3,362.2 L1080.0,364.0 L1080.6,362.5 L1081.3,362.3 L1081.9,362.3 L1082.6,363.4 L1083.3,361.7 L1083.9,362.2 L1084.6,363.9 L1085.2,363.0 L1085.9,364.2 L1086.6,362.0 L1087.2,364.9 L1087.9,365.1 L1088.5,364.4 L1089.2,364.5 L1089.9,366.0 L1090.5,363.1 L1091.2,363.3 L1091.8,363.2 L1092.5,364.1 L1093.2,363.6 L1093.8,364.9 L1094.5,364.2 L1095.1,363.3 L1095.8,362.9 L1096.5,365.6 L1097.1,364.1 L1097.8,364.0 L1098.4,364.5 L1099.1,364.7 L1099.8,366.0 L1100.4,366.1 L1101.1,365.0 L1101.7,364.8 L1102.4,364.3 L1103.1,363.8 L1103.7,366.3 L1104.4,363.7 L1105.0,362.6 L1105.7,364.1 L1106.4,364.3 L1107.0,365.7 L1107.7,364.4 L1108.3,366.0 L1109.0,365.8 L1109.7,366.7 L1110.3,367.7 L1111.0,368.4 L1111.6,366.8 L1112.3,364.2 L1113.0,365.0 L1113.6,365.8 L1114.3,367.9 L1114.9,366.5 L1115.6,367.1 L1116.3,365.7 L1116.9,366.5 L1117.6,366.5 L1118.2,365.0 L1118.9,366.1 L1119.6,366.2 L1120.2,364.7 L1120.9,365.8 L1121.5,366.3 L1122.2,364.5 L1122.9,364.4 L1123.5,364.0 L1124.2,363.6 L1124.8,364.4 L1125.5,363.8 L1126.2,363.8 L1126.8,363.3 L1127.5,362.5 L1128.1,363.2 L1128.8,364.8 L1129.5,363.4 L1130.1,364.3 L1130.8,367.0 L1131.4,366.6 L1132.1,364.7 L1132.8,365.9 L1133.4,364.4 L1134.1,366.6 L1134.7,364.2 L1135.4,365.0 L1136.1,366.4 L1136.7,364.2 L1137.4,366.5 L1138.0,364.3 L1138.7,365.5 L1139.4,364.9 L1140.0,365.1 L1140.7,365.2 L1141.3,364.8 L1142.0,363.7 L1142.7,365.7 L1143.3,365.6 L1144.0,366.4 L1144.6,366.7 L1145.3,364.0 L1146.0,366.8 L1146.6,366.7 L1147.3,364.7 L1147.9,366.3 L1148.6,366.6 L1149.3,364.5 L1149.9,363.7 L1150.6,364.8 L1151.2,368.2 L1151.9,365.5 L1152.6,364.0 L1153.2,365.0 L1153.9,364.1 L1154.5,364.6 L1155.2,365.0 L1155.9,362.0 L1156.5,365.0 L1157.2,366.0 L1157.8,364.3 L1158.5,364.1 L1159.2,365.8 L1159.8,363.5 L1160.5,363.8 L1161.1,363.8 L1161.8,365.1 L1162.5,365.7 L1163.1,365.1 L1163.8,365.6 L1164.4,365.8 L1165.1,365.4 L1165.8,363.9 L1166.4,364.4 L1167.1,365.8 L1167.7,363.4 L1168.4,364.2 L1169.1,364.2 L1169.7,364.6 L1170.4,363.8 L1171.0,363.6 L1171.7,367.7 L1172.4,365.9 L1173.0,364.0 L1173.7,364.5 L1174.3,365.1 L1175.0,364.0 L1175.7,364.9 L1176.3,363.6 L1177.0,363.8 L1177.6,364.2 L1178.3,363.9 L1179.0,361.8 L1179.6,364.4 L1180.3,364.6 L1180.9,364.7 L1181.6,363.2 L1182.3,364.5 L1182.9,364.4 L1183.6,362.3 L1184.2,361.8 L1184.9,364.5 L1185.6,362.9 L1186.2,364.8 L1186.9,366.0 L1187.5,363.1 L1188.2,362.9 L1188.9,363.6 L1189.5,364.1 L1190.2,362.1 L1190.8,364.6 L1191.5,364.3 L1192.2,364.1 L1192.8,363.1 L1193.5,364.8 L1194.1,365.0 L1194.8,362.9 L1195.5,366.5 L1196.1,364.0 L1196.8,364.8 L1197.4,363.9 L1198.1,364.9 L1198.8,365.7 L1199.4,363.5 L1200.1,362.5 L1200.7,363.7 L1201.4,362.7 L1202.1,363.2 L1202.7,363.9 L1203.4,363.9 L1204.0,365.4 L1204.7,363.0 L1205.4,364.6 L1206.0,363.7 L1206.7,365.8 L1207.3,367.1 L1208.0,364.8 L1208.7,366.1 L1209.3,363.6 L1210.0,362.2 L1210.6,362.2 L1211.3,361.5 L1212.0,361.8 L1212.6,362.4 L1213.3,363.8 L1213.9,363.3 L1214.6,363.2 L1215.3,362.4 L1215.9,362.1 L1216.6,362.9 L1217.2,362.9 L1217.9,363.1 L1218.6,363.4 L1219.2,363.2 L1219.9,361.5 L1220.5,362.5 L1221.2,362.8 L1221.9,365.1 L1222.5,362.5 L1223.2,363.3 L1223.8,363.8 L1224.5,362.5 L1225.2,361.7 L1225.8,361.9 L1226.5,361.2 L1227.1,362.7 L1227.8,363.5 L1228.5,362.8 L1229.1,362.7 L1229.8,362.3 L1230.4,363.2 L1231.1,360.0 L1231.8,360.5 L1232.4,360.7 L1233.1,360.9 L1233.7,356.6 L1234.4,358.2 L1235.1,358.1 L1235.7,356.9 L1236.4,358.5 L1237.0,357.6 L1237.7,356.6 L1238.4,354.9 L1239.0,354.7 L1239.7,354.4 L1240.3,355.2 L1241.0,352.6 L1241.7,351.0 L1242.3,351.0 L1243.0,351.3 L1243.6,353.1 L1244.3,353.3 L1245.0,349.3 L1245.6,349.8 L1246.3,349.0 L1246.9,347.5 L1247.6,344.5 L1248.3,341.7 L1248.9,341.1 L1249.6,338.2 L1250.2,339.0 L1250.9,338.2 L1251.6,333.9 L1252.2,334.3 L1252.9,333.2 L1253.5,332.6 L1254.2,331.2 L1254.9,329.1 L1255.5,326.1 L1256.2,325.0 L1256.8,325.3 L1257.5,322.1 L1258.2,321.4 L1258.8,321.8 L1259.5,319.0 L1260.1,316.1 L1260.8,315.9 L1261.5,315.4 L1262.1,313.0 L1262.8,312.9 L1263.4,311.5 L1264.1,308.1 L1264.8,306.8 L1265.4,305.8 L1266.1,303.0 L1266.7,302.6 L1267.4,299.6 L1268.1,297.6 L1268.7,290.7 L1269.4,282.1 L1270.0,275.1 L1270.7,262.1 L1271.4,253.3 L1272.0,246.3 L1272.7,241.3 L1273.3,235.2 L1274.0,230.7 L1274.7,224.7 L1275.3,220.0 L1276.0,216.2 L1276.6,212.5 L1277.3,208.9 L1278.0,205.2 L1278.6,204.9 L1279.3,203.9 L1279.9,204.5 L1280.6,204.3 L1281.3,209.2 L1281.9,211.4 L1282.6,217.1 L1283.2,220.3 L1283.9,223.3 L1284.6,228.2 L1285.2,236.3 L1285.9,240.0 L1286.5,247.5 L1287.2,252.3 L1287.9,260.6 L1288.5,263.9 L1289.2,271.3 L1289.8,278.0 L1290.5,283.5 L1291.2,291.5 L1291.8,301.3 L1292.5,307.4 L1293.1,313.7 L1293.8,322.2 L1294.5,328.8 L1295.1,329.8 L1295.8,334.3 L1296.4,335.4 L1297.1,339.5 L1297.8,340.0 L1298.4,343.7 L1299.1,344.6 L1299.7,345.5 L1300.4,347.4 L1301.1,348.1 L1301.7,348.8 L1302.4,350.1 L1303.0,352.1 L1303.7,351.7 L1304.4,353.8 L1305.0,354.3 L1305.7,354.5 L1306.3,353.8 L1307.0,354.6 L1307.7,354.8 L1308.3,356.6 L1309.0,354.7 L1309.6,355.6 L1310.3,356.2 L1311.0,356.7 L1311.6,356.4 L1312.3,356.6 L1312.9,358.4 L1313.6,356.5 L1314.3,358.1 L1314.9,359.3 L1315.6,358.7 L1316.2,355.8 L1316.9,359.0 L1317.6,359.1 L1318.2,359.7 L1318.9,357.7 L1319.5,360.4 L1320.2,358.6 L1320.9,361.0 L1321.5,360.6 L1322.2,362.0 L1322.8,358.8 L1323.5,357.6 L1324.2,360.4 L1324.8,360.5 L1325.5,359.4 L1326.1,361.6 L1326.8,361.1 L1327.5,359.2 L1328.1,360.2 L1328.8,360.0 L1329.4,360.2 L1330.1,360.4 L1330.8,359.3 L1331.4,359.9 L1332.1,360.8 L1332.7,360.2 L1333.4,360.1 L1334.1,360.1 L1334.7,360.3 L1335.4,358.5 L1336.0,360.8 L1336.7,359.8 L1337.4,361.2 L1338.0,359.7 L1338.7,362.4 L1339.3,361.6 L1340.0,359.8 L1340.7,361.3 L1341.3,360.2 L1342.0,363.0 L1342.6,361.9 L1343.3,360.9 L1344.0,362.3 L1344.6,362.2 L1345.3,363.7 L1345.9,363.0 L1346.6,363.3 L1347.3,361.8 L1347.9,364.1 L1348.6,365.7 L1349.2,364.5 L1349.9,363.9 L1350.6,364.1 L1351.2,362.9 L1351.9,364.1 L1352.5,362.8 L1353.2,364.0 L1353.9,363.6 L1354.5,363.2 L1355.2,364.6 L1355.8,362.3 L1356.5,363.7 L1357.2,362.2 L1357.8,365.5 L1358.5,365.6 L1359.1,364.5 L1359.8,365.7 L1360.5,364.4 L1361.1,364.4 L1361.8,363.4 L1362.4,362.8 L1363.1,363.7 L1363.8,362.8 L1364.4,362.8 L1365.1,364.0 L1365.7,363.1 L1366.4,361.7 L1367.1,363.3 L1367.7,362.9 L1368.4,363.6 L1369.0,362.9 L1369.7,365.4 L1370.4,366.1 L1371.0,362.9 L1371.7,364.6 L1372.3,364.4 L1373.0,362.5 L1373.7,363.6 L1374.3,364.9 L1375.0,364.2 L1375.6,365.1 L1376.3,362.2 L1377.0,362.6 L1377.6,363.7 L1378.3,363.6 L1378.9,363.1 L1379.6,362.6 L1380.3,362.6 L1380.9,362.4 L1381.6,363.6 L1382.2,360.3 L1382.9,365.0 L1383.6,362.8 L1384.2,361.9 L1384.9,364.0 L1385.5,362.0 L1386.2,364.0 L1386.9,363.4 L1387.5,364.7 L1388.2,365.0 L1388.8,365.6 L1389.5,363.7 L1390.2,363.8 L1390.8,364.0 L1391.5,362.4 L1392.1,364.4 L1392.8,364.0 L1393.5,362.5 L1394.1,365.4 L1394.8,365.7 L1395.4,362.9 L1396.1,364.9 L1396.8,365.5 L1397.4,365.0 L1398.1,363.0 L1398.7,362.5 L1399.4,363.9 L1400.1,363.5 L1400.7,364.1 L1401.4,363.9 L1402.0,364.4 L1402.7,363.1 L1403.4,363.3 L1404.0,366.5 L1404.7,363.4 L1405.3,364.4 L1406.0,364.2 L1406.7,364.5 L1407.3,363.6 L1408.0,365.3 L1408.6,364.9 L1409.3,365.9 L1410.0,367.2 L1410.6,365.2 L1411.3,365.7 L1411.9,363.7 L1412.6,364.8 L1413.3,366.3 L1413.9,364.5 L1414.6,363.9 L1415.2,364.6 L1415.9,364.0 L1416.6,363.8 L1417.2,363.5 L1417.9,366.0 L1418.5,363.0 L1419.2,363.5 L1419.9,363.5 L1420.5,365.7 L1421.2,364.4 L1421.8,366.3 L1422.5,365.3 L1423.2,365.2 L1423.8,363.7 L1424.5,366.4 L1425.1,365.6 L1425.8,365.5 L1426.5,365.0 L1427.1,364.8 L1427.8,364.1 L1428.4,366.5 L1429.1,365.8 L1429.8,364.9 L1430.4,364.4 L1431.1,365.1 L1431.7,364.8 L1432.4,366.6 L1433.1,365.7 L1433.7,364.2 L1434.4,363.6 L1435.0,364.4 L1435.7,363.7 L1436.4,364.7 L1437.0,365.1 L1437.7,365.5 L1438.3,365.5 L1439.0,365.1 L1439.7,366.2 L1440.3,364.8 L1441.0,365.7 L1441.6,366.6 L1442.3,365.9 L1443.0,364.1 L1443.6,364.2 L1444.3,363.6 L1444.9,367.3 L1445.6,363.8 L1446.3,365.3 L1446.9,367.2 L1447.6,366.2 L1448.2,366.1 L1448.9,364.0 L1449.6,365.2 L1450.2,367.6 L1450.9,364.5 L1451.5,365.2 L1452.2,364.7 L1452.9,365.3 L1453.5,366.0 L1454.2,367.3 L1454.8,365.0 L1455.5,364.5 L1456.2,366.1 L1456.8,366.3 L1457.5,367.6 L1458.1,366.9 L1458.8,365.5 L1459.5,367.0 L1460.1,367.8 L1460.8,367.2 L1461.4,366.6 L1462.1,367.6 L1462.8,366.3 L1463.4,364.4 L1464.1,367.4 L1464.7,364.3 L1465.4,365.1 L1466.1,364.9 L1466.7,364.8 L1467.4,364.8 L1468.0,363.6 L1468.7,365.6 L1469.4,365.1 L1470.0,365.2 L1470.7,366.4 L1471.3,366.7 L1472.0,367.4 L1472.7,368.3 L1473.3,367.2 L1474.0,365.4 L1474.6,367.3 L1475.3,367.1 L1476.0,367.1 L1476.6,366.2 L1477.3,365.8 L1477.9,367.4 L1478.6,367.4 L1479.3,365.0 L1479.9,366.7 L1480.6,365.9 L1481.2,365.8 L1481.9,367.1 L1482.6,366.5 L1483.2,366.1 L1483.9,366.9 L1484.5,364.8 L1485.2,366.3 L1485.9,366.5 L1486.5,365.5 L1487.2,367.0 L1487.8,367.0 L1488.5,365.8 L1489.2,366.0 L1489.8,366.6 L1490.5,366.7 L1491.1,364.7 L1491.8,365.7 L1492.5,366.5 L1493.1,365.5 L1493.8,364.9 L1494.4,365.3 L1495.1,366.0 L1495.8,365.5 L1496.4,368.7 L1497.1,366.0 L1497.7,366.9 L1498.4,366.6 L1499.1,366.9 L1499.7,365.7 L1500.4,364.7 L1501.0,367.7 L1501.7,365.8 L1502.4,365.9 L1503.0,366.0 L1503.7,367.2 L1504.3,367.0 L1505.0,367.6 L1505.7,367.4 L1506.3,366.7 L1507.0,366.9 L1507.6,365.8 L1508.3,364.6 L1509.0,366.3 L1509.6,365.5 L1510.3,369.5 L1510.9,368.5 L1511.6,368.0 L1512.3,366.2 L1512.9,368.9 L1513.6,364.9 L1514.2,365.5 L1514.9,366.0 L1515.6,365.8 L1516.2,366.9 L1516.9,367.0 L1517.5,368.9 L1518.2,368.1 L1518.9,368.4 L1519.5,367.7 L1520.2,367.0 L1520.8,366.3 L1521.5,365.0 L1522.2,365.2 L1522.8,365.2 L1523.5,366.0 L1524.1,363.2 L1524.8,363.4 L1525.5,365.1 L1526.1,363.8 L1526.8,365.4 L1527.4,364.7 L1528.1,364.4 L1528.8,363.8 L1529.4,365.1 L1530.1,364.3 L1530.7,364.3 L1531.4,364.2 L1532.1,365.1 L1532.7,365.2 L1533.4,363.3 L1534.0,365.0 L1534.7,365.7 L1535.4,366.5 L1536.0,366.3 L1536.7,365.7 L1537.3,364.3 L1538.0,364.7 L1538.7,366.3 L1539.3,364.3 L1540.0,365.9 L1540.6,365.9 L1541.3,363.4 L1542.0,365.0 L1542.6,364.5 L1543.3,366.8 L1543.9,365.7 L1544.6,364.2 L1545.3,365.1 L1545.9,363.5 L1546.6,364.1 L1547.2,364.3 L1547.9,364.1 L1548.6,364.2 L1549.2,362.9 L1549.9,361.9 L1550.5,363.6 L1551.2,363.1 L1551.9,363.4 L1552.5,366.4 L1553.2,365.4 L1553.8,364.1 L1554.5,362.8 L1555.2,363.0 L1555.8,364.9 L1556.5,365.7 L1557.1,364.5 L1557.8,365.0 L1558.5,365.3 L1559.1,366.3 L1559.8,363.2 L1560.4,365.3 L1561.1,365.6 L1561.8,366.1 L1562.4,365.3 L1563.1,363.5 L1563.7,363.7 L1564.4,362.3 L1565.1,363.8 L1565.7,363.6 L1566.4,363.8 L1567.0,362.2 L1567.7,362.1 L1568.4,364.9 L1569.0,363.5 L1569.7,365.0 L1570.3,363.4 L1571.0,361.2 L1571.7,363.5 L1572.3,363.9 L1573.0,362.2 L1573.6,360.8 L1574.3,363.6 L1575.0,362.8 L1575.6,363.2 L1576.3,360.2 L1576.9,363.5 L1577.6,360.3 L1578.3,362.3 L1578.9,364.3 L1579.6,361.5 L1580.2,361.5 L1580.9,362.9 L1581.6,364.9 L1582.2,364.8 L1582.9,362.4 L1583.5,364.0 L1584.2,363.5 L1584.9,363.1 L1585.5,363.1 L1586.2,361.9 L1586.8,363.4 L1587.5,363.6 L1588.2,365.4 L1588.8,363.6 L1589.5,360.2 L1590.1,361.6 L1590.8,363.2 L1591.5,362.8 L1592.1,360.5 L1592.8,362.1 L1593.4,361.8 L1594.1,362.2 L1594.8,362.3 L1595.4,363.6 L1596.1,364.4 L1596.7,363.6 L1597.4,361.6 L1598.1,361.8 L1598.7,362.0 L1599.4,362.7 L1600.0,362.6 L1600.7,363.0 L1601.4,362.8 L1602.0,365.0 L1602.7,365.0 L1603.3,365.1 L1604.0,363.9 L1604.7,364.2 L1605.3,362.5 L1606.0,362.2 L1606.6,362.6 L1607.3,363.7 L1608.0,363.1 L1608.6,362.3 L1609.3,363.7 L1609.9,364.2 L1610.6,363.9 L1611.3,362.9 L1611.9,363.5 L1612.6,363.0 L1613.2,363.1 L1613.9,363.6 L1614.6,364.8 L1615.2,366.1 L1615.9,365.9 L1616.5,364.9 L1617.2,363.8 L1617.9,363.7 L1618.5,363.6 L1619.2,365.1 L1619.8,361.0 L1620.5,364.3 L1621.2,362.1 L1621.8,364.3 L1622.5,365.7 L1623.1,363.3 L1623.8,361.9 L1624.5,365.6 L1625.1,365.8 L1625.8,364.5 L1626.4,365.2 L1627.1,362.9 L1627.8,365.0 L1628.4,365.6 L1629.1,364.6 L1629.7,364.4 L1630.4,365.8 L1631.1,365.9 L1631.7,364.2 L1632.4,366.5 L1633.0,365.9 L1633.7,365.3 L1634.4,366.4 L1635.0,365.9 L1635.7,365.5 L1636.3,364.1 L1637.0,365.4 L1637.7,363.2 L1638.3,364.1 L1639.0,362.3 L1639.6,362.2 L1640.3,364.4 L1641.0,363.8 L1641.6,363.9 L1642.3,364.5 L1642.9,364.2 L1643.6,362.9 L1644.3,363.9 L1644.9,363.7 L1645.6,363.2 L1646.2,363.4 L1646.9,362.8 L1647.6,362.0 L1648.2,361.7 L1648.9,361.7 L1649.5,363.1 L1650.2,359.7 L1650.9,360.8 L1651.5,358.5 L1652.2,361.3 L1652.8,358.8 L1653.5,358.6 L1654.2,359.1 L1654.8,358.2 L1655.5,355.0 L1656.1,356.7 L1656.8,355.3 L1657.5,355.7 L1658.1,354.7 L1658.8,354.7 L1659.4,353.7 L1660.1,352.6 L1660.8,353.2 L1661.4,349.5 L1662.1,349.8 L1662.7,348.5 L1663.4,348.6 L1664.1,347.7 L1664.7,347.5 L1665.4,346.6 L1666.0,346.1 L1666.7,344.2 L1667.4,345.1 L1668.0,344.5 L1668.7,342.6 L1669.3,341.7 L1670.0,340.9 L1670.7,342.7 L1671.3,340.5 L1672.0,340.1 L1672.6,338.9 L1673.3,338.2 L1674.0,337.4 L1674.6,339.5 L1675.3,335.7 L1675.9,337.4 L1676.6,336.6 L1677.3,335.9 L1677.9,334.0 L1678.6,333.9 L1679.2,335.7 L1679.9,333.4 L1680.6,334.5 L1681.2,333.8 L1681.9,333.4 L1682.5,333.3 L1683.2,331.1 L1683.9,331.7 L1684.5,332.9 L1685.2,330.8 L1685.8,333.8 L1686.5,331.3 L1687.2,331.6 L1687.8,330.3 L1688.5,331.3 L1689.1,329.6 L1689.8,329.5 L1690.5,327.9 L1691.1,329.6 L1691.8,325.9 L1692.4,327.4 L1693.1,326.5 L1693.8,326.0 L1694.4,323.9 L1695.1,325.5 L1695.7,325.0 L1696.4,323.7 L1697.1,323.3 L1697.7,322.2 L1698.4,322.4 L1699.0,320.2 L1699.7,321.0 L1700.4,320.2 L1701.0,317.7 L1701.7,315.8 L1702.3,317.6 L1703.0,316.4 L1703.7,316.1 L1704.3,312.9 L1705.0,310.0 L1705.6,306.7 L1706.3,305.6 L1707.0,302.7 L1707.6,300.0 L1708.3,299.1 L1708.9,298.9 L1709.6,297.1 L1710.3,295.8 L1710.9,297.6 L1711.6,296.9 L1712.2,297.4 L1712.9,300.8 L1713.6,301.0 L1714.2,304.1 L1714.9,304.7 L1715.5,305.0 L1716.2,307.6 L1716.9,310.5 L1717.5,310.9 L1718.2,311.9 L1718.8,314.4 L1719.5,316.3 L1720.2,318.1 L1720.8,320.2 L1721.5,324.1 L1722.1,326.8 L1722.8,327.1 L1723.5,330.1 L1724.1,332.4 L1724.8,335.4 L1725.4,335.8 L1726.1,338.0 L1726.8,341.2 L1727.4,343.3 L1728.1,345.7 L1728.7,348.7 L1729.4,348.6 L1730.1,350.5 L1730.7,350.2 L1731.4,352.0 L1732.0,352.4 L1732.7,353.2 L1733.4,354.6 L1734.0,355.1 L1734.7,356.7 L1735.3,357.9 L1736.0,356.1 L1736.7,359.3 L1737.3,356.4 L1738.0,359.5 L1738.6,360.5 L1739.3,359.5 L1740.0,360.5 L1740.6,360.3 L1741.3,362.4 L1741.9,358.3 L1742.6,360.8 L1743.3,359.9 L1743.9,362.2 L1744.6,363.4 L1745.2,363.4 L1745.9,363.0 L1746.6,362.6 L1747.2,361.6 L1747.9,363.8 L1748.5,363.4 L1749.2,362.1 L1749.9,361.8 L1750.5,362.6 L1751.2,364.4 L1751.8,364.5 L1752.5,364.6 L1753.2,361.9 L1753.8,362.1 L1754.5,363.8 L1755.1,362.7 L1755.8,363.4 L1756.5,361.5 L1757.1,362.9 L1757.8,363.6 L1758.4,363.6 L1759.1,363.7 L1759.8,362.6 L1760.4,366.0 L1761.1,364.4 L1761.7,362.4 L1762.4,364.9 L1763.1,363.8 L1763.7,364.5 L1764.4,363.7 L1765.0,363.3 L1765.7,363.5 L1766.4,364.8 L1767.0,365.4 L1767.7,365.0 L1768.3,365.1 L1769.0,365.7 L1769.7,364.7 L1770.3,365.6 L1771.0,365.7 L1771.6,364.7 L1772.3,364.2 L1773.0,363.6 L1773.6,362.6 L1774.3,362.2 L1774.9,365.2 L1775.6,363.9 L1776.3,363.6 L1776.9,366.0 L1777.6,365.5"/>
</g></g>
<g filter="url(#hard)">
<text transform="matrix(0.8200 0 0 0.8348 0.00 79.10)" x="385.1 413.9 461.4 510.1 560.0" font-family="Liberation Serif, serif">(111)</text>
<text transform="matrix(0.8200 0 0 0.8121 0.00 113.80)" x="638.8 669.4 718.4 765.7 815.0" font-family="Liberation Serif, serif">(200)</text>
<text transform="matrix(0.8200 0 0 0.8121 0.00 166.70)" x="1457.0 1487.8 1536.5 1584.1 1632.0" font-family="Liberation Serif, serif">(220)</text>
<text transform="matrix(0.8200 0 0 0.8348 0.00 262.10)" x="1983.8 2013.6 2060.3 2109.1 2158.8" font-family="Liberation Serif, serif">(311)</text>
<text transform="matrix(0.8160 0 0 0.8389 1514.44 346.99)" font-family="Liberation Serif, serif" font-weight="bold" stroke="#fff" stroke-width="1.6" stroke-linejoin="round">a</text>
<text transform="matrix(0.8923 0 0 0.8640 1517.22 657.18)" font-family="Liberation Serif, serif" font-weight="bold" stroke="#fff" stroke-width="1.6" stroke-linejoin="round">b</text>
<text transform="matrix(0.8163 0 0 0.8346 1519.93 945.60)" font-family="Liberation Serif, serif" font-weight="bold" stroke="#fff" stroke-width="1.6" stroke-linejoin="round">c</text>
<text transform="matrix(0.8612 0 0 0.8335 1510.71 1202.59)" font-family="Liberation Serif, serif" font-weight="bold" stroke="#fff" stroke-width="1.6" stroke-linejoin="round">d</text>
<text transform="matrix(0.9361 0 0 0.8519 1515.02 1358.20)" font-family="Liberation Serif, serif" font-weight="bold" stroke="#fff" stroke-width="1.6" stroke-linejoin="round">e</text>
<text transform="matrix(0.8231 0 0 0.8439 92.00 1531.19)" font-family="Liberation Serif, serif" font-weight="bold" stroke="#fff" stroke-width="1.6" stroke-linejoin="round">30</text>
<text transform="matrix(0.8129 0 0 0.8439 421.77 1531.19)" font-family="Liberation Serif, serif" font-weight="bold" stroke="#fff" stroke-width="1.6" stroke-linejoin="round">40</text>
<text transform="matrix(0.8264 0 0 0.8439 749.07 1531.19)" font-family="Liberation Serif, serif" font-weight="bold" stroke="#fff" stroke-width="1.6" stroke-linejoin="round">50</text>
<text transform="matrix(0.8164 0 0 0.8439 1079.03 1531.19)" font-family="Liberation Serif, serif" font-weight="bold" stroke="#fff" stroke-width="1.6" stroke-linejoin="round">60</text>
<text transform="matrix(0.8202 0 0 0.8439 1407.17 1531.19)" font-family="Liberation Serif, serif" font-weight="bold" stroke="#fff" stroke-width="1.6" stroke-linejoin="round">70</text>
<text transform="matrix(0.8033 0 0 0.8439 1737.59 1531.19)" font-family="Liberation Serif, serif" font-weight="bold" stroke="#fff" stroke-width="1.6" stroke-linejoin="round">80</text>
<text transform="matrix(0.8929 0 0 0.8011 0.00 1630.98)" x="947.6 990.8 1026.1 1061.4 1090.4 1126.1" font-family="Liberation Serif, serif" font-weight="bold" stroke="#fff" stroke-width="1.0" stroke-linejoin="round">2θ (°)</text>
<text transform="matrix(0 -0.8400 0.8431 0 77.50 1100.00)" x="112.3 148.9 205.0 238.7 284.1 342.2 383.2 412.2 445.3 483.0 520.6 550.0 596.6 622.6 678.1 700.5" font-family="Liberation Serif, serif" font-weight="bold" stroke="#fff" stroke-width="1.0" stroke-linejoin="round">Intensity (a.u.)</text>
<text transform="matrix(0.8432 0 0 0.8110 187.06 322.36)" font-family="Liberation Sans, sans-serif" stroke="#000" stroke-width="1.2" stroke-linejoin="miter">*</text>
<text transform="matrix(0.8459 0 0 0.8110 462.15 338.66)" font-family="Liberation Sans, sans-serif" stroke="#000" stroke-width="1.2" stroke-linejoin="miter">*</text>
<text transform="matrix(0.8378 0 0 0.8027 504.36 349.39)" font-family="Liberation Sans, sans-serif" stroke="#000" stroke-width="1.2" stroke-linejoin="miter">*</text>
<text transform="matrix(0.8378 0 0 0.8110 644.56 347.86)" font-family="Liberation Sans, sans-serif" stroke="#000" stroke-width="1.2" stroke-linejoin="miter">*</text>
</g>
</svg>
</body>
</html>
